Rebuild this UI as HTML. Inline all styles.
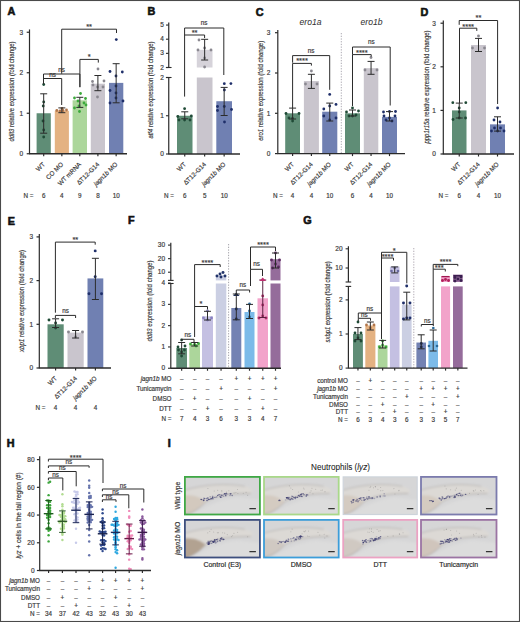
<!DOCTYPE html>
<html><head><meta charset="utf-8"><style>
html,body{margin:0;padding:0;background:#fff;}
svg{display:block;}
text{font-family:"Liberation Sans", sans-serif; stroke:#3a3a3a; stroke-width:0.18px;}
</style></head><body>
<svg width="520" height="622" viewBox="0 0 520 622">
<rect x="0" y="0" width="520" height="622" fill="#fff"/>
<text x="7.50" y="14.90" font-size="10.8" font-weight="bold" fill="#111" style="stroke:#111;stroke-width:0.6px">A</text>
<line x1="29.50" y1="29.45" x2="29.50" y2="153.75" stroke="#2b2b2b" stroke-width="1.2"/>
<line x1="26.70" y1="32.25" x2="29.50" y2="32.25" stroke="#2b2b2b" stroke-width="1.2"/>
<text x="23.20" y="34.55" font-size="6.5" text-anchor="end" font-weight="normal" font-style="normal" fill="#3a3a3a">3</text>
<line x1="26.70" y1="72.75" x2="29.50" y2="72.75" stroke="#2b2b2b" stroke-width="1.2"/>
<text x="23.20" y="75.05" font-size="6.5" text-anchor="end" font-weight="normal" font-style="normal" fill="#3a3a3a">2</text>
<line x1="26.70" y1="113.25" x2="29.50" y2="113.25" stroke="#2b2b2b" stroke-width="1.2"/>
<text x="23.20" y="115.55" font-size="6.5" text-anchor="end" font-weight="normal" font-style="normal" fill="#3a3a3a">1</text>
<line x1="26.70" y1="153.75" x2="29.50" y2="153.75" stroke="#2b2b2b" stroke-width="1.2"/>
<text x="23.20" y="156.05" font-size="6.5" text-anchor="end" font-weight="normal" font-style="normal" fill="#3a3a3a">0</text>
<text x="13.80" y="91.50" font-size="8.0" text-anchor="middle" fill="#3a3a3a" transform="rotate(-90 13.80 91.50)" textLength="100" lengthAdjust="spacingAndGlyphs"><tspan font-style="italic">ddit3</tspan> relative expression (fold change)</text>
<rect x="36.60" y="113.25" width="14.20" height="40.50" fill="#5f8d76"/>
<rect x="54.80" y="110.82" width="14.10" height="42.93" fill="#e4b282"/>
<rect x="72.60" y="100.29" width="14.40" height="53.46" fill="#acd69b"/>
<rect x="90.80" y="83.69" width="14.20" height="70.06" fill="#c9c5cd"/>
<rect x="109.00" y="82.88" width="14.30" height="70.88" fill="#7080b2"/>
<circle cx="43.70" cy="84.50" r="1.4029999999999998" fill="#1f4a36" fill-opacity="1"/>
<circle cx="43.70" cy="102.00" r="1.4029999999999998" fill="#1f4a36" fill-opacity="1"/>
<circle cx="43.20" cy="106.00" r="1.4029999999999998" fill="#1f4a36" fill-opacity="1"/>
<circle cx="43.00" cy="121.00" r="1.4029999999999998" fill="#1f4a36" fill-opacity="1"/>
<circle cx="43.70" cy="130.00" r="1.4029999999999998" fill="#1f4a36" fill-opacity="1"/>
<circle cx="43.70" cy="137.00" r="1.4029999999999998" fill="#1f4a36" fill-opacity="1"/>
<circle cx="56.80" cy="110.50" r="1.4029999999999998" fill="#b2764a" fill-opacity="1"/>
<circle cx="60.00" cy="111.00" r="1.4029999999999998" fill="#b2764a" fill-opacity="1"/>
<circle cx="63.00" cy="110.50" r="1.4029999999999998" fill="#b2764a" fill-opacity="1"/>
<circle cx="66.50" cy="110.00" r="1.4029999999999998" fill="#b2764a" fill-opacity="1"/>
<circle cx="62.00" cy="108.50" r="1.4029999999999998" fill="#b2764a" fill-opacity="1"/>
<circle cx="80.50" cy="93.50" r="1.4029999999999998" fill="#3caa3c" fill-opacity="1"/>
<circle cx="74.50" cy="98.00" r="1.4029999999999998" fill="#3caa3c" fill-opacity="1"/>
<circle cx="85.50" cy="98.50" r="1.4029999999999998" fill="#3caa3c" fill-opacity="1"/>
<circle cx="78.00" cy="101.00" r="1.4029999999999998" fill="#3caa3c" fill-opacity="1"/>
<circle cx="84.00" cy="103.00" r="1.4029999999999998" fill="#3caa3c" fill-opacity="1"/>
<circle cx="79.00" cy="106.00" r="1.4029999999999998" fill="#3caa3c" fill-opacity="1"/>
<circle cx="74.50" cy="108.00" r="1.4029999999999998" fill="#3caa3c" fill-opacity="1"/>
<circle cx="86.00" cy="105.00" r="1.4029999999999998" fill="#3caa3c" fill-opacity="1"/>
<circle cx="79.50" cy="111.50" r="1.4029999999999998" fill="#3caa3c" fill-opacity="1"/>
<circle cx="98.00" cy="69.00" r="1.4029999999999998" fill="#8a8890" fill-opacity="1"/>
<circle cx="92.50" cy="81.50" r="1.4029999999999998" fill="#8a8890" fill-opacity="1"/>
<circle cx="104.00" cy="81.00" r="1.4029999999999998" fill="#8a8890" fill-opacity="1"/>
<circle cx="97.50" cy="87.00" r="1.4029999999999998" fill="#8a8890" fill-opacity="1"/>
<circle cx="97.50" cy="97.00" r="1.4029999999999998" fill="#8a8890" fill-opacity="1"/>
<circle cx="93.00" cy="85.00" r="1.4029999999999998" fill="#8a8890" fill-opacity="1"/>
<circle cx="103.00" cy="87.00" r="1.4029999999999998" fill="#8a8890" fill-opacity="1"/>
<circle cx="116.30" cy="39.60" r="1.4029999999999998" fill="#1f2f6a" fill-opacity="1"/>
<circle cx="110.00" cy="71.50" r="1.4029999999999998" fill="#1f2f6a" fill-opacity="1"/>
<circle cx="122.30" cy="72.00" r="1.4029999999999998" fill="#1f2f6a" fill-opacity="1"/>
<circle cx="116.00" cy="76.00" r="1.4029999999999998" fill="#1f2f6a" fill-opacity="1"/>
<circle cx="116.00" cy="86.00" r="1.4029999999999998" fill="#1f2f6a" fill-opacity="1"/>
<circle cx="110.00" cy="90.50" r="1.4029999999999998" fill="#1f2f6a" fill-opacity="1"/>
<circle cx="116.00" cy="93.00" r="1.4029999999999998" fill="#1f2f6a" fill-opacity="1"/>
<circle cx="123.00" cy="101.00" r="1.4029999999999998" fill="#1f2f6a" fill-opacity="1"/>
<circle cx="110.00" cy="103.00" r="1.4029999999999998" fill="#1f2f6a" fill-opacity="1"/>
<circle cx="116.00" cy="98.00" r="1.4029999999999998" fill="#1f2f6a" fill-opacity="1"/>
<line x1="43.70" y1="93.80" x2="43.70" y2="133.20" stroke="#2b2b2b" stroke-width="1.0"/>
<line x1="40.20" y1="93.80" x2="47.20" y2="93.80" stroke="#2b2b2b" stroke-width="1.0"/>
<line x1="40.20" y1="133.20" x2="47.20" y2="133.20" stroke="#2b2b2b" stroke-width="1.0"/>
<line x1="61.85" y1="107.90" x2="61.85" y2="112.70" stroke="#2b2b2b" stroke-width="1.0"/>
<line x1="58.35" y1="107.90" x2="65.35" y2="107.90" stroke="#2b2b2b" stroke-width="1.0"/>
<line x1="58.35" y1="112.70" x2="65.35" y2="112.70" stroke="#2b2b2b" stroke-width="1.0"/>
<line x1="79.80" y1="97.30" x2="79.80" y2="107.40" stroke="#2b2b2b" stroke-width="1.0"/>
<line x1="76.30" y1="97.30" x2="83.30" y2="97.30" stroke="#2b2b2b" stroke-width="1.0"/>
<line x1="76.30" y1="107.40" x2="83.30" y2="107.40" stroke="#2b2b2b" stroke-width="1.0"/>
<line x1="97.90" y1="75.50" x2="97.90" y2="90.70" stroke="#2b2b2b" stroke-width="1.0"/>
<line x1="94.40" y1="75.50" x2="101.40" y2="75.50" stroke="#2b2b2b" stroke-width="1.0"/>
<line x1="94.40" y1="90.70" x2="101.40" y2="90.70" stroke="#2b2b2b" stroke-width="1.0"/>
<line x1="116.15" y1="63.70" x2="116.15" y2="102.80" stroke="#2b2b2b" stroke-width="1.0"/>
<line x1="112.65" y1="63.70" x2="119.65" y2="63.70" stroke="#2b2b2b" stroke-width="1.0"/>
<line x1="112.65" y1="102.80" x2="119.65" y2="102.80" stroke="#2b2b2b" stroke-width="1.0"/>
<line x1="29.00" y1="153.75" x2="127.00" y2="153.75" stroke="#2b2b2b" stroke-width="1.3"/>
<line x1="43.70" y1="153.75" x2="43.70" y2="156.25" stroke="#2b2b2b" stroke-width="1.1700000000000002"/>
<line x1="61.85" y1="153.75" x2="61.85" y2="156.25" stroke="#2b2b2b" stroke-width="1.1700000000000002"/>
<line x1="79.80" y1="153.75" x2="79.80" y2="156.25" stroke="#2b2b2b" stroke-width="1.1700000000000002"/>
<line x1="97.90" y1="153.75" x2="97.90" y2="156.25" stroke="#2b2b2b" stroke-width="1.1700000000000002"/>
<line x1="116.15" y1="153.75" x2="116.15" y2="156.25" stroke="#2b2b2b" stroke-width="1.1700000000000002"/>
<text x="45.50" y="164.80" font-size="6.3" text-anchor="end" fill="#3a3a3a" transform="rotate(-45 45.50 164.80)">WT</text>
<text x="63.65" y="164.80" font-size="6.3" text-anchor="end" fill="#3a3a3a" transform="rotate(-45 63.65 164.80)">CO MO</text>
<text x="81.60" y="164.80" font-size="6.3" text-anchor="end" fill="#3a3a3a" transform="rotate(-45 81.60 164.80)">WT mRNA</text>
<text x="99.70" y="164.80" font-size="6.3" text-anchor="end" fill="#3a3a3a" transform="rotate(-45 99.70 164.80)">ΔT12-G14</text>
<text x="117.95" y="164.80" font-size="6.3" text-anchor="end" fill="#3a3a3a" transform="rotate(-45 117.95 164.80)"><tspan font-style="italic">jagn1b</tspan> MO</text>
<text x="33.50" y="197.70" font-size="6.3" text-anchor="end" font-weight="normal" font-style="normal" fill="#3a3a3a">N =</text>
<text x="43.70" y="197.70" font-size="6.3" text-anchor="middle" font-weight="normal" font-style="normal" fill="#3a3a3a">6</text>
<text x="61.85" y="197.70" font-size="6.3" text-anchor="middle" font-weight="normal" font-style="normal" fill="#3a3a3a">4</text>
<text x="79.80" y="197.70" font-size="6.3" text-anchor="middle" font-weight="normal" font-style="normal" fill="#3a3a3a">9</text>
<text x="97.90" y="197.70" font-size="6.3" text-anchor="middle" font-weight="normal" font-style="normal" fill="#3a3a3a">8</text>
<text x="116.15" y="197.70" font-size="6.3" text-anchor="middle" font-weight="normal" font-style="normal" fill="#3a3a3a">10</text>
<polyline points="43.50,80.50 43.50,78.50 61.70,78.50 61.70,105.00" fill="none" stroke="#2b2b2b" stroke-width="1.0"/>
<text x="52.60" y="76.50" font-size="6.3" text-anchor="middle" font-weight="normal" font-style="normal" fill="#3a3a3a">ns</text>
<polyline points="43.50,84.00 43.50,74.00 79.90,74.00 79.90,87.30" fill="none" stroke="#2b2b2b" stroke-width="1.0"/>
<text x="61.70" y="71.50" font-size="6.3" text-anchor="middle" font-weight="normal" font-style="normal" fill="#3a3a3a">ns</text>
<polyline points="61.70,73.80 61.70,29.20 116.50,29.20 116.50,33.00" fill="none" stroke="#2b2b2b" stroke-width="1.0"/>
<text x="89.10" y="29.00" font-size="7.5" text-anchor="middle" font-weight="normal" font-style="normal" fill="#3a3a3a">**</text>
<polyline points="79.90,87.00 79.90,59.40 98.30,59.40 98.30,62.60" fill="none" stroke="#2b2b2b" stroke-width="1.0"/>
<text x="89.10" y="59.00" font-size="7.5" text-anchor="middle" font-weight="normal" font-style="normal" fill="#3a3a3a">*</text>
<text x="147.50" y="15.30" font-size="10.8" font-weight="bold" fill="#111" style="stroke:#111;stroke-width:0.6px">B</text>
<line x1="168.75" y1="22.55" x2="168.75" y2="67.50" stroke="#2b2b2b" stroke-width="1.2"/>
<line x1="168.75" y1="77.50" x2="168.75" y2="154.00" stroke="#2b2b2b" stroke-width="1.2"/>
<line x1="165.95" y1="25.05" x2="168.75" y2="25.05" stroke="#2b2b2b" stroke-width="1.1"/>
<text x="163.80" y="27.15" font-size="6.5" text-anchor="end" font-weight="normal" font-style="normal" fill="#3a3a3a">5</text>
<line x1="165.95" y1="39.20" x2="168.75" y2="39.20" stroke="#2b2b2b" stroke-width="1.1"/>
<text x="163.80" y="41.30" font-size="6.5" text-anchor="end" font-weight="normal" font-style="normal" fill="#3a3a3a">4</text>
<line x1="165.95" y1="53.35" x2="168.75" y2="53.35" stroke="#2b2b2b" stroke-width="1.1"/>
<text x="163.80" y="55.45" font-size="6.5" text-anchor="end" font-weight="normal" font-style="normal" fill="#3a3a3a">3</text>
<line x1="165.95" y1="67.50" x2="168.75" y2="67.50" stroke="#2b2b2b" stroke-width="1.1"/>
<text x="163.80" y="69.60" font-size="6.5" text-anchor="end" font-weight="normal" font-style="normal" fill="#3a3a3a">2</text>
<line x1="165.95" y1="67.50" x2="171.55" y2="67.50" stroke="#2b2b2b" stroke-width="1.1"/>
<line x1="165.95" y1="77.50" x2="171.55" y2="77.50" stroke="#2b2b2b" stroke-width="1.1"/>
<line x1="165.95" y1="77.50" x2="168.75" y2="77.50" stroke="#2b2b2b" stroke-width="1.1"/>
<text x="163.80" y="79.60" font-size="6.5" text-anchor="end" font-weight="normal" font-style="normal" fill="#3a3a3a">2</text>
<line x1="165.95" y1="115.75" x2="168.75" y2="115.75" stroke="#2b2b2b" stroke-width="1.1"/>
<text x="163.80" y="117.85" font-size="6.5" text-anchor="end" font-weight="normal" font-style="normal" fill="#3a3a3a">1</text>
<line x1="165.95" y1="154.00" x2="168.75" y2="154.00" stroke="#2b2b2b" stroke-width="1.1"/>
<text x="163.80" y="156.10" font-size="6.5" text-anchor="end" font-weight="normal" font-style="normal" fill="#3a3a3a">0</text>
<text x="153.20" y="90.10" font-size="8.0" text-anchor="middle" fill="#3a3a3a" transform="rotate(-90 153.20 90.10)" textLength="97" lengthAdjust="spacingAndGlyphs"><tspan font-style="italic">atf4</tspan> relative expression (fold change)</text>
<rect x="177.00" y="115.75" width="15.50" height="38.25" fill="#5f8d76"/>
<rect x="196.80" y="77.50" width="15.70" height="76.50" fill="#c9c5cd"/>
<rect x="196.80" y="49.81" width="15.70" height="17.69" fill="#d6d3da"/>
<rect x="216.30" y="101.22" width="15.70" height="52.78" fill="#7080b2"/>
<circle cx="184.60" cy="108.70" r="1.4029999999999998" fill="#1f4a36" fill-opacity="1"/>
<circle cx="177.80" cy="116.50" r="1.4029999999999998" fill="#1f4a36" fill-opacity="1"/>
<circle cx="191.30" cy="116.00" r="1.4029999999999998" fill="#1f4a36" fill-opacity="1"/>
<circle cx="179.00" cy="120.00" r="1.4029999999999998" fill="#1f4a36" fill-opacity="1"/>
<circle cx="190.00" cy="120.00" r="1.4029999999999998" fill="#1f4a36" fill-opacity="1"/>
<circle cx="184.60" cy="120.00" r="1.4029999999999998" fill="#1f4a36" fill-opacity="1"/>
<circle cx="199.00" cy="40.00" r="1.4029999999999998" fill="#8a8890" fill-opacity="1"/>
<circle cx="211.00" cy="50.00" r="1.4029999999999998" fill="#8a8890" fill-opacity="1"/>
<circle cx="198.00" cy="50.00" r="1.4029999999999998" fill="#8a8890" fill-opacity="1"/>
<circle cx="204.60" cy="48.00" r="1.4029999999999998" fill="#8a8890" fill-opacity="1"/>
<circle cx="204.60" cy="67.00" r="1.4029999999999998" fill="#8a8890" fill-opacity="1"/>
<circle cx="204.60" cy="58.00" r="1.4029999999999998" fill="#8a8890" fill-opacity="1"/>
<circle cx="224.30" cy="83.70" r="1.4029999999999998" fill="#1f2f6a" fill-opacity="1"/>
<circle cx="230.90" cy="83.60" r="1.4029999999999998" fill="#1f2f6a" fill-opacity="1"/>
<circle cx="224.40" cy="90.00" r="1.4029999999999998" fill="#1f2f6a" fill-opacity="1"/>
<circle cx="217.50" cy="106.50" r="1.4029999999999998" fill="#1f2f6a" fill-opacity="1"/>
<circle cx="224.30" cy="106.50" r="1.4029999999999998" fill="#1f2f6a" fill-opacity="1"/>
<circle cx="231.50" cy="109.50" r="1.4029999999999998" fill="#1f2f6a" fill-opacity="1"/>
<circle cx="217.50" cy="110.50" r="1.4029999999999998" fill="#1f2f6a" fill-opacity="1"/>
<circle cx="224.50" cy="122.00" r="1.4029999999999998" fill="#1f2f6a" fill-opacity="1"/>
<line x1="184.75" y1="111.80" x2="184.75" y2="118.80" stroke="#2b2b2b" stroke-width="1.0"/>
<line x1="181.25" y1="111.80" x2="188.25" y2="111.80" stroke="#2b2b2b" stroke-width="1.0"/>
<line x1="181.25" y1="118.80" x2="188.25" y2="118.80" stroke="#2b2b2b" stroke-width="1.0"/>
<line x1="204.65" y1="39.30" x2="204.65" y2="60.00" stroke="#2b2b2b" stroke-width="1.0"/>
<line x1="201.15" y1="39.30" x2="208.15" y2="39.30" stroke="#2b2b2b" stroke-width="1.0"/>
<line x1="201.15" y1="60.00" x2="208.15" y2="60.00" stroke="#2b2b2b" stroke-width="1.0"/>
<line x1="224.15" y1="87.40" x2="224.15" y2="115.50" stroke="#2b2b2b" stroke-width="1.0"/>
<line x1="220.65" y1="87.40" x2="227.65" y2="87.40" stroke="#2b2b2b" stroke-width="1.0"/>
<line x1="220.65" y1="115.50" x2="227.65" y2="115.50" stroke="#2b2b2b" stroke-width="1.0"/>
<line x1="168.25" y1="154.00" x2="240.00" y2="154.00" stroke="#2b2b2b" stroke-width="1.3"/>
<line x1="184.75" y1="154.00" x2="184.75" y2="156.50" stroke="#2b2b2b" stroke-width="1.1700000000000002"/>
<line x1="204.65" y1="154.00" x2="204.65" y2="156.50" stroke="#2b2b2b" stroke-width="1.1700000000000002"/>
<line x1="224.15" y1="154.00" x2="224.15" y2="156.50" stroke="#2b2b2b" stroke-width="1.1700000000000002"/>
<text x="186.55" y="164.80" font-size="6.3" text-anchor="end" fill="#3a3a3a" transform="rotate(-45 186.55 164.80)">WT</text>
<text x="206.45" y="164.80" font-size="6.3" text-anchor="end" fill="#3a3a3a" transform="rotate(-45 206.45 164.80)">ΔT12-G14</text>
<text x="225.95" y="164.80" font-size="6.3" text-anchor="end" fill="#3a3a3a" transform="rotate(-45 225.95 164.80)"><tspan font-style="italic">jagn1b</tspan> MO</text>
<text x="174.00" y="197.70" font-size="6.3" text-anchor="end" font-weight="normal" font-style="normal" fill="#3a3a3a">N =</text>
<text x="184.75" y="197.70" font-size="6.3" text-anchor="middle" font-weight="normal" font-style="normal" fill="#3a3a3a">6</text>
<text x="204.65" y="197.70" font-size="6.3" text-anchor="middle" font-weight="normal" font-style="normal" fill="#3a3a3a">5</text>
<text x="224.15" y="197.70" font-size="6.3" text-anchor="middle" font-weight="normal" font-style="normal" fill="#3a3a3a">10</text>
<polyline points="184.60,35.00 184.60,28.00 223.80,28.00 223.80,75.00" fill="none" stroke="#2b2b2b" stroke-width="1.0"/>
<text x="204.20" y="25.00" font-size="6.3" text-anchor="middle" font-weight="normal" font-style="normal" fill="#3a3a3a">ns</text>
<polyline points="184.60,96.60 184.60,35.00 204.60,35.00 204.60,38.00" fill="none" stroke="#2b2b2b" stroke-width="1.0"/>
<text x="194.60" y="34.50" font-size="7.5" text-anchor="middle" font-weight="normal" font-style="normal" fill="#3a3a3a">**</text>
<text x="255.80" y="15.50" font-size="10.8" font-weight="bold" fill="#111" style="stroke:#111;stroke-width:0.6px">C</text>
<line x1="277.80" y1="29.90" x2="277.80" y2="153.60" stroke="#2b2b2b" stroke-width="1.2"/>
<line x1="275.00" y1="32.70" x2="277.80" y2="32.70" stroke="#2b2b2b" stroke-width="1.2"/>
<text x="270.30" y="35.00" font-size="6.5" text-anchor="end" font-weight="normal" font-style="normal" fill="#3a3a3a">3</text>
<line x1="275.00" y1="73.00" x2="277.80" y2="73.00" stroke="#2b2b2b" stroke-width="1.2"/>
<text x="270.30" y="75.30" font-size="6.5" text-anchor="end" font-weight="normal" font-style="normal" fill="#3a3a3a">2</text>
<line x1="275.00" y1="113.30" x2="277.80" y2="113.30" stroke="#2b2b2b" stroke-width="1.2"/>
<text x="270.30" y="115.60" font-size="6.5" text-anchor="end" font-weight="normal" font-style="normal" fill="#3a3a3a">1</text>
<line x1="275.00" y1="153.60" x2="277.80" y2="153.60" stroke="#2b2b2b" stroke-width="1.2"/>
<text x="270.30" y="155.90" font-size="6.5" text-anchor="end" font-weight="normal" font-style="normal" fill="#3a3a3a">0</text>
<text x="263.00" y="90.80" font-size="8.0" text-anchor="middle" fill="#3a3a3a" transform="rotate(-90 263.00 90.80)" textLength="100" lengthAdjust="spacingAndGlyphs"><tspan font-style="italic">ero1</tspan> relative expression (fold change)</text>
<text x="310.6" y="25.3" font-size="8.6" text-anchor="middle" font-style="italic" fill="#333" style="stroke-width:0.05px">ero1a</text>
<text x="371.5" y="25.3" font-size="8.6" text-anchor="middle" font-style="italic" fill="#333" style="stroke-width:0.05px">ero1b</text>
<line x1="341.30" y1="33.00" x2="341.30" y2="153.00" stroke="#a4a0aa" stroke-width="0.9" stroke-dasharray="1.3,1.4"/>
<rect x="285.20" y="113.30" width="14.80" height="40.30" fill="#5f8d76"/>
<rect x="303.90" y="81.06" width="15.00" height="72.54" fill="#c9c5cd"/>
<rect x="322.20" y="111.69" width="15.10" height="41.91" fill="#7080b2"/>
<rect x="345.00" y="113.30" width="15.00" height="40.30" fill="#5f8d76"/>
<rect x="363.80" y="68.16" width="14.50" height="85.44" fill="#c9c5cd"/>
<rect x="382.00" y="116.93" width="15.00" height="36.67" fill="#7080b2"/>
<circle cx="286.00" cy="113.50" r="1.4029999999999998" fill="#1f4a36" fill-opacity="1"/>
<circle cx="299.00" cy="113.50" r="1.4029999999999998" fill="#1f4a36" fill-opacity="1"/>
<circle cx="292.50" cy="118.40" r="1.4029999999999998" fill="#1f4a36" fill-opacity="1"/>
<circle cx="292.60" cy="121.00" r="1.4029999999999998" fill="#1f4a36" fill-opacity="1"/>
<circle cx="289.00" cy="118.00" r="1.4029999999999998" fill="#1f4a36" fill-opacity="1"/>
<circle cx="311.40" cy="71.00" r="1.4029999999999998" fill="#8a8890" fill-opacity="1"/>
<circle cx="305.50" cy="84.00" r="1.4029999999999998" fill="#8a8890" fill-opacity="1"/>
<circle cx="317.00" cy="84.00" r="1.4029999999999998" fill="#8a8890" fill-opacity="1"/>
<circle cx="329.70" cy="94.40" r="1.4029999999999998" fill="#1f2f6a" fill-opacity="1"/>
<circle cx="323.80" cy="109.00" r="1.4029999999999998" fill="#1f2f6a" fill-opacity="1"/>
<circle cx="336.00" cy="104.40" r="1.4029999999999998" fill="#1f2f6a" fill-opacity="1"/>
<circle cx="329.70" cy="106.00" r="1.4029999999999998" fill="#1f2f6a" fill-opacity="1"/>
<circle cx="323.80" cy="116.00" r="1.4029999999999998" fill="#1f2f6a" fill-opacity="1"/>
<circle cx="336.00" cy="118.00" r="1.4029999999999998" fill="#1f2f6a" fill-opacity="1"/>
<circle cx="329.70" cy="120.00" r="1.4029999999999998" fill="#1f2f6a" fill-opacity="1"/>
<circle cx="352.50" cy="108.00" r="1.4029999999999998" fill="#1f4a36" fill-opacity="1"/>
<circle cx="346.50" cy="112.00" r="1.4029999999999998" fill="#1f4a36" fill-opacity="1"/>
<circle cx="358.50" cy="111.00" r="1.4029999999999998" fill="#1f4a36" fill-opacity="1"/>
<circle cx="352.50" cy="116.00" r="1.4029999999999998" fill="#1f4a36" fill-opacity="1"/>
<circle cx="349.00" cy="116.00" r="1.4029999999999998" fill="#1f4a36" fill-opacity="1"/>
<circle cx="356.00" cy="115.00" r="1.4029999999999998" fill="#1f4a36" fill-opacity="1"/>
<circle cx="371.00" cy="57.50" r="1.4029999999999998" fill="#8a8890" fill-opacity="1"/>
<circle cx="365.00" cy="70.00" r="1.4029999999999998" fill="#8a8890" fill-opacity="1"/>
<circle cx="377.00" cy="70.00" r="1.4029999999999998" fill="#8a8890" fill-opacity="1"/>
<circle cx="389.50" cy="111.50" r="1.4029999999999998" fill="#1f2f6a" fill-opacity="1"/>
<circle cx="383.50" cy="112.00" r="1.4029999999999998" fill="#1f2f6a" fill-opacity="1"/>
<circle cx="395.50" cy="111.50" r="1.4029999999999998" fill="#1f2f6a" fill-opacity="1"/>
<circle cx="386.00" cy="120.00" r="1.4029999999999998" fill="#1f2f6a" fill-opacity="1"/>
<circle cx="392.00" cy="121.00" r="1.4029999999999998" fill="#1f2f6a" fill-opacity="1"/>
<circle cx="389.50" cy="118.00" r="1.4029999999999998" fill="#1f2f6a" fill-opacity="1"/>
<circle cx="384.00" cy="116.00" r="1.4029999999999998" fill="#1f2f6a" fill-opacity="1"/>
<circle cx="395.00" cy="116.00" r="1.4029999999999998" fill="#1f2f6a" fill-opacity="1"/>
<line x1="292.60" y1="108.10" x2="292.60" y2="119.00" stroke="#2b2b2b" stroke-width="1.0"/>
<line x1="289.10" y1="108.10" x2="296.10" y2="108.10" stroke="#2b2b2b" stroke-width="1.0"/>
<line x1="289.10" y1="119.00" x2="296.10" y2="119.00" stroke="#2b2b2b" stroke-width="1.0"/>
<line x1="311.40" y1="74.30" x2="311.40" y2="88.40" stroke="#2b2b2b" stroke-width="1.0"/>
<line x1="307.90" y1="74.30" x2="314.90" y2="74.30" stroke="#2b2b2b" stroke-width="1.0"/>
<line x1="307.90" y1="88.40" x2="314.90" y2="88.40" stroke="#2b2b2b" stroke-width="1.0"/>
<line x1="329.75" y1="103.10" x2="329.75" y2="121.00" stroke="#2b2b2b" stroke-width="1.0"/>
<line x1="326.25" y1="103.10" x2="333.25" y2="103.10" stroke="#2b2b2b" stroke-width="1.0"/>
<line x1="326.25" y1="121.00" x2="333.25" y2="121.00" stroke="#2b2b2b" stroke-width="1.0"/>
<line x1="352.50" y1="110.00" x2="352.50" y2="116.00" stroke="#2b2b2b" stroke-width="1.0"/>
<line x1="349.00" y1="110.00" x2="356.00" y2="110.00" stroke="#2b2b2b" stroke-width="1.0"/>
<line x1="349.00" y1="116.00" x2="356.00" y2="116.00" stroke="#2b2b2b" stroke-width="1.0"/>
<line x1="371.05" y1="61.40" x2="371.05" y2="74.30" stroke="#2b2b2b" stroke-width="1.0"/>
<line x1="367.55" y1="61.40" x2="374.55" y2="61.40" stroke="#2b2b2b" stroke-width="1.0"/>
<line x1="367.55" y1="74.30" x2="374.55" y2="74.30" stroke="#2b2b2b" stroke-width="1.0"/>
<line x1="389.50" y1="111.60" x2="389.50" y2="121.00" stroke="#2b2b2b" stroke-width="1.0"/>
<line x1="386.00" y1="111.60" x2="393.00" y2="111.60" stroke="#2b2b2b" stroke-width="1.0"/>
<line x1="386.00" y1="121.00" x2="393.00" y2="121.00" stroke="#2b2b2b" stroke-width="1.0"/>
<line x1="277.30" y1="153.60" x2="405.00" y2="153.60" stroke="#2b2b2b" stroke-width="1.3"/>
<line x1="292.60" y1="153.60" x2="292.60" y2="156.10" stroke="#2b2b2b" stroke-width="1.1700000000000002"/>
<line x1="311.40" y1="153.60" x2="311.40" y2="156.10" stroke="#2b2b2b" stroke-width="1.1700000000000002"/>
<line x1="329.75" y1="153.60" x2="329.75" y2="156.10" stroke="#2b2b2b" stroke-width="1.1700000000000002"/>
<line x1="352.50" y1="153.60" x2="352.50" y2="156.10" stroke="#2b2b2b" stroke-width="1.1700000000000002"/>
<line x1="371.05" y1="153.60" x2="371.05" y2="156.10" stroke="#2b2b2b" stroke-width="1.1700000000000002"/>
<line x1="389.50" y1="153.60" x2="389.50" y2="156.10" stroke="#2b2b2b" stroke-width="1.1700000000000002"/>
<text x="294.40" y="164.80" font-size="6.3" text-anchor="end" fill="#3a3a3a" transform="rotate(-45 294.40 164.80)">WT</text>
<text x="313.20" y="164.80" font-size="6.3" text-anchor="end" fill="#3a3a3a" transform="rotate(-45 313.20 164.80)">ΔT12-G14</text>
<text x="331.55" y="164.80" font-size="6.3" text-anchor="end" fill="#3a3a3a" transform="rotate(-45 331.55 164.80)"><tspan font-style="italic">jagn1b</tspan> MO</text>
<text x="354.30" y="164.80" font-size="6.3" text-anchor="end" fill="#3a3a3a" transform="rotate(-45 354.30 164.80)">WT</text>
<text x="372.85" y="164.80" font-size="6.3" text-anchor="end" fill="#3a3a3a" transform="rotate(-45 372.85 164.80)">ΔT12-G14</text>
<text x="391.30" y="164.80" font-size="6.3" text-anchor="end" fill="#3a3a3a" transform="rotate(-45 391.30 164.80)"><tspan font-style="italic">jagn1b</tspan> MO</text>
<text x="283.00" y="197.70" font-size="6.3" text-anchor="end" font-weight="normal" font-style="normal" fill="#3a3a3a">N =</text>
<text x="292.60" y="197.70" font-size="6.3" text-anchor="middle" font-weight="normal" font-style="normal" fill="#3a3a3a">4</text>
<text x="311.40" y="197.70" font-size="6.3" text-anchor="middle" font-weight="normal" font-style="normal" fill="#3a3a3a">4</text>
<text x="329.75" y="197.70" font-size="6.3" text-anchor="middle" font-weight="normal" font-style="normal" fill="#3a3a3a">10</text>
<text x="352.50" y="197.70" font-size="6.3" text-anchor="middle" font-weight="normal" font-style="normal" fill="#3a3a3a">6</text>
<text x="371.05" y="197.70" font-size="6.3" text-anchor="middle" font-weight="normal" font-style="normal" fill="#3a3a3a">4</text>
<text x="389.50" y="197.70" font-size="6.3" text-anchor="middle" font-weight="normal" font-style="normal" fill="#3a3a3a">10</text>
<polyline points="292.60,62.70 292.60,55.60 329.70,55.60 329.70,89.80" fill="none" stroke="#2b2b2b" stroke-width="1.0"/>
<text x="311.15" y="52.50" font-size="6.3" text-anchor="middle" font-weight="normal" font-style="normal" fill="#3a3a3a">ns</text>
<polyline points="292.60,108.00 292.60,63.40 311.40,63.40 311.40,65.60" fill="none" stroke="#2b2b2b" stroke-width="1.0"/>
<text x="302.00" y="63.00" font-size="7.5" text-anchor="middle" font-weight="normal" font-style="normal" fill="#3a3a3a">****</text>
<polyline points="352.50,54.60 352.50,47.00 390.20,47.00 390.20,105.50" fill="none" stroke="#2b2b2b" stroke-width="1.0"/>
<text x="371.35" y="44.00" font-size="6.3" text-anchor="middle" font-weight="normal" font-style="normal" fill="#3a3a3a">ns</text>
<polyline points="352.50,106.00 352.50,54.60 371.20,54.60 371.20,56.50" fill="none" stroke="#2b2b2b" stroke-width="1.0"/>
<text x="361.85" y="54.50" font-size="7.5" text-anchor="middle" font-weight="normal" font-style="normal" fill="#3a3a3a">****</text>
<text x="420.50" y="15.80" font-size="10.8" font-weight="bold" fill="#111" style="stroke:#111;stroke-width:0.6px">D</text>
<line x1="443.30" y1="20.40" x2="443.30" y2="154.00" stroke="#2b2b2b" stroke-width="1.2"/>
<line x1="440.50" y1="23.20" x2="443.30" y2="23.20" stroke="#2b2b2b" stroke-width="1.2"/>
<text x="435.80" y="25.50" font-size="6.5" text-anchor="end" font-weight="normal" font-style="normal" fill="#3a3a3a">3</text>
<line x1="440.50" y1="66.80" x2="443.30" y2="66.80" stroke="#2b2b2b" stroke-width="1.2"/>
<text x="435.80" y="69.10" font-size="6.5" text-anchor="end" font-weight="normal" font-style="normal" fill="#3a3a3a">2</text>
<line x1="440.50" y1="110.40" x2="443.30" y2="110.40" stroke="#2b2b2b" stroke-width="1.2"/>
<text x="435.80" y="112.70" font-size="6.5" text-anchor="end" font-weight="normal" font-style="normal" fill="#3a3a3a">1</text>
<line x1="440.50" y1="154.00" x2="443.30" y2="154.00" stroke="#2b2b2b" stroke-width="1.2"/>
<text x="435.80" y="156.30" font-size="6.5" text-anchor="end" font-weight="normal" font-style="normal" fill="#3a3a3a">0</text>
<text x="429.20" y="87.00" font-size="8.0" text-anchor="middle" fill="#3a3a3a" transform="rotate(-90 429.20 87.00)" textLength="113" lengthAdjust="spacingAndGlyphs"><tspan font-style="italic">ppp1r15a</tspan> relative expression (fold change)</text>
<rect x="452.00" y="110.40" width="14.50" height="43.60" fill="#5f8d76"/>
<rect x="471.00" y="45.00" width="15.00" height="109.00" fill="#c9c5cd"/>
<rect x="490.00" y="124.35" width="15.00" height="29.65" fill="#7080b2"/>
<circle cx="452.80" cy="102.70" r="1.4029999999999998" fill="#1f4a36" fill-opacity="1"/>
<circle cx="465.80" cy="102.70" r="1.4029999999999998" fill="#1f4a36" fill-opacity="1"/>
<circle cx="459.20" cy="108.00" r="1.4029999999999998" fill="#1f4a36" fill-opacity="1"/>
<circle cx="459.20" cy="112.00" r="1.4029999999999998" fill="#1f4a36" fill-opacity="1"/>
<circle cx="453.00" cy="119.50" r="1.4029999999999998" fill="#1f4a36" fill-opacity="1"/>
<circle cx="465.50" cy="118.00" r="1.4029999999999998" fill="#1f4a36" fill-opacity="1"/>
<circle cx="459.20" cy="118.00" r="1.4029999999999998" fill="#1f4a36" fill-opacity="1"/>
<circle cx="478.50" cy="36.00" r="1.4029999999999998" fill="#8a8890" fill-opacity="1"/>
<circle cx="472.50" cy="48.00" r="1.4029999999999998" fill="#8a8890" fill-opacity="1"/>
<circle cx="484.50" cy="48.00" r="1.4029999999999998" fill="#8a8890" fill-opacity="1"/>
<circle cx="497.60" cy="108.00" r="1.4029999999999998" fill="#1f2f6a" fill-opacity="1"/>
<circle cx="494.00" cy="120.00" r="1.4029999999999998" fill="#1f2f6a" fill-opacity="1"/>
<circle cx="500.00" cy="122.00" r="1.4029999999999998" fill="#1f2f6a" fill-opacity="1"/>
<circle cx="491.50" cy="131.00" r="1.4029999999999998" fill="#1f2f6a" fill-opacity="1"/>
<circle cx="497.60" cy="131.00" r="1.4029999999999998" fill="#1f2f6a" fill-opacity="1"/>
<circle cx="504.00" cy="131.00" r="1.4029999999999998" fill="#1f2f6a" fill-opacity="1"/>
<circle cx="494.50" cy="128.00" r="1.4029999999999998" fill="#1f2f6a" fill-opacity="1"/>
<circle cx="500.50" cy="128.00" r="1.4029999999999998" fill="#1f2f6a" fill-opacity="1"/>
<line x1="459.25" y1="103.10" x2="459.25" y2="118.00" stroke="#2b2b2b" stroke-width="1.0"/>
<line x1="455.75" y1="103.10" x2="462.75" y2="103.10" stroke="#2b2b2b" stroke-width="1.0"/>
<line x1="455.75" y1="118.00" x2="462.75" y2="118.00" stroke="#2b2b2b" stroke-width="1.0"/>
<line x1="478.50" y1="38.40" x2="478.50" y2="51.50" stroke="#2b2b2b" stroke-width="1.0"/>
<line x1="475.00" y1="38.40" x2="482.00" y2="38.40" stroke="#2b2b2b" stroke-width="1.0"/>
<line x1="475.00" y1="51.50" x2="482.00" y2="51.50" stroke="#2b2b2b" stroke-width="1.0"/>
<line x1="497.50" y1="116.80" x2="497.50" y2="131.10" stroke="#2b2b2b" stroke-width="1.0"/>
<line x1="494.00" y1="116.80" x2="501.00" y2="116.80" stroke="#2b2b2b" stroke-width="1.0"/>
<line x1="494.00" y1="131.10" x2="501.00" y2="131.10" stroke="#2b2b2b" stroke-width="1.0"/>
<line x1="442.80" y1="154.00" x2="514.00" y2="154.00" stroke="#2b2b2b" stroke-width="1.3"/>
<line x1="459.25" y1="154.00" x2="459.25" y2="156.50" stroke="#2b2b2b" stroke-width="1.1700000000000002"/>
<line x1="478.50" y1="154.00" x2="478.50" y2="156.50" stroke="#2b2b2b" stroke-width="1.1700000000000002"/>
<line x1="497.50" y1="154.00" x2="497.50" y2="156.50" stroke="#2b2b2b" stroke-width="1.1700000000000002"/>
<text x="461.05" y="164.80" font-size="6.3" text-anchor="end" fill="#3a3a3a" transform="rotate(-45 461.05 164.80)">WT</text>
<text x="480.30" y="164.80" font-size="6.3" text-anchor="end" fill="#3a3a3a" transform="rotate(-45 480.30 164.80)">ΔT12-G14</text>
<text x="499.30" y="164.80" font-size="6.3" text-anchor="end" fill="#3a3a3a" transform="rotate(-45 499.30 164.80)"><tspan font-style="italic">jagn1b</tspan> MO</text>
<text x="448.50" y="197.70" font-size="6.3" text-anchor="end" font-weight="normal" font-style="normal" fill="#3a3a3a">N =</text>
<text x="459.25" y="197.70" font-size="6.3" text-anchor="middle" font-weight="normal" font-style="normal" fill="#3a3a3a">6</text>
<text x="478.50" y="197.70" font-size="6.3" text-anchor="middle" font-weight="normal" font-style="normal" fill="#3a3a3a">4</text>
<text x="497.50" y="197.70" font-size="6.3" text-anchor="middle" font-weight="normal" font-style="normal" fill="#3a3a3a">10</text>
<polyline points="459.20,24.80 459.20,20.50 497.60,20.50 497.60,104.00" fill="none" stroke="#2b2b2b" stroke-width="1.0"/>
<text x="478.40" y="20.00" font-size="7.5" text-anchor="middle" font-weight="normal" font-style="normal" fill="#3a3a3a">**</text>
<polyline points="459.50,103.10 459.50,28.20 476.80,28.20 476.80,30.90" fill="none" stroke="#2b2b2b" stroke-width="1.0"/>
<text x="468.15" y="28.80" font-size="7.5" text-anchor="middle" font-weight="normal" font-style="normal" fill="#3a3a3a">****</text>
<text x="7.70" y="224.60" font-size="10.8" font-weight="bold" fill="#111" style="stroke:#111;stroke-width:0.6px">E</text>
<line x1="39.30" y1="234.10" x2="39.30" y2="368.00" stroke="#2b2b2b" stroke-width="1.2"/>
<line x1="36.50" y1="236.90" x2="39.30" y2="236.90" stroke="#2b2b2b" stroke-width="1.2"/>
<text x="33.20" y="239.20" font-size="6.5" text-anchor="end" font-weight="normal" font-style="normal" fill="#3a3a3a">3</text>
<line x1="36.50" y1="280.60" x2="39.30" y2="280.60" stroke="#2b2b2b" stroke-width="1.2"/>
<text x="33.20" y="282.90" font-size="6.5" text-anchor="end" font-weight="normal" font-style="normal" fill="#3a3a3a">2</text>
<line x1="36.50" y1="324.30" x2="39.30" y2="324.30" stroke="#2b2b2b" stroke-width="1.2"/>
<text x="33.20" y="326.60" font-size="6.5" text-anchor="end" font-weight="normal" font-style="normal" fill="#3a3a3a">1</text>
<line x1="36.50" y1="368.00" x2="39.30" y2="368.00" stroke="#2b2b2b" stroke-width="1.2"/>
<text x="33.20" y="370.30" font-size="6.5" text-anchor="end" font-weight="normal" font-style="normal" fill="#3a3a3a">0</text>
<text x="23.90" y="300.90" font-size="8.0" text-anchor="middle" fill="#3a3a3a" transform="rotate(-90 23.90 300.90)" textLength="102" lengthAdjust="spacingAndGlyphs"><tspan font-style="italic">xbp1</tspan> relative expression (fold change)</text>
<rect x="47.50" y="324.30" width="16.20" height="43.70" fill="#5f8d76"/>
<rect x="67.50" y="332.60" width="16.20" height="35.40" fill="#c9c5cd"/>
<rect x="87.50" y="278.42" width="15.80" height="89.58" fill="#7080b2"/>
<circle cx="49.00" cy="320.00" r="1.464" fill="#1f4a36" fill-opacity="1"/>
<circle cx="62.50" cy="320.00" r="1.464" fill="#1f4a36" fill-opacity="1"/>
<circle cx="55.60" cy="328.00" r="1.464" fill="#1f4a36" fill-opacity="1"/>
<circle cx="55.60" cy="323.00" r="1.464" fill="#1f4a36" fill-opacity="1"/>
<circle cx="68.50" cy="332.00" r="1.464" fill="#8a8890" fill-opacity="1"/>
<circle cx="82.50" cy="332.00" r="1.464" fill="#8a8890" fill-opacity="1"/>
<circle cx="75.60" cy="337.00" r="1.464" fill="#8a8890" fill-opacity="1"/>
<circle cx="95.20" cy="250.90" r="1.464" fill="#1f2f6a" fill-opacity="1"/>
<circle cx="95.20" cy="276.70" r="1.464" fill="#1f2f6a" fill-opacity="1"/>
<circle cx="89.00" cy="293.70" r="1.464" fill="#1f2f6a" fill-opacity="1"/>
<circle cx="101.50" cy="293.70" r="1.464" fill="#1f2f6a" fill-opacity="1"/>
<line x1="55.60" y1="318.80" x2="55.60" y2="327.50" stroke="#2b2b2b" stroke-width="1.0"/>
<line x1="52.10" y1="318.80" x2="59.10" y2="318.80" stroke="#2b2b2b" stroke-width="1.0"/>
<line x1="52.10" y1="327.50" x2="59.10" y2="327.50" stroke="#2b2b2b" stroke-width="1.0"/>
<line x1="75.60" y1="330.50" x2="75.60" y2="338.00" stroke="#2b2b2b" stroke-width="1.0"/>
<line x1="72.10" y1="330.50" x2="79.10" y2="330.50" stroke="#2b2b2b" stroke-width="1.0"/>
<line x1="72.10" y1="338.00" x2="79.10" y2="338.00" stroke="#2b2b2b" stroke-width="1.0"/>
<line x1="95.40" y1="258.30" x2="95.40" y2="299.50" stroke="#2b2b2b" stroke-width="1.0"/>
<line x1="91.90" y1="258.30" x2="98.90" y2="258.30" stroke="#2b2b2b" stroke-width="1.0"/>
<line x1="91.90" y1="299.50" x2="98.90" y2="299.50" stroke="#2b2b2b" stroke-width="1.0"/>
<line x1="38.80" y1="368.00" x2="111.00" y2="368.00" stroke="#2b2b2b" stroke-width="1.3"/>
<line x1="55.60" y1="368.00" x2="55.60" y2="370.50" stroke="#2b2b2b" stroke-width="1.1700000000000002"/>
<line x1="75.60" y1="368.00" x2="75.60" y2="370.50" stroke="#2b2b2b" stroke-width="1.1700000000000002"/>
<line x1="95.40" y1="368.00" x2="95.40" y2="370.50" stroke="#2b2b2b" stroke-width="1.1700000000000002"/>
<text x="57.40" y="378.80" font-size="6.3" text-anchor="end" fill="#3a3a3a" transform="rotate(-45 57.40 378.80)">WT</text>
<text x="77.40" y="378.80" font-size="6.3" text-anchor="end" fill="#3a3a3a" transform="rotate(-45 77.40 378.80)">ΔT12-G14</text>
<text x="97.20" y="378.80" font-size="6.3" text-anchor="end" fill="#3a3a3a" transform="rotate(-45 97.20 378.80)"><tspan font-style="italic">jagn1b</tspan> MO</text>
<text x="45.50" y="410.20" font-size="6.3" text-anchor="end" font-weight="normal" font-style="normal" fill="#3a3a3a">N =</text>
<text x="55.60" y="410.20" font-size="6.3" text-anchor="middle" font-weight="normal" font-style="normal" fill="#3a3a3a">4</text>
<text x="75.60" y="410.20" font-size="6.3" text-anchor="middle" font-weight="normal" font-style="normal" fill="#3a3a3a">4</text>
<text x="95.40" y="410.20" font-size="6.3" text-anchor="middle" font-weight="normal" font-style="normal" fill="#3a3a3a">4</text>
<polyline points="55.40,312.70 55.40,242.10 95.20,242.10 95.20,244.70" fill="none" stroke="#2b2b2b" stroke-width="1.0"/>
<text x="75.30" y="241.50" font-size="7.5" text-anchor="middle" font-weight="normal" font-style="normal" fill="#3a3a3a">**</text>
<polyline points="55.40,318.00 55.40,315.40 75.60,315.40 75.60,318.00" fill="none" stroke="#2b2b2b" stroke-width="1.0"/>
<text x="65.50" y="313.30" font-size="6.3" text-anchor="middle" font-weight="normal" font-style="normal" fill="#3a3a3a">ns</text>
<text x="127.90" y="224.30" font-size="10.8" font-weight="bold" fill="#111" style="stroke:#111;stroke-width:0.6px">F</text>
<line x1="170.80" y1="242.80" x2="170.80" y2="280.40" stroke="#2b2b2b" stroke-width="1.2"/>
<line x1="170.80" y1="283.50" x2="170.80" y2="368.25" stroke="#2b2b2b" stroke-width="1.2"/>
<line x1="168.00" y1="245.10" x2="170.80" y2="245.10" stroke="#2b2b2b" stroke-width="1.1"/>
<text x="165.00" y="247.20" font-size="6.5" text-anchor="end" font-weight="normal" font-style="normal" fill="#3a3a3a">30</text>
<line x1="168.00" y1="258.65" x2="170.80" y2="258.65" stroke="#2b2b2b" stroke-width="1.1"/>
<text x="165.00" y="260.75" font-size="6.5" text-anchor="end" font-weight="normal" font-style="normal" fill="#3a3a3a">20</text>
<line x1="168.00" y1="272.20" x2="170.80" y2="272.20" stroke="#2b2b2b" stroke-width="1.1"/>
<text x="165.00" y="274.30" font-size="6.5" text-anchor="end" font-weight="normal" font-style="normal" fill="#3a3a3a">10</text>
<line x1="168.00" y1="280.40" x2="173.60" y2="280.40" stroke="#2b2b2b" stroke-width="1.1"/>
<line x1="168.00" y1="283.50" x2="173.60" y2="283.50" stroke="#2b2b2b" stroke-width="1.1"/>
<line x1="168.00" y1="283.05" x2="170.80" y2="283.05" stroke="#2b2b2b" stroke-width="1.1"/>
<text x="165.00" y="285.15" font-size="6.5" text-anchor="end" font-weight="normal" font-style="normal" fill="#3a3a3a">4</text>
<line x1="168.00" y1="304.35" x2="170.80" y2="304.35" stroke="#2b2b2b" stroke-width="1.1"/>
<text x="165.00" y="306.45" font-size="6.5" text-anchor="end" font-weight="normal" font-style="normal" fill="#3a3a3a">3</text>
<line x1="168.00" y1="325.65" x2="170.80" y2="325.65" stroke="#2b2b2b" stroke-width="1.1"/>
<text x="165.00" y="327.75" font-size="6.5" text-anchor="end" font-weight="normal" font-style="normal" fill="#3a3a3a">2</text>
<line x1="168.00" y1="346.95" x2="170.80" y2="346.95" stroke="#2b2b2b" stroke-width="1.1"/>
<text x="165.00" y="349.05" font-size="6.5" text-anchor="end" font-weight="normal" font-style="normal" fill="#3a3a3a">1</text>
<line x1="168.00" y1="368.25" x2="170.80" y2="368.25" stroke="#2b2b2b" stroke-width="1.1"/>
<text x="165.00" y="370.35" font-size="6.5" text-anchor="end" font-weight="normal" font-style="normal" fill="#3a3a3a">0</text>
<text x="152.20" y="301.00" font-size="8.0" text-anchor="middle" fill="#3a3a3a" transform="rotate(-90 152.20 301.00)" textLength="81" lengthAdjust="spacingAndGlyphs"><tspan font-style="italic">ddit3</tspan> expression (fold change)</text>
<line x1="228.60" y1="244.00" x2="228.60" y2="368.00" stroke="#9a98a0" stroke-width="0.9" stroke-dasharray="1.3,1.4"/>
<rect x="176.30" y="348.00" width="10.70" height="20.25" fill="#5f8d76"/>
<rect x="189.30" y="344.00" width="10.70" height="24.25" fill="#acd69b"/>
<rect x="202.00" y="316.30" width="11.00" height="51.95" fill="#c4c0e2"/>
<rect x="215.80" y="283.50" width="10.50" height="84.75" fill="#cbcfe3"/>
<rect x="231.30" y="308.00" width="10.00" height="60.25" fill="#7382b3"/>
<rect x="244.50" y="312.00" width="10.00" height="56.25" fill="#7cbbe9"/>
<rect x="257.50" y="298.30" width="10.50" height="69.95" fill="#f2a3ca"/>
<rect x="270.50" y="283.50" width="10.00" height="84.75" fill="#956c9b"/>
<rect x="215.80" y="275.40" width="10.50" height="5.00" fill="#cbcfe3"/>
<rect x="270.50" y="259.20" width="10.00" height="21.20" fill="#956c9b"/>
<circle cx="181.60" cy="340.00" r="1.4029999999999998" fill="#1f4a36" fill-opacity="1"/>
<circle cx="178.00" cy="347.00" r="1.4029999999999998" fill="#1f4a36" fill-opacity="1"/>
<circle cx="185.00" cy="346.00" r="1.4029999999999998" fill="#1f4a36" fill-opacity="1"/>
<circle cx="181.60" cy="352.00" r="1.4029999999999998" fill="#1f4a36" fill-opacity="1"/>
<circle cx="181.60" cy="356.00" r="1.4029999999999998" fill="#1f4a36" fill-opacity="1"/>
<circle cx="178.50" cy="350.00" r="1.4029999999999998" fill="#1f4a36" fill-opacity="1"/>
<circle cx="184.50" cy="350.00" r="1.4029999999999998" fill="#1f4a36" fill-opacity="1"/>
<circle cx="190.50" cy="344.00" r="1.4029999999999998" fill="#3caa3c" fill-opacity="1"/>
<circle cx="194.50" cy="344.50" r="1.4029999999999998" fill="#3caa3c" fill-opacity="1"/>
<circle cx="198.50" cy="343.50" r="1.4029999999999998" fill="#3caa3c" fill-opacity="1"/>
<circle cx="196.00" cy="346.00" r="1.4029999999999998" fill="#3caa3c" fill-opacity="1"/>
<circle cx="207.50" cy="311.00" r="1.4029999999999998" fill="#8880c0" fill-opacity="1"/>
<circle cx="203.50" cy="318.00" r="1.4029999999999998" fill="#8880c0" fill-opacity="1"/>
<circle cx="211.50" cy="318.00" r="1.4029999999999998" fill="#8880c0" fill-opacity="1"/>
<circle cx="207.50" cy="320.00" r="1.4029999999999998" fill="#8880c0" fill-opacity="1"/>
<circle cx="217.00" cy="276.00" r="1.464" fill="#22336a" fill-opacity="1"/>
<circle cx="220.00" cy="274.00" r="1.464" fill="#22336a" fill-opacity="1"/>
<circle cx="223.00" cy="272.50" r="1.464" fill="#22336a" fill-opacity="1"/>
<circle cx="225.00" cy="276.00" r="1.464" fill="#22336a" fill-opacity="1"/>
<circle cx="221.00" cy="277.00" r="1.464" fill="#22336a" fill-opacity="1"/>
<circle cx="236.30" cy="309.00" r="1.464" fill="#1f2f5a" fill-opacity="1"/>
<circle cx="236.30" cy="319.00" r="1.464" fill="#1f2f5a" fill-opacity="1"/>
<path d="M233,296 L236.3,292.5 L239.6,296 Z" fill="#1f2f5a"/>
<circle cx="249.50" cy="304.00" r="1.4029999999999998" fill="#2a6a9a" fill-opacity="1"/>
<circle cx="249.50" cy="311.00" r="1.4029999999999998" fill="#2a6a9a" fill-opacity="1"/>
<circle cx="249.50" cy="317.00" r="1.4029999999999998" fill="#2a6a9a" fill-opacity="1"/>
<circle cx="262.70" cy="296.00" r="1.464" fill="#b0306a" fill-opacity="1"/>
<circle cx="262.70" cy="305.00" r="1.464" fill="#b0306a" fill-opacity="1"/>
<circle cx="262.70" cy="316.00" r="1.464" fill="#b0306a" fill-opacity="1"/>
<circle cx="259.00" cy="318.00" r="1.464" fill="#b0306a" fill-opacity="1"/>
<circle cx="266.00" cy="318.00" r="1.464" fill="#b0306a" fill-opacity="1"/>
<circle cx="275.50" cy="253.00" r="1.4029999999999998" fill="#5a2a60" fill-opacity="1"/>
<circle cx="271.50" cy="260.00" r="1.4029999999999998" fill="#5a2a60" fill-opacity="1"/>
<circle cx="279.50" cy="260.00" r="1.4029999999999998" fill="#5a2a60" fill-opacity="1"/>
<circle cx="275.50" cy="264.00" r="1.4029999999999998" fill="#5a2a60" fill-opacity="1"/>
<circle cx="272.50" cy="268.00" r="1.4029999999999998" fill="#5a2a60" fill-opacity="1"/>
<circle cx="278.50" cy="267.00" r="1.4029999999999998" fill="#5a2a60" fill-opacity="1"/>
<line x1="181.65" y1="342.50" x2="181.65" y2="353.80" stroke="#2b2b2b" stroke-width="1.0"/>
<line x1="178.15" y1="342.50" x2="185.15" y2="342.50" stroke="#2b2b2b" stroke-width="1.0"/>
<line x1="178.15" y1="353.80" x2="185.15" y2="353.80" stroke="#2b2b2b" stroke-width="1.0"/>
<line x1="194.65" y1="342.50" x2="194.65" y2="346.00" stroke="#2b2b2b" stroke-width="1.0"/>
<line x1="191.15" y1="342.50" x2="198.15" y2="342.50" stroke="#2b2b2b" stroke-width="1.0"/>
<line x1="191.15" y1="346.00" x2="198.15" y2="346.00" stroke="#2b2b2b" stroke-width="1.0"/>
<line x1="207.50" y1="311.30" x2="207.50" y2="320.00" stroke="#2b2b2b" stroke-width="1.0"/>
<line x1="204.00" y1="311.30" x2="211.00" y2="311.30" stroke="#2b2b2b" stroke-width="1.0"/>
<line x1="204.00" y1="320.00" x2="211.00" y2="320.00" stroke="#2b2b2b" stroke-width="1.0"/>
<line x1="236.30" y1="294.00" x2="236.30" y2="319.80" stroke="#2b2b2b" stroke-width="1.0"/>
<line x1="232.80" y1="294.00" x2="239.80" y2="294.00" stroke="#2b2b2b" stroke-width="1.0"/>
<line x1="232.80" y1="319.80" x2="239.80" y2="319.80" stroke="#2b2b2b" stroke-width="1.0"/>
<line x1="249.50" y1="304.40" x2="249.50" y2="318.50" stroke="#2b2b2b" stroke-width="1.0"/>
<line x1="246.00" y1="304.40" x2="253.00" y2="304.40" stroke="#2b2b2b" stroke-width="1.0"/>
<line x1="246.00" y1="318.50" x2="253.00" y2="318.50" stroke="#2b2b2b" stroke-width="1.0"/>
<line x1="262.75" y1="280.00" x2="262.75" y2="317.50" stroke="#5a2040" stroke-width="1.0"/>
<line x1="259.25" y1="280.00" x2="266.25" y2="280.00" stroke="#5a2040" stroke-width="1.0"/>
<line x1="259.25" y1="317.50" x2="266.25" y2="317.50" stroke="#5a2040" stroke-width="1.0"/>
<path d="M259.5,281 L262.7,277.5 L266,281 Z" fill="#c03070"/>
<line x1="275.50" y1="253.00" x2="275.50" y2="268.00" stroke="#2b2b2b" stroke-width="1.0"/>
<line x1="272.00" y1="253.00" x2="279.00" y2="253.00" stroke="#2b2b2b" stroke-width="1.0"/>
<line x1="272.00" y1="268.00" x2="279.00" y2="268.00" stroke="#2b2b2b" stroke-width="1.0"/>
<line x1="170.30" y1="368.25" x2="281.00" y2="368.25" stroke="#2b2b2b" stroke-width="1.3"/>
<line x1="181.65" y1="368.25" x2="181.65" y2="370.75" stroke="#2b2b2b" stroke-width="1.1700000000000002"/>
<line x1="194.65" y1="368.25" x2="194.65" y2="370.75" stroke="#2b2b2b" stroke-width="1.1700000000000002"/>
<line x1="207.50" y1="368.25" x2="207.50" y2="370.75" stroke="#2b2b2b" stroke-width="1.1700000000000002"/>
<line x1="221.05" y1="368.25" x2="221.05" y2="370.75" stroke="#2b2b2b" stroke-width="1.1700000000000002"/>
<line x1="236.30" y1="368.25" x2="236.30" y2="370.75" stroke="#2b2b2b" stroke-width="1.1700000000000002"/>
<line x1="249.50" y1="368.25" x2="249.50" y2="370.75" stroke="#2b2b2b" stroke-width="1.1700000000000002"/>
<line x1="262.75" y1="368.25" x2="262.75" y2="370.75" stroke="#2b2b2b" stroke-width="1.1700000000000002"/>
<line x1="275.50" y1="368.25" x2="275.50" y2="370.75" stroke="#2b2b2b" stroke-width="1.1700000000000002"/>
<text x="171.50" y="380.50" font-size="6.3" text-anchor="end" font-weight="normal" font-style="normal" fill="#3a3a3a"><tspan font-style="italic">jagn1b</tspan> MO</text>
<text x="181.65" y="380.50" font-size="6.3" text-anchor="middle" font-weight="normal" font-style="normal" fill="#3a3a3a">–</text>
<text x="194.65" y="380.50" font-size="6.3" text-anchor="middle" font-weight="normal" font-style="normal" fill="#3a3a3a">–</text>
<text x="207.50" y="380.50" font-size="6.3" text-anchor="middle" font-weight="normal" font-style="normal" fill="#3a3a3a">–</text>
<text x="221.05" y="380.50" font-size="6.3" text-anchor="middle" font-weight="normal" font-style="normal" fill="#3a3a3a">–</text>
<text x="236.30" y="380.50" font-size="6.3" text-anchor="middle" font-weight="normal" font-style="normal" fill="#3a3a3a">+</text>
<text x="249.50" y="380.50" font-size="6.3" text-anchor="middle" font-weight="normal" font-style="normal" fill="#3a3a3a">+</text>
<text x="262.75" y="380.50" font-size="6.3" text-anchor="middle" font-weight="normal" font-style="normal" fill="#3a3a3a">+</text>
<text x="275.50" y="380.50" font-size="6.3" text-anchor="middle" font-weight="normal" font-style="normal" fill="#3a3a3a">+</text>
<text x="171.50" y="390.80" font-size="6.3" text-anchor="end" font-weight="normal" font-style="normal" fill="#3a3a3a">Tunicamycin</text>
<text x="181.65" y="390.80" font-size="6.3" text-anchor="middle" font-weight="normal" font-style="normal" fill="#3a3a3a">–</text>
<text x="194.65" y="390.80" font-size="6.3" text-anchor="middle" font-weight="normal" font-style="normal" fill="#3a3a3a">–</text>
<text x="207.50" y="390.80" font-size="6.3" text-anchor="middle" font-weight="normal" font-style="normal" fill="#3a3a3a">–</text>
<text x="221.05" y="390.80" font-size="6.3" text-anchor="middle" font-weight="normal" font-style="normal" fill="#3a3a3a">+</text>
<text x="236.30" y="390.80" font-size="6.3" text-anchor="middle" font-weight="normal" font-style="normal" fill="#3a3a3a">–</text>
<text x="249.50" y="390.80" font-size="6.3" text-anchor="middle" font-weight="normal" font-style="normal" fill="#3a3a3a">–</text>
<text x="262.75" y="390.80" font-size="6.3" text-anchor="middle" font-weight="normal" font-style="normal" fill="#3a3a3a">–</text>
<text x="275.50" y="390.80" font-size="6.3" text-anchor="middle" font-weight="normal" font-style="normal" fill="#3a3a3a">+</text>
<text x="171.50" y="400.80" font-size="6.3" text-anchor="end" font-weight="normal" font-style="normal" fill="#3a3a3a">DMSO</text>
<text x="181.65" y="400.80" font-size="6.3" text-anchor="middle" font-weight="normal" font-style="normal" fill="#3a3a3a">–</text>
<text x="194.65" y="400.80" font-size="6.3" text-anchor="middle" font-weight="normal" font-style="normal" fill="#3a3a3a">+</text>
<text x="207.50" y="400.80" font-size="6.3" text-anchor="middle" font-weight="normal" font-style="normal" fill="#3a3a3a">–</text>
<text x="221.05" y="400.80" font-size="6.3" text-anchor="middle" font-weight="normal" font-style="normal" fill="#3a3a3a">–</text>
<text x="236.30" y="400.80" font-size="6.3" text-anchor="middle" font-weight="normal" font-style="normal" fill="#3a3a3a">–</text>
<text x="249.50" y="400.80" font-size="6.3" text-anchor="middle" font-weight="normal" font-style="normal" fill="#3a3a3a">+</text>
<text x="262.75" y="400.80" font-size="6.3" text-anchor="middle" font-weight="normal" font-style="normal" fill="#3a3a3a">–</text>
<text x="275.50" y="400.80" font-size="6.3" text-anchor="middle" font-weight="normal" font-style="normal" fill="#3a3a3a">–</text>
<text x="171.50" y="410.70" font-size="6.3" text-anchor="end" font-weight="normal" font-style="normal" fill="#3a3a3a">DTT</text>
<text x="181.65" y="410.70" font-size="6.3" text-anchor="middle" font-weight="normal" font-style="normal" fill="#3a3a3a">–</text>
<text x="194.65" y="410.70" font-size="6.3" text-anchor="middle" font-weight="normal" font-style="normal" fill="#3a3a3a">–</text>
<text x="207.50" y="410.70" font-size="6.3" text-anchor="middle" font-weight="normal" font-style="normal" fill="#3a3a3a">+</text>
<text x="221.05" y="410.70" font-size="6.3" text-anchor="middle" font-weight="normal" font-style="normal" fill="#3a3a3a">–</text>
<text x="236.30" y="410.70" font-size="6.3" text-anchor="middle" font-weight="normal" font-style="normal" fill="#3a3a3a">–</text>
<text x="249.50" y="410.70" font-size="6.3" text-anchor="middle" font-weight="normal" font-style="normal" fill="#3a3a3a">–</text>
<text x="262.75" y="410.70" font-size="6.3" text-anchor="middle" font-weight="normal" font-style="normal" fill="#3a3a3a">+</text>
<text x="275.50" y="410.70" font-size="6.3" text-anchor="middle" font-weight="normal" font-style="normal" fill="#3a3a3a">–</text>
<text x="171.50" y="421.00" font-size="6.3" text-anchor="end" font-weight="normal" font-style="normal" fill="#3a3a3a">N =</text>
<text x="181.65" y="421.00" font-size="6.3" text-anchor="middle" font-weight="normal" font-style="normal" fill="#3a3a3a">7</text>
<text x="194.65" y="421.00" font-size="6.3" text-anchor="middle" font-weight="normal" font-style="normal" fill="#3a3a3a">4</text>
<text x="207.50" y="421.00" font-size="6.3" text-anchor="middle" font-weight="normal" font-style="normal" fill="#3a3a3a">3</text>
<text x="221.05" y="421.00" font-size="6.3" text-anchor="middle" font-weight="normal" font-style="normal" fill="#3a3a3a">6</text>
<text x="236.30" y="421.00" font-size="6.3" text-anchor="middle" font-weight="normal" font-style="normal" fill="#3a3a3a">3</text>
<text x="249.50" y="421.00" font-size="6.3" text-anchor="middle" font-weight="normal" font-style="normal" fill="#3a3a3a">3</text>
<text x="262.75" y="421.00" font-size="6.3" text-anchor="middle" font-weight="normal" font-style="normal" fill="#3a3a3a">4</text>
<text x="275.50" y="421.00" font-size="6.3" text-anchor="middle" font-weight="normal" font-style="normal" fill="#3a3a3a">7</text>
<polyline points="181.60,341.00 181.60,339.30 194.00,339.30 194.00,342.00" fill="none" stroke="#2b2b2b" stroke-width="1.0"/>
<text x="187.80" y="336.50" font-size="6.3" text-anchor="middle" font-weight="normal" font-style="normal" fill="#3a3a3a">ns</text>
<polyline points="194.60,337.00 194.60,306.50 207.50,306.50 207.50,309.50" fill="none" stroke="#2b2b2b" stroke-width="1.0"/>
<text x="201.05" y="306.00" font-size="7.5" text-anchor="middle" font-weight="normal" font-style="normal" fill="#3a3a3a">*</text>
<polyline points="194.60,306.80 194.60,264.60 220.20,264.60 220.20,267.00" fill="none" stroke="#2b2b2b" stroke-width="1.0"/>
<text x="207.40" y="264.50" font-size="7.5" text-anchor="middle" font-weight="normal" font-style="normal" fill="#3a3a3a">****</text>
<polyline points="236.30,294.00 236.30,290.00 249.60,290.00 249.60,292.50" fill="none" stroke="#2b2b2b" stroke-width="1.0"/>
<text x="242.95" y="286.80" font-size="6.3" text-anchor="middle" font-weight="normal" font-style="normal" fill="#3a3a3a">ns</text>
<polyline points="250.50,286.00 250.50,269.30 262.50,269.30 262.50,276.00" fill="none" stroke="#2b2b2b" stroke-width="1.0"/>
<text x="256.50" y="266.00" font-size="6.3" text-anchor="middle" font-weight="normal" font-style="normal" fill="#3a3a3a">ns</text>
<polyline points="250.50,269.50 250.50,247.00 275.50,247.00 275.50,251.00" fill="none" stroke="#2b2b2b" stroke-width="1.0"/>
<text x="263.00" y="246.80" font-size="7.5" text-anchor="middle" font-weight="normal" font-style="normal" fill="#3a3a3a">****</text>
<text x="303.20" y="224.10" font-size="10.8" font-weight="bold" fill="#111" style="stroke:#111;stroke-width:0.6px">G</text>
<line x1="348.40" y1="246.30" x2="348.40" y2="282.00" stroke="#2b2b2b" stroke-width="1.2"/>
<line x1="348.40" y1="286.40" x2="348.40" y2="368.10" stroke="#2b2b2b" stroke-width="1.2"/>
<line x1="345.60" y1="248.80" x2="348.40" y2="248.80" stroke="#2b2b2b" stroke-width="1.1"/>
<text x="342.50" y="250.90" font-size="6.5" text-anchor="end" font-weight="normal" font-style="normal" fill="#3a3a3a">20</text>
<line x1="345.60" y1="268.00" x2="348.40" y2="268.00" stroke="#2b2b2b" stroke-width="1.1"/>
<text x="342.50" y="270.10" font-size="6.5" text-anchor="end" font-weight="normal" font-style="normal" fill="#3a3a3a">10</text>
<line x1="345.60" y1="282.00" x2="351.20" y2="282.00" stroke="#2b2b2b" stroke-width="1.1"/>
<line x1="345.60" y1="286.40" x2="351.20" y2="286.40" stroke="#2b2b2b" stroke-width="1.1"/>
<line x1="345.60" y1="299.90" x2="348.40" y2="299.90" stroke="#2b2b2b" stroke-width="1.1"/>
<text x="342.50" y="302.00" font-size="6.5" text-anchor="end" font-weight="normal" font-style="normal" fill="#3a3a3a">2</text>
<line x1="345.60" y1="334.00" x2="348.40" y2="334.00" stroke="#2b2b2b" stroke-width="1.1"/>
<text x="342.50" y="336.10" font-size="6.5" text-anchor="end" font-weight="normal" font-style="normal" fill="#3a3a3a">1</text>
<line x1="345.60" y1="368.10" x2="348.40" y2="368.10" stroke="#2b2b2b" stroke-width="1.1"/>
<text x="342.50" y="370.20" font-size="6.5" text-anchor="end" font-weight="normal" font-style="normal" fill="#3a3a3a">0</text>
<text x="330.20" y="301.90" font-size="8.0" text-anchor="middle" fill="#3a3a3a" transform="rotate(-90 330.20 301.90)" textLength="81" lengthAdjust="spacingAndGlyphs"><tspan font-style="italic">sxbp1</tspan> expression (fold change)</text>
<line x1="413.80" y1="248.00" x2="413.80" y2="368.00" stroke="#a8a0aa" stroke-width="0.9" stroke-dasharray="1.3,1.4"/>
<rect x="353.00" y="334.00" width="9.90" height="34.10" fill="#5f8d76"/>
<rect x="365.30" y="325.48" width="10.10" height="42.62" fill="#e4b282"/>
<rect x="377.80" y="345.25" width="9.70" height="22.85" fill="#acd69b"/>
<rect x="389.90" y="286.40" width="9.60" height="81.70" fill="#c4c0e2"/>
<rect x="401.90" y="304.67" width="9.70" height="63.43" fill="#cbcfe3"/>
<rect x="416.40" y="342.53" width="9.60" height="25.57" fill="#7382b3"/>
<rect x="428.40" y="340.82" width="9.60" height="27.28" fill="#7cbbe9"/>
<rect x="441.00" y="286.40" width="9.10" height="81.70" fill="#f2a3ca"/>
<rect x="453.00" y="286.40" width="9.70" height="81.70" fill="#956c9b"/>
<rect x="389.90" y="266.60" width="9.60" height="15.40" fill="#c4c0e2"/>
<rect x="441.00" y="276.30" width="9.10" height="5.70" fill="#f2a3ca"/>
<rect x="453.00" y="274.60" width="9.70" height="7.40" fill="#956c9b"/>
<circle cx="358.00" cy="322.00" r="1.4029999999999998" fill="#1f4a36" fill-opacity="1"/>
<circle cx="355.00" cy="333.00" r="1.4029999999999998" fill="#1f4a36" fill-opacity="1"/>
<circle cx="361.00" cy="333.00" r="1.4029999999999998" fill="#1f4a36" fill-opacity="1"/>
<circle cx="358.00" cy="338.00" r="1.4029999999999998" fill="#1f4a36" fill-opacity="1"/>
<circle cx="355.00" cy="341.00" r="1.4029999999999998" fill="#1f4a36" fill-opacity="1"/>
<circle cx="361.00" cy="341.00" r="1.4029999999999998" fill="#1f4a36" fill-opacity="1"/>
<circle cx="366.50" cy="325.00" r="1.4029999999999998" fill="#b2764a" fill-opacity="1"/>
<circle cx="374.00" cy="325.00" r="1.4029999999999998" fill="#b2764a" fill-opacity="1"/>
<circle cx="370.30" cy="328.00" r="1.4029999999999998" fill="#b2764a" fill-opacity="1"/>
<circle cx="382.60" cy="341.00" r="1.4029999999999998" fill="#3caa3c" fill-opacity="1"/>
<circle cx="379.50" cy="347.00" r="1.4029999999999998" fill="#3caa3c" fill-opacity="1"/>
<circle cx="386.00" cy="347.00" r="1.4029999999999998" fill="#3caa3c" fill-opacity="1"/>
<circle cx="382.60" cy="345.00" r="1.4029999999999998" fill="#3caa3c" fill-opacity="1"/>
<circle cx="394.70" cy="268.00" r="1.342" fill="#6a6aa0" fill-opacity="1"/>
<circle cx="391.50" cy="271.00" r="1.342" fill="#6a6aa0" fill-opacity="1"/>
<circle cx="398.00" cy="271.00" r="1.342" fill="#6a6aa0" fill-opacity="1"/>
<circle cx="406.70" cy="286.00" r="1.464" fill="#1f2f6a" fill-opacity="1"/>
<circle cx="403.50" cy="303.00" r="1.464" fill="#1f2f6a" fill-opacity="1"/>
<circle cx="410.00" cy="303.00" r="1.464" fill="#1f2f6a" fill-opacity="1"/>
<circle cx="406.70" cy="318.00" r="1.464" fill="#1f2f6a" fill-opacity="1"/>
<circle cx="403.50" cy="319.00" r="1.464" fill="#1f2f6a" fill-opacity="1"/>
<circle cx="410.00" cy="318.00" r="1.464" fill="#1f2f6a" fill-opacity="1"/>
<circle cx="421.30" cy="343.50" r="1.4029999999999998" fill="#1f2f5a" fill-opacity="1"/>
<circle cx="421.30" cy="347.00" r="1.4029999999999998" fill="#1f2f5a" fill-opacity="1"/>
<circle cx="433.30" cy="328.00" r="1.342" fill="#2a6a9a" fill-opacity="1"/>
<circle cx="429.00" cy="346.00" r="1.342" fill="#2a6a9a" fill-opacity="1"/>
<circle cx="437.00" cy="346.00" r="1.342" fill="#2a6a9a" fill-opacity="1"/>
<line x1="441.50" y1="276.60" x2="449.60" y2="276.60" stroke="#a01850" stroke-width="1.3"/>
<circle cx="442.50" cy="280.50" r="1.464" fill="#b0205a" fill-opacity="1"/>
<circle cx="448.50" cy="280.50" r="1.464" fill="#b0205a" fill-opacity="1"/>
<circle cx="445.50" cy="279.50" r="1.464" fill="#b0205a" fill-opacity="1"/>
<line x1="453.50" y1="275.80" x2="462.20" y2="275.80" stroke="#2a1040" stroke-width="1.3"/>
<circle cx="455.00" cy="277.50" r="1.464" fill="#3a2050" fill-opacity="1"/>
<circle cx="461.00" cy="277.00" r="1.464" fill="#3a2050" fill-opacity="1"/>
<circle cx="457.90" cy="279.00" r="1.464" fill="#3a2050" fill-opacity="1"/>
<circle cx="455.00" cy="281.00" r="1.464" fill="#3a2050" fill-opacity="1"/>
<circle cx="461.00" cy="280.50" r="1.464" fill="#3a2050" fill-opacity="1"/>
<line x1="357.95" y1="327.60" x2="357.95" y2="339.60" stroke="#2b2b2b" stroke-width="1.0"/>
<line x1="354.45" y1="327.60" x2="361.45" y2="327.60" stroke="#2b2b2b" stroke-width="1.0"/>
<line x1="354.45" y1="339.60" x2="361.45" y2="339.60" stroke="#2b2b2b" stroke-width="1.0"/>
<line x1="370.35" y1="322.00" x2="370.35" y2="330.00" stroke="#2b2b2b" stroke-width="1.0"/>
<line x1="366.85" y1="322.00" x2="373.85" y2="322.00" stroke="#2b2b2b" stroke-width="1.0"/>
<line x1="366.85" y1="330.00" x2="373.85" y2="330.00" stroke="#2b2b2b" stroke-width="1.0"/>
<line x1="382.65" y1="340.40" x2="382.65" y2="348.00" stroke="#2b2b2b" stroke-width="1.0"/>
<line x1="379.15" y1="340.40" x2="386.15" y2="340.40" stroke="#2b2b2b" stroke-width="1.0"/>
<line x1="379.15" y1="348.00" x2="386.15" y2="348.00" stroke="#2b2b2b" stroke-width="1.0"/>
<line x1="394.70" y1="266.90" x2="394.70" y2="272.90" stroke="#2b2b2b" stroke-width="1.0"/>
<line x1="391.20" y1="266.90" x2="398.20" y2="266.90" stroke="#2b2b2b" stroke-width="1.0"/>
<line x1="391.20" y1="272.90" x2="398.20" y2="272.90" stroke="#2b2b2b" stroke-width="1.0"/>
<line x1="406.75" y1="292.20" x2="406.75" y2="319.90" stroke="#2b2b2b" stroke-width="1.0"/>
<line x1="403.25" y1="292.20" x2="410.25" y2="292.20" stroke="#2b2b2b" stroke-width="1.0"/>
<line x1="403.25" y1="319.90" x2="410.25" y2="319.90" stroke="#2b2b2b" stroke-width="1.0"/>
<line x1="421.20" y1="334.80" x2="421.20" y2="348.80" stroke="#2b2b2b" stroke-width="1.0"/>
<line x1="417.70" y1="334.80" x2="424.70" y2="334.80" stroke="#2b2b2b" stroke-width="1.0"/>
<line x1="417.70" y1="348.80" x2="424.70" y2="348.80" stroke="#2b2b2b" stroke-width="1.0"/>
<line x1="433.20" y1="330.00" x2="433.20" y2="351.00" stroke="#2b2b2b" stroke-width="1.0"/>
<line x1="429.70" y1="330.00" x2="436.70" y2="330.00" stroke="#2b2b2b" stroke-width="1.0"/>
<line x1="429.70" y1="351.00" x2="436.70" y2="351.00" stroke="#2b2b2b" stroke-width="1.0"/>
<line x1="347.90" y1="368.10" x2="467.50" y2="368.10" stroke="#2b2b2b" stroke-width="1.3"/>
<line x1="357.95" y1="368.10" x2="357.95" y2="370.60" stroke="#2b2b2b" stroke-width="1.1700000000000002"/>
<line x1="370.35" y1="368.10" x2="370.35" y2="370.60" stroke="#2b2b2b" stroke-width="1.1700000000000002"/>
<line x1="382.65" y1="368.10" x2="382.65" y2="370.60" stroke="#2b2b2b" stroke-width="1.1700000000000002"/>
<line x1="394.70" y1="368.10" x2="394.70" y2="370.60" stroke="#2b2b2b" stroke-width="1.1700000000000002"/>
<line x1="406.75" y1="368.10" x2="406.75" y2="370.60" stroke="#2b2b2b" stroke-width="1.1700000000000002"/>
<line x1="421.20" y1="368.10" x2="421.20" y2="370.60" stroke="#2b2b2b" stroke-width="1.1700000000000002"/>
<line x1="433.20" y1="368.10" x2="433.20" y2="370.60" stroke="#2b2b2b" stroke-width="1.1700000000000002"/>
<line x1="445.55" y1="368.10" x2="445.55" y2="370.60" stroke="#2b2b2b" stroke-width="1.1700000000000002"/>
<line x1="457.85" y1="368.10" x2="457.85" y2="370.60" stroke="#2b2b2b" stroke-width="1.1700000000000002"/>
<text x="348.00" y="383.10" font-size="6.3" text-anchor="end" font-weight="normal" font-style="normal" fill="#3a3a3a">control MO</text>
<text x="357.95" y="383.10" font-size="6.3" text-anchor="middle" font-weight="normal" font-style="normal" fill="#3a3a3a">–</text>
<text x="370.35" y="383.10" font-size="6.3" text-anchor="middle" font-weight="normal" font-style="normal" fill="#3a3a3a">+</text>
<text x="382.65" y="383.10" font-size="6.3" text-anchor="middle" font-weight="normal" font-style="normal" fill="#3a3a3a">–</text>
<text x="394.70" y="383.10" font-size="6.3" text-anchor="middle" font-weight="normal" font-style="normal" fill="#3a3a3a">–</text>
<text x="406.75" y="383.10" font-size="6.3" text-anchor="middle" font-weight="normal" font-style="normal" fill="#3a3a3a">–</text>
<text x="421.20" y="383.10" font-size="6.3" text-anchor="middle" font-weight="normal" font-style="normal" fill="#3a3a3a">–</text>
<text x="433.20" y="383.10" font-size="6.3" text-anchor="middle" font-weight="normal" font-style="normal" fill="#3a3a3a">–</text>
<text x="445.55" y="383.10" font-size="6.3" text-anchor="middle" font-weight="normal" font-style="normal" fill="#3a3a3a">–</text>
<text x="457.85" y="383.10" font-size="6.3" text-anchor="middle" font-weight="normal" font-style="normal" fill="#3a3a3a">–</text>
<text x="348.00" y="390.90" font-size="6.3" text-anchor="end" font-weight="normal" font-style="normal" fill="#3a3a3a"><tspan font-style="italic">jagn1b</tspan> MO</text>
<text x="357.95" y="390.90" font-size="6.3" text-anchor="middle" font-weight="normal" font-style="normal" fill="#3a3a3a">–</text>
<text x="370.35" y="390.90" font-size="6.3" text-anchor="middle" font-weight="normal" font-style="normal" fill="#3a3a3a">–</text>
<text x="382.65" y="390.90" font-size="6.3" text-anchor="middle" font-weight="normal" font-style="normal" fill="#3a3a3a">–</text>
<text x="394.70" y="390.90" font-size="6.3" text-anchor="middle" font-weight="normal" font-style="normal" fill="#3a3a3a">–</text>
<text x="406.75" y="390.90" font-size="6.3" text-anchor="middle" font-weight="normal" font-style="normal" fill="#3a3a3a">–</text>
<text x="421.20" y="390.90" font-size="6.3" text-anchor="middle" font-weight="normal" font-style="normal" fill="#3a3a3a">+</text>
<text x="433.20" y="390.90" font-size="6.3" text-anchor="middle" font-weight="normal" font-style="normal" fill="#3a3a3a">+</text>
<text x="445.55" y="390.90" font-size="6.3" text-anchor="middle" font-weight="normal" font-style="normal" fill="#3a3a3a">+</text>
<text x="457.85" y="390.90" font-size="6.3" text-anchor="middle" font-weight="normal" font-style="normal" fill="#3a3a3a">+</text>
<text x="348.00" y="398.70" font-size="6.3" text-anchor="end" font-weight="normal" font-style="normal" fill="#3a3a3a">Tunicamycin</text>
<text x="357.95" y="398.70" font-size="6.3" text-anchor="middle" font-weight="normal" font-style="normal" fill="#3a3a3a">–</text>
<text x="370.35" y="398.70" font-size="6.3" text-anchor="middle" font-weight="normal" font-style="normal" fill="#3a3a3a">–</text>
<text x="382.65" y="398.70" font-size="6.3" text-anchor="middle" font-weight="normal" font-style="normal" fill="#3a3a3a">–</text>
<text x="394.70" y="398.70" font-size="6.3" text-anchor="middle" font-weight="normal" font-style="normal" fill="#3a3a3a">–</text>
<text x="406.75" y="398.70" font-size="6.3" text-anchor="middle" font-weight="normal" font-style="normal" fill="#3a3a3a">+</text>
<text x="421.20" y="398.70" font-size="6.3" text-anchor="middle" font-weight="normal" font-style="normal" fill="#3a3a3a">–</text>
<text x="433.20" y="398.70" font-size="6.3" text-anchor="middle" font-weight="normal" font-style="normal" fill="#3a3a3a">–</text>
<text x="445.55" y="398.70" font-size="6.3" text-anchor="middle" font-weight="normal" font-style="normal" fill="#3a3a3a">–</text>
<text x="457.85" y="398.70" font-size="6.3" text-anchor="middle" font-weight="normal" font-style="normal" fill="#3a3a3a">+</text>
<text x="348.00" y="406.50" font-size="6.3" text-anchor="end" font-weight="normal" font-style="normal" fill="#3a3a3a">DMSO</text>
<text x="357.95" y="406.50" font-size="6.3" text-anchor="middle" font-weight="normal" font-style="normal" fill="#3a3a3a">–</text>
<text x="370.35" y="406.50" font-size="6.3" text-anchor="middle" font-weight="normal" font-style="normal" fill="#3a3a3a">–</text>
<text x="382.65" y="406.50" font-size="6.3" text-anchor="middle" font-weight="normal" font-style="normal" fill="#3a3a3a">+</text>
<text x="394.70" y="406.50" font-size="6.3" text-anchor="middle" font-weight="normal" font-style="normal" fill="#3a3a3a">–</text>
<text x="406.75" y="406.50" font-size="6.3" text-anchor="middle" font-weight="normal" font-style="normal" fill="#3a3a3a">–</text>
<text x="421.20" y="406.50" font-size="6.3" text-anchor="middle" font-weight="normal" font-style="normal" fill="#3a3a3a">–</text>
<text x="433.20" y="406.50" font-size="6.3" text-anchor="middle" font-weight="normal" font-style="normal" fill="#3a3a3a">+</text>
<text x="445.55" y="406.50" font-size="6.3" text-anchor="middle" font-weight="normal" font-style="normal" fill="#3a3a3a">–</text>
<text x="457.85" y="406.50" font-size="6.3" text-anchor="middle" font-weight="normal" font-style="normal" fill="#3a3a3a">–</text>
<text x="348.00" y="414.40" font-size="6.3" text-anchor="end" font-weight="normal" font-style="normal" fill="#3a3a3a">DTT</text>
<text x="357.95" y="414.40" font-size="6.3" text-anchor="middle" font-weight="normal" font-style="normal" fill="#3a3a3a">–</text>
<text x="370.35" y="414.40" font-size="6.3" text-anchor="middle" font-weight="normal" font-style="normal" fill="#3a3a3a">–</text>
<text x="382.65" y="414.40" font-size="6.3" text-anchor="middle" font-weight="normal" font-style="normal" fill="#3a3a3a">–</text>
<text x="394.70" y="414.40" font-size="6.3" text-anchor="middle" font-weight="normal" font-style="normal" fill="#3a3a3a">+</text>
<text x="406.75" y="414.40" font-size="6.3" text-anchor="middle" font-weight="normal" font-style="normal" fill="#3a3a3a">–</text>
<text x="421.20" y="414.40" font-size="6.3" text-anchor="middle" font-weight="normal" font-style="normal" fill="#3a3a3a">–</text>
<text x="433.20" y="414.40" font-size="6.3" text-anchor="middle" font-weight="normal" font-style="normal" fill="#3a3a3a">–</text>
<text x="445.55" y="414.40" font-size="6.3" text-anchor="middle" font-weight="normal" font-style="normal" fill="#3a3a3a">+</text>
<text x="457.85" y="414.40" font-size="6.3" text-anchor="middle" font-weight="normal" font-style="normal" fill="#3a3a3a">–</text>
<text x="348.00" y="422.40" font-size="6.3" text-anchor="end" font-weight="normal" font-style="normal" fill="#3a3a3a">N =</text>
<text x="357.95" y="422.40" font-size="6.3" text-anchor="middle" font-weight="normal" font-style="normal" fill="#3a3a3a">6</text>
<text x="370.35" y="422.40" font-size="6.3" text-anchor="middle" font-weight="normal" font-style="normal" fill="#3a3a3a">3</text>
<text x="382.65" y="422.40" font-size="6.3" text-anchor="middle" font-weight="normal" font-style="normal" fill="#3a3a3a">4</text>
<text x="394.70" y="422.40" font-size="6.3" text-anchor="middle" font-weight="normal" font-style="normal" fill="#3a3a3a">3</text>
<text x="406.75" y="422.40" font-size="6.3" text-anchor="middle" font-weight="normal" font-style="normal" fill="#3a3a3a">6</text>
<text x="421.20" y="422.40" font-size="6.3" text-anchor="middle" font-weight="normal" font-style="normal" fill="#3a3a3a">3</text>
<text x="433.20" y="422.40" font-size="6.3" text-anchor="middle" font-weight="normal" font-style="normal" fill="#3a3a3a">3</text>
<text x="445.55" y="422.40" font-size="6.3" text-anchor="middle" font-weight="normal" font-style="normal" fill="#3a3a3a">5</text>
<text x="457.85" y="422.40" font-size="6.3" text-anchor="middle" font-weight="normal" font-style="normal" fill="#3a3a3a">7</text>
<polyline points="358.30,321.00 358.30,318.30 370.50,318.30 370.50,320.70" fill="none" stroke="#2b2b2b" stroke-width="1.0"/>
<text x="364.40" y="317.30" font-size="6.3" text-anchor="middle" font-weight="normal" font-style="normal" fill="#3a3a3a">ns</text>
<polyline points="358.30,318.30 358.30,313.00 381.50,313.00 381.50,339.00" fill="none" stroke="#2b2b2b" stroke-width="1.0"/>
<text x="369.90" y="311.20" font-size="6.3" text-anchor="middle" font-weight="normal" font-style="normal" fill="#3a3a3a">ns</text>
<polyline points="381.50,339.00 381.50,258.00 393.50,258.00 393.50,260.50" fill="none" stroke="#2b2b2b" stroke-width="1.0"/>
<text x="387.50" y="258.50" font-size="7.5" text-anchor="middle" font-weight="normal" font-style="normal" fill="#3a3a3a">****</text>
<polyline points="381.50,258.00 381.50,252.30 406.80,252.30 406.80,283.30" fill="none" stroke="#2b2b2b" stroke-width="1.0"/>
<text x="394.15" y="252.50" font-size="7.5" text-anchor="middle" font-weight="normal" font-style="normal" fill="#3a3a3a">*</text>
<polyline points="421.30,326.50 421.30,324.50 433.30,324.50 433.30,326.00" fill="none" stroke="#2b2b2b" stroke-width="1.0"/>
<text x="427.30" y="323.00" font-size="6.3" text-anchor="middle" font-weight="normal" font-style="normal" fill="#3a3a3a">ns</text>
<polyline points="433.20,325.00 433.20,269.20 445.30,269.20 445.30,271.50" fill="none" stroke="#2b2b2b" stroke-width="1.0"/>
<text x="439.25" y="269.50" font-size="7.5" text-anchor="middle" font-weight="normal" font-style="normal" fill="#3a3a3a">***</text>
<polyline points="433.20,269.20 433.20,264.40 457.80,264.40 457.80,266.20" fill="none" stroke="#2b2b2b" stroke-width="1.0"/>
<text x="445.50" y="264.00" font-size="7.5" text-anchor="middle" font-weight="normal" font-style="normal" fill="#3a3a3a">****</text>
<text x="6.70" y="447.00" font-size="10.8" font-weight="bold" fill="#111" style="stroke:#111;stroke-width:0.6px">H</text>
<line x1="39.70" y1="456.32" x2="39.70" y2="570.50" stroke="#2b2b2b" stroke-width="1.2"/>
<line x1="36.90" y1="459.62" x2="39.70" y2="459.62" stroke="#2b2b2b" stroke-width="1.2"/>
<text x="34.60" y="461.92" font-size="6.5" text-anchor="end" font-weight="normal" font-style="normal" fill="#3a3a3a">80</text>
<line x1="36.90" y1="487.34" x2="39.70" y2="487.34" stroke="#2b2b2b" stroke-width="1.2"/>
<text x="34.60" y="489.64" font-size="6.5" text-anchor="end" font-weight="normal" font-style="normal" fill="#3a3a3a">60</text>
<line x1="36.90" y1="515.06" x2="39.70" y2="515.06" stroke="#2b2b2b" stroke-width="1.2"/>
<text x="34.60" y="517.36" font-size="6.5" text-anchor="end" font-weight="normal" font-style="normal" fill="#3a3a3a">40</text>
<line x1="36.90" y1="542.78" x2="39.70" y2="542.78" stroke="#2b2b2b" stroke-width="1.2"/>
<text x="34.60" y="545.08" font-size="6.5" text-anchor="end" font-weight="normal" font-style="normal" fill="#3a3a3a">20</text>
<line x1="36.90" y1="570.50" x2="39.70" y2="570.50" stroke="#2b2b2b" stroke-width="1.2"/>
<text x="34.60" y="572.80" font-size="6.5" text-anchor="end" font-weight="normal" font-style="normal" fill="#3a3a3a">0</text>
<text x="21.2" y="515.4" font-size="7.4" text-anchor="middle" fill="#3a3a3a" transform="rotate(-90 21.2 515.4)" textLength="86" lengthAdjust="spacingAndGlyphs"><tspan font-style="italic">lyz</tspan> + cells in the tail region (#)</text>
<circle cx="48.60" cy="514.42" r="1.22" fill="#3da63d" fill-opacity="1"/>
<circle cx="50.10" cy="514.47" r="1.22" fill="#3da63d" fill-opacity="1"/>
<circle cx="48.60" cy="512.52" r="1.22" fill="#3da63d" fill-opacity="1"/>
<circle cx="47.10" cy="514.90" r="1.22" fill="#3da63d" fill-opacity="1"/>
<circle cx="50.10" cy="511.92" r="1.22" fill="#3da63d" fill-opacity="1"/>
<circle cx="48.60" cy="515.74" r="1.22" fill="#3da63d" fill-opacity="1"/>
<circle cx="48.60" cy="511.14" r="1.22" fill="#3da63d" fill-opacity="1"/>
<circle cx="50.10" cy="510.38" r="1.22" fill="#3da63d" fill-opacity="1"/>
<circle cx="50.10" cy="516.99" r="1.22" fill="#3da63d" fill-opacity="1"/>
<circle cx="48.60" cy="517.16" r="1.22" fill="#3da63d" fill-opacity="1"/>
<circle cx="47.10" cy="517.84" r="1.22" fill="#3da63d" fill-opacity="1"/>
<circle cx="48.60" cy="509.11" r="1.22" fill="#3da63d" fill-opacity="1"/>
<circle cx="50.10" cy="507.95" r="1.22" fill="#3da63d" fill-opacity="1"/>
<circle cx="47.10" cy="507.90" r="1.22" fill="#3da63d" fill-opacity="1"/>
<circle cx="48.60" cy="519.87" r="1.22" fill="#3da63d" fill-opacity="1"/>
<circle cx="48.60" cy="505.31" r="1.22" fill="#3da63d" fill-opacity="1"/>
<circle cx="50.10" cy="505.20" r="1.22" fill="#3da63d" fill-opacity="1"/>
<circle cx="47.10" cy="505.15" r="1.22" fill="#3da63d" fill-opacity="1"/>
<circle cx="48.60" cy="523.15" r="1.22" fill="#3da63d" fill-opacity="1"/>
<circle cx="48.60" cy="501.81" r="1.22" fill="#3da63d" fill-opacity="1"/>
<circle cx="50.10" cy="501.66" r="1.22" fill="#3da63d" fill-opacity="1"/>
<circle cx="48.60" cy="500.43" r="1.22" fill="#3da63d" fill-opacity="1"/>
<circle cx="47.10" cy="500.41" r="1.22" fill="#3da63d" fill-opacity="1"/>
<circle cx="48.60" cy="527.42" r="1.22" fill="#3da63d" fill-opacity="1"/>
<circle cx="50.10" cy="528.36" r="1.22" fill="#3da63d" fill-opacity="1"/>
<circle cx="47.10" cy="528.46" r="1.22" fill="#3da63d" fill-opacity="1"/>
<circle cx="48.60" cy="529.29" r="1.22" fill="#3da63d" fill-opacity="1"/>
<circle cx="50.10" cy="529.72" r="1.22" fill="#3da63d" fill-opacity="1"/>
<circle cx="48.60" cy="530.82" r="1.22" fill="#3da63d" fill-opacity="1"/>
<circle cx="48.60" cy="495.15" r="1.22" fill="#3da63d" fill-opacity="1"/>
<circle cx="48.60" cy="535.29" r="1.22" fill="#3da63d" fill-opacity="1"/>
<circle cx="48.60" cy="541.39" r="1.22" fill="#3da63d" fill-opacity="1"/>
<circle cx="48.60" cy="482.63" r="1.22" fill="#3da63d" fill-opacity="1"/>
<circle cx="50.10" cy="481.80" r="1.22" fill="#3da63d" fill-opacity="1"/>
<line x1="43.80" y1="513.67" x2="53.40" y2="513.67" stroke="#1f5a1f" stroke-width="1.4"/>
<line x1="48.60" y1="500.51" x2="48.60" y2="528.92" stroke="#1f5a1f" stroke-width="1.0"/>
<line x1="45.30" y1="500.51" x2="51.90" y2="500.51" stroke="#1f5a1f" stroke-width="1.0"/>
<line x1="45.30" y1="528.92" x2="51.90" y2="528.92" stroke="#1f5a1f" stroke-width="1.0"/>
<circle cx="62.40" cy="521.28" r="1.22" fill="#b2dc92" fill-opacity="1"/>
<circle cx="63.90" cy="521.28" r="1.22" fill="#b2dc92" fill-opacity="1"/>
<circle cx="60.90" cy="521.74" r="1.22" fill="#b2dc92" fill-opacity="1"/>
<circle cx="65.30" cy="522.14" r="1.22" fill="#b2dc92" fill-opacity="1"/>
<circle cx="60.90" cy="520.35" r="1.22" fill="#b2dc92" fill-opacity="1"/>
<circle cx="59.50" cy="522.43" r="1.22" fill="#b2dc92" fill-opacity="1"/>
<circle cx="62.40" cy="520.01" r="1.22" fill="#b2dc92" fill-opacity="1"/>
<circle cx="63.90" cy="519.39" r="1.22" fill="#b2dc92" fill-opacity="1"/>
<circle cx="65.30" cy="519.34" r="1.22" fill="#b2dc92" fill-opacity="1"/>
<circle cx="62.40" cy="518.71" r="1.22" fill="#b2dc92" fill-opacity="1"/>
<circle cx="62.40" cy="523.93" r="1.22" fill="#b2dc92" fill-opacity="1"/>
<circle cx="63.90" cy="517.92" r="1.22" fill="#b2dc92" fill-opacity="1"/>
<circle cx="63.90" cy="524.74" r="1.22" fill="#b2dc92" fill-opacity="1"/>
<circle cx="62.40" cy="517.02" r="1.22" fill="#b2dc92" fill-opacity="1"/>
<circle cx="62.40" cy="525.91" r="1.22" fill="#b2dc92" fill-opacity="1"/>
<circle cx="60.90" cy="516.66" r="1.22" fill="#b2dc92" fill-opacity="1"/>
<circle cx="63.90" cy="516.23" r="1.22" fill="#b2dc92" fill-opacity="1"/>
<circle cx="65.30" cy="516.15" r="1.22" fill="#b2dc92" fill-opacity="1"/>
<circle cx="63.90" cy="526.79" r="1.22" fill="#b2dc92" fill-opacity="1"/>
<circle cx="62.40" cy="515.60" r="1.22" fill="#b2dc92" fill-opacity="1"/>
<circle cx="60.90" cy="515.25" r="1.22" fill="#b2dc92" fill-opacity="1"/>
<circle cx="59.50" cy="515.03" r="1.22" fill="#b2dc92" fill-opacity="1"/>
<circle cx="62.40" cy="514.29" r="1.22" fill="#b2dc92" fill-opacity="1"/>
<circle cx="62.40" cy="528.41" r="1.22" fill="#b2dc92" fill-opacity="1"/>
<circle cx="63.90" cy="528.42" r="1.22" fill="#b2dc92" fill-opacity="1"/>
<circle cx="60.90" cy="528.71" r="1.22" fill="#b2dc92" fill-opacity="1"/>
<circle cx="63.90" cy="513.61" r="1.22" fill="#b2dc92" fill-opacity="1"/>
<circle cx="62.40" cy="512.60" r="1.22" fill="#b2dc92" fill-opacity="1"/>
<circle cx="63.90" cy="512.18" r="1.22" fill="#b2dc92" fill-opacity="1"/>
<circle cx="62.40" cy="530.48" r="1.22" fill="#b2dc92" fill-opacity="1"/>
<circle cx="62.40" cy="509.76" r="1.22" fill="#b2dc92" fill-opacity="1"/>
<circle cx="62.40" cy="533.38" r="1.22" fill="#b2dc92" fill-opacity="1"/>
<circle cx="62.40" cy="534.75" r="1.22" fill="#b2dc92" fill-opacity="1"/>
<circle cx="62.40" cy="506.31" r="1.22" fill="#b2dc92" fill-opacity="1"/>
<circle cx="62.40" cy="504.21" r="1.22" fill="#b2dc92" fill-opacity="1"/>
<circle cx="62.40" cy="540.01" r="1.22" fill="#b2dc92" fill-opacity="1"/>
<circle cx="62.40" cy="494.27" r="1.22" fill="#b2dc92" fill-opacity="1"/>
<line x1="57.60" y1="521.30" x2="67.20" y2="521.30" stroke="#2f5a2a" stroke-width="1.4"/>
<line x1="62.40" y1="510.90" x2="62.40" y2="532.38" stroke="#2f5a2a" stroke-width="1.0"/>
<line x1="59.10" y1="510.90" x2="65.70" y2="510.90" stroke="#2f5a2a" stroke-width="1.0"/>
<line x1="59.10" y1="532.38" x2="65.70" y2="532.38" stroke="#2f5a2a" stroke-width="1.0"/>
<circle cx="76.00" cy="509.60" r="1.22" fill="#c8cbea" fill-opacity="1"/>
<circle cx="76.00" cy="511.36" r="1.22" fill="#c8cbea" fill-opacity="1"/>
<circle cx="77.50" cy="508.90" r="1.22" fill="#c8cbea" fill-opacity="1"/>
<circle cx="74.50" cy="508.38" r="1.22" fill="#c8cbea" fill-opacity="1"/>
<circle cx="78.90" cy="508.33" r="1.22" fill="#c8cbea" fill-opacity="1"/>
<circle cx="76.00" cy="508.32" r="1.22" fill="#c8cbea" fill-opacity="1"/>
<circle cx="73.10" cy="507.77" r="1.22" fill="#c8cbea" fill-opacity="1"/>
<circle cx="80.00" cy="507.69" r="1.22" fill="#c8cbea" fill-opacity="1"/>
<circle cx="76.00" cy="513.22" r="1.22" fill="#c8cbea" fill-opacity="1"/>
<circle cx="77.50" cy="513.59" r="1.22" fill="#c8cbea" fill-opacity="1"/>
<circle cx="76.00" cy="506.35" r="1.22" fill="#c8cbea" fill-opacity="1"/>
<circle cx="74.50" cy="514.30" r="1.22" fill="#c8cbea" fill-opacity="1"/>
<circle cx="76.00" cy="504.77" r="1.22" fill="#c8cbea" fill-opacity="1"/>
<circle cx="77.50" cy="504.12" r="1.22" fill="#c8cbea" fill-opacity="1"/>
<circle cx="76.00" cy="516.38" r="1.22" fill="#c8cbea" fill-opacity="1"/>
<circle cx="77.50" cy="517.36" r="1.22" fill="#c8cbea" fill-opacity="1"/>
<circle cx="76.00" cy="503.01" r="1.22" fill="#c8cbea" fill-opacity="1"/>
<circle cx="74.50" cy="502.90" r="1.22" fill="#c8cbea" fill-opacity="1"/>
<circle cx="77.50" cy="502.45" r="1.22" fill="#c8cbea" fill-opacity="1"/>
<circle cx="76.00" cy="518.05" r="1.22" fill="#c8cbea" fill-opacity="1"/>
<circle cx="78.90" cy="502.26" r="1.22" fill="#c8cbea" fill-opacity="1"/>
<circle cx="73.10" cy="502.20" r="1.22" fill="#c8cbea" fill-opacity="1"/>
<circle cx="72.00" cy="502.04" r="1.22" fill="#c8cbea" fill-opacity="1"/>
<circle cx="76.00" cy="501.20" r="1.22" fill="#c8cbea" fill-opacity="1"/>
<circle cx="76.00" cy="519.32" r="1.22" fill="#c8cbea" fill-opacity="1"/>
<circle cx="77.50" cy="519.55" r="1.22" fill="#c8cbea" fill-opacity="1"/>
<circle cx="77.50" cy="500.20" r="1.22" fill="#c8cbea" fill-opacity="1"/>
<circle cx="74.50" cy="500.14" r="1.22" fill="#c8cbea" fill-opacity="1"/>
<circle cx="74.50" cy="520.56" r="1.22" fill="#c8cbea" fill-opacity="1"/>
<circle cx="76.00" cy="520.67" r="1.22" fill="#c8cbea" fill-opacity="1"/>
<circle cx="76.00" cy="499.35" r="1.22" fill="#c8cbea" fill-opacity="1"/>
<circle cx="77.50" cy="498.74" r="1.22" fill="#c8cbea" fill-opacity="1"/>
<circle cx="74.50" cy="498.71" r="1.22" fill="#c8cbea" fill-opacity="1"/>
<circle cx="77.50" cy="521.92" r="1.22" fill="#c8cbea" fill-opacity="1"/>
<circle cx="76.00" cy="496.24" r="1.22" fill="#c8cbea" fill-opacity="1"/>
<circle cx="76.00" cy="494.63" r="1.22" fill="#c8cbea" fill-opacity="1"/>
<circle cx="77.50" cy="494.25" r="1.22" fill="#c8cbea" fill-opacity="1"/>
<circle cx="76.00" cy="491.93" r="1.22" fill="#c8cbea" fill-opacity="1"/>
<circle cx="77.50" cy="491.90" r="1.22" fill="#c8cbea" fill-opacity="1"/>
<circle cx="76.00" cy="528.67" r="1.22" fill="#c8cbea" fill-opacity="1"/>
<circle cx="74.50" cy="491.50" r="1.22" fill="#c8cbea" fill-opacity="1"/>
<circle cx="76.00" cy="542.78" r="1.22" fill="#c8cbea" fill-opacity="1"/>
<line x1="71.20" y1="510.21" x2="80.80" y2="510.21" stroke="#1f2a5a" stroke-width="1.4"/>
<line x1="76.00" y1="498.43" x2="76.00" y2="522.68" stroke="#1f2a5a" stroke-width="1.0"/>
<line x1="72.70" y1="498.43" x2="79.30" y2="498.43" stroke="#1f2a5a" stroke-width="1.0"/>
<line x1="72.70" y1="522.68" x2="79.30" y2="522.68" stroke="#1f2a5a" stroke-width="1.0"/>
<circle cx="89.20" cy="514.34" r="1.22" fill="#6674ac" fill-opacity="1"/>
<circle cx="90.70" cy="515.31" r="1.22" fill="#6674ac" fill-opacity="1"/>
<circle cx="90.70" cy="513.42" r="1.22" fill="#6674ac" fill-opacity="1"/>
<circle cx="89.20" cy="513.06" r="1.22" fill="#6674ac" fill-opacity="1"/>
<circle cx="87.70" cy="513.01" r="1.22" fill="#6674ac" fill-opacity="1"/>
<circle cx="89.20" cy="516.18" r="1.22" fill="#6674ac" fill-opacity="1"/>
<circle cx="87.70" cy="516.42" r="1.22" fill="#6674ac" fill-opacity="1"/>
<circle cx="90.70" cy="511.82" r="1.22" fill="#6674ac" fill-opacity="1"/>
<circle cx="90.70" cy="517.04" r="1.22" fill="#6674ac" fill-opacity="1"/>
<circle cx="89.20" cy="510.90" r="1.22" fill="#6674ac" fill-opacity="1"/>
<circle cx="89.20" cy="518.19" r="1.22" fill="#6674ac" fill-opacity="1"/>
<circle cx="87.70" cy="518.22" r="1.22" fill="#6674ac" fill-opacity="1"/>
<circle cx="90.70" cy="519.10" r="1.22" fill="#6674ac" fill-opacity="1"/>
<circle cx="89.20" cy="509.44" r="1.22" fill="#6674ac" fill-opacity="1"/>
<circle cx="89.20" cy="519.82" r="1.22" fill="#6674ac" fill-opacity="1"/>
<circle cx="87.70" cy="519.85" r="1.22" fill="#6674ac" fill-opacity="1"/>
<circle cx="92.10" cy="519.86" r="1.22" fill="#6674ac" fill-opacity="1"/>
<circle cx="90.70" cy="520.50" r="1.22" fill="#6674ac" fill-opacity="1"/>
<circle cx="89.20" cy="507.63" r="1.22" fill="#6674ac" fill-opacity="1"/>
<circle cx="89.20" cy="521.38" r="1.22" fill="#6674ac" fill-opacity="1"/>
<circle cx="90.70" cy="507.28" r="1.22" fill="#6674ac" fill-opacity="1"/>
<circle cx="87.70" cy="506.91" r="1.22" fill="#6674ac" fill-opacity="1"/>
<circle cx="92.10" cy="506.86" r="1.22" fill="#6674ac" fill-opacity="1"/>
<circle cx="90.70" cy="522.24" r="1.22" fill="#6674ac" fill-opacity="1"/>
<circle cx="87.70" cy="522.56" r="1.22" fill="#6674ac" fill-opacity="1"/>
<circle cx="89.20" cy="506.09" r="1.22" fill="#6674ac" fill-opacity="1"/>
<circle cx="90.70" cy="505.32" r="1.22" fill="#6674ac" fill-opacity="1"/>
<circle cx="87.70" cy="505.10" r="1.22" fill="#6674ac" fill-opacity="1"/>
<circle cx="89.20" cy="504.51" r="1.22" fill="#6674ac" fill-opacity="1"/>
<circle cx="89.20" cy="524.91" r="1.22" fill="#6674ac" fill-opacity="1"/>
<circle cx="89.20" cy="502.83" r="1.22" fill="#6674ac" fill-opacity="1"/>
<circle cx="89.20" cy="530.03" r="1.22" fill="#6674ac" fill-opacity="1"/>
<circle cx="89.20" cy="498.01" r="1.22" fill="#6674ac" fill-opacity="1"/>
<circle cx="90.70" cy="497.69" r="1.22" fill="#6674ac" fill-opacity="1"/>
<circle cx="89.20" cy="496.48" r="1.22" fill="#6674ac" fill-opacity="1"/>
<circle cx="90.70" cy="495.94" r="1.22" fill="#6674ac" fill-opacity="1"/>
<circle cx="89.20" cy="535.29" r="1.22" fill="#6674ac" fill-opacity="1"/>
<circle cx="89.20" cy="492.99" r="1.22" fill="#6674ac" fill-opacity="1"/>
<circle cx="89.20" cy="487.81" r="1.22" fill="#6674ac" fill-opacity="1"/>
<circle cx="89.20" cy="541.59" r="1.22" fill="#6674ac" fill-opacity="1"/>
<circle cx="89.20" cy="485.78" r="1.22" fill="#6674ac" fill-opacity="1"/>
<circle cx="89.20" cy="480.41" r="1.22" fill="#6674ac" fill-opacity="1"/>
<circle cx="89.20" cy="555.25" r="1.22" fill="#6674ac" fill-opacity="1"/>
<line x1="84.40" y1="514.37" x2="94.00" y2="514.37" stroke="#1a2250" stroke-width="1.4"/>
<line x1="89.20" y1="501.89" x2="89.20" y2="528.92" stroke="#1a2250" stroke-width="1.0"/>
<line x1="85.90" y1="501.89" x2="92.50" y2="501.89" stroke="#1a2250" stroke-width="1.0"/>
<line x1="85.90" y1="528.92" x2="92.50" y2="528.92" stroke="#1a2250" stroke-width="1.0"/>
<circle cx="102.60" cy="534.96" r="1.22" fill="#2f4a8e" fill-opacity="1"/>
<circle cx="102.60" cy="532.17" r="1.22" fill="#2f4a8e" fill-opacity="1"/>
<circle cx="104.10" cy="535.42" r="1.22" fill="#2f4a8e" fill-opacity="1"/>
<circle cx="104.10" cy="532.07" r="1.22" fill="#2f4a8e" fill-opacity="1"/>
<circle cx="101.10" cy="531.99" r="1.22" fill="#2f4a8e" fill-opacity="1"/>
<circle cx="105.50" cy="531.83" r="1.22" fill="#2f4a8e" fill-opacity="1"/>
<circle cx="99.70" cy="531.45" r="1.22" fill="#2f4a8e" fill-opacity="1"/>
<circle cx="102.60" cy="528.38" r="1.22" fill="#2f4a8e" fill-opacity="1"/>
<circle cx="104.10" cy="528.15" r="1.22" fill="#2f4a8e" fill-opacity="1"/>
<circle cx="102.60" cy="540.18" r="1.22" fill="#2f4a8e" fill-opacity="1"/>
<circle cx="104.10" cy="540.31" r="1.22" fill="#2f4a8e" fill-opacity="1"/>
<circle cx="101.10" cy="540.31" r="1.22" fill="#2f4a8e" fill-opacity="1"/>
<circle cx="105.50" cy="541.10" r="1.22" fill="#2f4a8e" fill-opacity="1"/>
<circle cx="102.60" cy="525.73" r="1.22" fill="#2f4a8e" fill-opacity="1"/>
<circle cx="104.10" cy="525.48" r="1.22" fill="#2f4a8e" fill-opacity="1"/>
<circle cx="102.60" cy="542.33" r="1.22" fill="#2f4a8e" fill-opacity="1"/>
<circle cx="104.10" cy="543.07" r="1.22" fill="#2f4a8e" fill-opacity="1"/>
<circle cx="102.60" cy="523.23" r="1.22" fill="#2f4a8e" fill-opacity="1"/>
<circle cx="102.60" cy="544.90" r="1.22" fill="#2f4a8e" fill-opacity="1"/>
<circle cx="104.10" cy="544.98" r="1.22" fill="#2f4a8e" fill-opacity="1"/>
<circle cx="104.10" cy="522.28" r="1.22" fill="#2f4a8e" fill-opacity="1"/>
<circle cx="101.10" cy="545.42" r="1.22" fill="#2f4a8e" fill-opacity="1"/>
<circle cx="101.10" cy="521.98" r="1.22" fill="#2f4a8e" fill-opacity="1"/>
<circle cx="102.60" cy="520.49" r="1.22" fill="#2f4a8e" fill-opacity="1"/>
<circle cx="102.60" cy="548.23" r="1.22" fill="#2f4a8e" fill-opacity="1"/>
<circle cx="104.10" cy="548.42" r="1.22" fill="#2f4a8e" fill-opacity="1"/>
<circle cx="101.10" cy="548.93" r="1.22" fill="#2f4a8e" fill-opacity="1"/>
<circle cx="105.50" cy="548.94" r="1.22" fill="#2f4a8e" fill-opacity="1"/>
<circle cx="102.60" cy="518.28" r="1.22" fill="#2f4a8e" fill-opacity="1"/>
<circle cx="102.60" cy="551.10" r="1.22" fill="#2f4a8e" fill-opacity="1"/>
<circle cx="102.60" cy="513.21" r="1.22" fill="#2f4a8e" fill-opacity="1"/>
<circle cx="102.60" cy="509.52" r="1.22" fill="#2f4a8e" fill-opacity="1"/>
<line x1="97.80" y1="533.77" x2="107.40" y2="533.77" stroke="#141e48" stroke-width="1.4"/>
<line x1="102.60" y1="521.99" x2="102.60" y2="544.17" stroke="#141e48" stroke-width="1.0"/>
<line x1="99.30" y1="521.99" x2="105.90" y2="521.99" stroke="#141e48" stroke-width="1.0"/>
<line x1="99.30" y1="544.17" x2="105.90" y2="544.17" stroke="#141e48" stroke-width="1.0"/>
<circle cx="115.60" cy="532.44" r="1.22" fill="#2fa8e0" fill-opacity="1"/>
<circle cx="117.10" cy="533.25" r="1.22" fill="#2fa8e0" fill-opacity="1"/>
<circle cx="117.10" cy="531.52" r="1.22" fill="#2fa8e0" fill-opacity="1"/>
<circle cx="114.10" cy="533.62" r="1.22" fill="#2fa8e0" fill-opacity="1"/>
<circle cx="115.60" cy="533.74" r="1.22" fill="#2fa8e0" fill-opacity="1"/>
<circle cx="115.60" cy="530.88" r="1.22" fill="#2fa8e0" fill-opacity="1"/>
<circle cx="114.10" cy="530.59" r="1.22" fill="#2fa8e0" fill-opacity="1"/>
<circle cx="117.10" cy="529.86" r="1.22" fill="#2fa8e0" fill-opacity="1"/>
<circle cx="115.60" cy="529.00" r="1.22" fill="#2fa8e0" fill-opacity="1"/>
<circle cx="115.60" cy="536.13" r="1.22" fill="#2fa8e0" fill-opacity="1"/>
<circle cx="117.10" cy="536.74" r="1.22" fill="#2fa8e0" fill-opacity="1"/>
<circle cx="114.10" cy="537.14" r="1.22" fill="#2fa8e0" fill-opacity="1"/>
<circle cx="115.60" cy="526.55" r="1.22" fill="#2fa8e0" fill-opacity="1"/>
<circle cx="115.60" cy="539.13" r="1.22" fill="#2fa8e0" fill-opacity="1"/>
<circle cx="117.10" cy="539.28" r="1.22" fill="#2fa8e0" fill-opacity="1"/>
<circle cx="117.10" cy="525.48" r="1.22" fill="#2fa8e0" fill-opacity="1"/>
<circle cx="114.10" cy="525.41" r="1.22" fill="#2fa8e0" fill-opacity="1"/>
<circle cx="114.10" cy="539.58" r="1.22" fill="#2fa8e0" fill-opacity="1"/>
<circle cx="115.60" cy="525.18" r="1.22" fill="#2fa8e0" fill-opacity="1"/>
<circle cx="118.50" cy="524.85" r="1.22" fill="#2fa8e0" fill-opacity="1"/>
<circle cx="118.50" cy="539.96" r="1.22" fill="#2fa8e0" fill-opacity="1"/>
<circle cx="112.70" cy="524.74" r="1.22" fill="#2fa8e0" fill-opacity="1"/>
<circle cx="111.60" cy="524.69" r="1.22" fill="#2fa8e0" fill-opacity="1"/>
<circle cx="115.60" cy="540.60" r="1.22" fill="#2fa8e0" fill-opacity="1"/>
<circle cx="117.10" cy="524.00" r="1.22" fill="#2fa8e0" fill-opacity="1"/>
<circle cx="115.60" cy="523.53" r="1.22" fill="#2fa8e0" fill-opacity="1"/>
<circle cx="115.60" cy="542.22" r="1.22" fill="#2fa8e0" fill-opacity="1"/>
<circle cx="117.10" cy="522.30" r="1.22" fill="#2fa8e0" fill-opacity="1"/>
<circle cx="115.60" cy="543.52" r="1.22" fill="#2fa8e0" fill-opacity="1"/>
<circle cx="115.60" cy="520.18" r="1.22" fill="#2fa8e0" fill-opacity="1"/>
<circle cx="117.10" cy="519.26" r="1.22" fill="#2fa8e0" fill-opacity="1"/>
<circle cx="115.60" cy="545.53" r="1.22" fill="#2fa8e0" fill-opacity="1"/>
<circle cx="114.10" cy="519.04" r="1.22" fill="#2fa8e0" fill-opacity="1"/>
<circle cx="115.60" cy="518.08" r="1.22" fill="#2fa8e0" fill-opacity="1"/>
<circle cx="117.10" cy="517.96" r="1.22" fill="#2fa8e0" fill-opacity="1"/>
<circle cx="115.60" cy="547.23" r="1.22" fill="#2fa8e0" fill-opacity="1"/>
<circle cx="115.60" cy="549.33" r="1.22" fill="#2fa8e0" fill-opacity="1"/>
<circle cx="117.10" cy="550.18" r="1.22" fill="#2fa8e0" fill-opacity="1"/>
<circle cx="115.60" cy="552.11" r="1.22" fill="#2fa8e0" fill-opacity="1"/>
<circle cx="115.60" cy="511.79" r="1.22" fill="#2fa8e0" fill-opacity="1"/>
<circle cx="117.10" cy="553.22" r="1.22" fill="#2fa8e0" fill-opacity="1"/>
<circle cx="115.60" cy="506.74" r="1.22" fill="#2fa8e0" fill-opacity="1"/>
<circle cx="115.60" cy="567.73" r="1.22" fill="#2fa8e0" fill-opacity="1"/>
<line x1="110.80" y1="532.38" x2="120.40" y2="532.38" stroke="#1a2a5a" stroke-width="1.4"/>
<line x1="115.60" y1="521.30" x2="115.60" y2="544.86" stroke="#1a2a5a" stroke-width="1.0"/>
<line x1="112.30" y1="521.30" x2="118.90" y2="521.30" stroke="#1a2a5a" stroke-width="1.0"/>
<line x1="112.30" y1="544.86" x2="118.90" y2="544.86" stroke="#1a2a5a" stroke-width="1.0"/>
<circle cx="129.20" cy="537.83" r="1.22" fill="#f08cba" fill-opacity="1"/>
<circle cx="130.70" cy="537.80" r="1.22" fill="#f08cba" fill-opacity="1"/>
<circle cx="129.20" cy="539.91" r="1.22" fill="#f08cba" fill-opacity="1"/>
<circle cx="127.70" cy="537.17" r="1.22" fill="#f08cba" fill-opacity="1"/>
<circle cx="130.70" cy="540.19" r="1.22" fill="#f08cba" fill-opacity="1"/>
<circle cx="129.20" cy="536.05" r="1.22" fill="#f08cba" fill-opacity="1"/>
<circle cx="129.20" cy="541.26" r="1.22" fill="#f08cba" fill-opacity="1"/>
<circle cx="127.70" cy="541.34" r="1.22" fill="#f08cba" fill-opacity="1"/>
<circle cx="130.70" cy="535.76" r="1.22" fill="#f08cba" fill-opacity="1"/>
<circle cx="127.70" cy="535.69" r="1.22" fill="#f08cba" fill-opacity="1"/>
<circle cx="132.10" cy="535.52" r="1.22" fill="#f08cba" fill-opacity="1"/>
<circle cx="129.20" cy="542.85" r="1.22" fill="#f08cba" fill-opacity="1"/>
<circle cx="129.20" cy="531.83" r="1.22" fill="#f08cba" fill-opacity="1"/>
<circle cx="129.20" cy="546.10" r="1.22" fill="#f08cba" fill-opacity="1"/>
<circle cx="130.70" cy="531.02" r="1.22" fill="#f08cba" fill-opacity="1"/>
<circle cx="130.70" cy="546.75" r="1.22" fill="#f08cba" fill-opacity="1"/>
<circle cx="129.20" cy="548.29" r="1.22" fill="#f08cba" fill-opacity="1"/>
<circle cx="130.70" cy="548.30" r="1.22" fill="#f08cba" fill-opacity="1"/>
<circle cx="127.70" cy="549.02" r="1.22" fill="#f08cba" fill-opacity="1"/>
<circle cx="132.10" cy="549.12" r="1.22" fill="#f08cba" fill-opacity="1"/>
<circle cx="129.20" cy="525.86" r="1.22" fill="#f08cba" fill-opacity="1"/>
<circle cx="130.70" cy="525.81" r="1.22" fill="#f08cba" fill-opacity="1"/>
<circle cx="127.70" cy="524.81" r="1.22" fill="#f08cba" fill-opacity="1"/>
<circle cx="129.20" cy="554.54" r="1.22" fill="#f08cba" fill-opacity="1"/>
<circle cx="129.20" cy="517.72" r="1.22" fill="#f08cba" fill-opacity="1"/>
<circle cx="129.20" cy="559.64" r="1.22" fill="#f08cba" fill-opacity="1"/>
<circle cx="129.20" cy="516.43" r="1.22" fill="#f08cba" fill-opacity="1"/>
<circle cx="129.20" cy="510.90" r="1.22" fill="#f08cba" fill-opacity="1"/>
<circle cx="129.20" cy="568.71" r="1.22" fill="#f08cba" fill-opacity="1"/>
<circle cx="130.70" cy="569.11" r="1.22" fill="#f08cba" fill-opacity="1"/>
<line x1="124.40" y1="538.62" x2="134.00" y2="538.62" stroke="#6a1a48" stroke-width="1.4"/>
<line x1="129.20" y1="524.07" x2="129.20" y2="553.87" stroke="#6a1a48" stroke-width="1.0"/>
<line x1="125.90" y1="524.07" x2="132.50" y2="524.07" stroke="#6a1a48" stroke-width="1.0"/>
<line x1="125.90" y1="553.87" x2="132.50" y2="553.87" stroke="#6a1a48" stroke-width="1.0"/>
<circle cx="142.40" cy="531.55" r="1.22" fill="#8a5a9c" fill-opacity="1"/>
<circle cx="143.90" cy="531.32" r="1.22" fill="#8a5a9c" fill-opacity="1"/>
<circle cx="142.40" cy="533.79" r="1.22" fill="#8a5a9c" fill-opacity="1"/>
<circle cx="143.90" cy="533.91" r="1.22" fill="#8a5a9c" fill-opacity="1"/>
<circle cx="142.40" cy="530.25" r="1.22" fill="#8a5a9c" fill-opacity="1"/>
<circle cx="140.90" cy="534.97" r="1.22" fill="#8a5a9c" fill-opacity="1"/>
<circle cx="143.90" cy="529.77" r="1.22" fill="#8a5a9c" fill-opacity="1"/>
<circle cx="142.40" cy="535.29" r="1.22" fill="#8a5a9c" fill-opacity="1"/>
<circle cx="142.40" cy="528.53" r="1.22" fill="#8a5a9c" fill-opacity="1"/>
<circle cx="140.90" cy="528.51" r="1.22" fill="#8a5a9c" fill-opacity="1"/>
<circle cx="142.40" cy="536.56" r="1.22" fill="#8a5a9c" fill-opacity="1"/>
<circle cx="143.90" cy="536.67" r="1.22" fill="#8a5a9c" fill-opacity="1"/>
<circle cx="140.90" cy="536.68" r="1.22" fill="#8a5a9c" fill-opacity="1"/>
<circle cx="142.40" cy="539.04" r="1.22" fill="#8a5a9c" fill-opacity="1"/>
<circle cx="143.90" cy="539.06" r="1.22" fill="#8a5a9c" fill-opacity="1"/>
<circle cx="140.90" cy="539.14" r="1.22" fill="#8a5a9c" fill-opacity="1"/>
<circle cx="145.30" cy="539.42" r="1.22" fill="#8a5a9c" fill-opacity="1"/>
<circle cx="139.50" cy="539.55" r="1.22" fill="#8a5a9c" fill-opacity="1"/>
<circle cx="142.40" cy="540.54" r="1.22" fill="#8a5a9c" fill-opacity="1"/>
<circle cx="142.40" cy="524.18" r="1.22" fill="#8a5a9c" fill-opacity="1"/>
<circle cx="143.90" cy="540.98" r="1.22" fill="#8a5a9c" fill-opacity="1"/>
<circle cx="143.90" cy="523.66" r="1.22" fill="#8a5a9c" fill-opacity="1"/>
<circle cx="142.40" cy="522.69" r="1.22" fill="#8a5a9c" fill-opacity="1"/>
<circle cx="140.90" cy="522.50" r="1.22" fill="#8a5a9c" fill-opacity="1"/>
<circle cx="145.30" cy="522.45" r="1.22" fill="#8a5a9c" fill-opacity="1"/>
<circle cx="142.40" cy="542.49" r="1.22" fill="#8a5a9c" fill-opacity="1"/>
<circle cx="143.90" cy="543.27" r="1.22" fill="#8a5a9c" fill-opacity="1"/>
<circle cx="142.40" cy="520.96" r="1.22" fill="#8a5a9c" fill-opacity="1"/>
<circle cx="142.40" cy="543.97" r="1.22" fill="#8a5a9c" fill-opacity="1"/>
<circle cx="143.90" cy="520.41" r="1.22" fill="#8a5a9c" fill-opacity="1"/>
<circle cx="140.90" cy="544.45" r="1.22" fill="#8a5a9c" fill-opacity="1"/>
<circle cx="140.90" cy="520.09" r="1.22" fill="#8a5a9c" fill-opacity="1"/>
<circle cx="143.90" cy="544.88" r="1.22" fill="#8a5a9c" fill-opacity="1"/>
<circle cx="142.40" cy="545.76" r="1.22" fill="#8a5a9c" fill-opacity="1"/>
<circle cx="143.90" cy="546.16" r="1.22" fill="#8a5a9c" fill-opacity="1"/>
<circle cx="142.40" cy="518.26" r="1.22" fill="#8a5a9c" fill-opacity="1"/>
<circle cx="142.40" cy="547.53" r="1.22" fill="#8a5a9c" fill-opacity="1"/>
<circle cx="142.40" cy="516.48" r="1.22" fill="#8a5a9c" fill-opacity="1"/>
<circle cx="142.40" cy="549.24" r="1.22" fill="#8a5a9c" fill-opacity="1"/>
<circle cx="143.90" cy="549.35" r="1.22" fill="#8a5a9c" fill-opacity="1"/>
<circle cx="142.40" cy="509.52" r="1.22" fill="#8a5a9c" fill-opacity="1"/>
<circle cx="142.40" cy="558.10" r="1.22" fill="#8a5a9c" fill-opacity="1"/>
<circle cx="142.40" cy="559.41" r="1.22" fill="#8a5a9c" fill-opacity="1"/>
<line x1="137.60" y1="532.38" x2="147.20" y2="532.38" stroke="#3a1a4a" stroke-width="1.4"/>
<line x1="142.40" y1="520.60" x2="142.40" y2="546.25" stroke="#3a1a4a" stroke-width="1.0"/>
<line x1="139.10" y1="520.60" x2="145.70" y2="520.60" stroke="#3a1a4a" stroke-width="1.0"/>
<line x1="139.10" y1="546.25" x2="145.70" y2="546.25" stroke="#3a1a4a" stroke-width="1.0"/>
<line x1="39.20" y1="570.50" x2="151.00" y2="570.50" stroke="#2b2b2b" stroke-width="1.3"/>
<line x1="48.60" y1="570.50" x2="48.60" y2="573.00" stroke="#2b2b2b" stroke-width="1.1700000000000002"/>
<line x1="62.40" y1="570.50" x2="62.40" y2="573.00" stroke="#2b2b2b" stroke-width="1.1700000000000002"/>
<line x1="76.00" y1="570.50" x2="76.00" y2="573.00" stroke="#2b2b2b" stroke-width="1.1700000000000002"/>
<line x1="89.20" y1="570.50" x2="89.20" y2="573.00" stroke="#2b2b2b" stroke-width="1.1700000000000002"/>
<line x1="102.60" y1="570.50" x2="102.60" y2="573.00" stroke="#2b2b2b" stroke-width="1.1700000000000002"/>
<line x1="115.60" y1="570.50" x2="115.60" y2="573.00" stroke="#2b2b2b" stroke-width="1.1700000000000002"/>
<line x1="129.20" y1="570.50" x2="129.20" y2="573.00" stroke="#2b2b2b" stroke-width="1.1700000000000002"/>
<line x1="142.40" y1="570.50" x2="142.40" y2="573.00" stroke="#2b2b2b" stroke-width="1.1700000000000002"/>
<polyline points="48.40,461.50 48.40,459.20 103.00,459.20 103.00,483.00" fill="none" stroke="#2b2b2b" stroke-width="1.0"/>
<text x="75.70" y="459.80" font-size="7.5" text-anchor="middle" font-weight="normal" font-style="normal" fill="#3a3a3a">****</text>
<polyline points="48.40,468.00 48.40,465.90 89.10,465.90 89.10,467.80" fill="none" stroke="#2b2b2b" stroke-width="1.0"/>
<text x="68.75" y="464.00" font-size="6.3" text-anchor="middle" font-weight="normal" font-style="normal" fill="#3a3a3a">ns</text>
<polyline points="48.40,473.60 48.40,471.50 76.20,471.50 76.20,486.30" fill="none" stroke="#2b2b2b" stroke-width="1.0"/>
<text x="62.30" y="470.30" font-size="6.3" text-anchor="middle" font-weight="normal" font-style="normal" fill="#3a3a3a">ns</text>
<polyline points="48.40,480.30 48.40,478.00 62.80,478.00 62.80,490.40" fill="none" stroke="#2b2b2b" stroke-width="1.0"/>
<text x="55.60" y="476.80" font-size="6.3" text-anchor="middle" font-weight="normal" font-style="normal" fill="#3a3a3a">ns</text>
<polyline points="102.40,491.20 102.40,489.00 143.80,489.00 143.80,502.50" fill="none" stroke="#2b2b2b" stroke-width="1.0"/>
<text x="123.10" y="488.20" font-size="6.3" text-anchor="middle" font-weight="normal" font-style="normal" fill="#3a3a3a">ns</text>
<polyline points="102.40,497.00 102.40,494.80 128.80,494.80 128.80,508.30" fill="none" stroke="#2b2b2b" stroke-width="1.0"/>
<text x="115.60" y="493.50" font-size="6.3" text-anchor="middle" font-weight="normal" font-style="normal" fill="#3a3a3a">ns</text>
<polyline points="102.40,502.00 102.40,499.80 116.00,499.80 116.00,501.90" fill="none" stroke="#2b2b2b" stroke-width="1.0"/>
<text x="109.20" y="498.80" font-size="6.3" text-anchor="middle" font-weight="normal" font-style="normal" fill="#3a3a3a">ns</text>
<text x="40.00" y="583.20" font-size="6.3" text-anchor="end" font-weight="normal" font-style="normal" fill="#3a3a3a"><tspan font-style="italic">jagn1b</tspan> MO</text>
<text x="48.60" y="583.20" font-size="6.3" text-anchor="middle" font-weight="normal" font-style="normal" fill="#3a3a3a">–</text>
<text x="62.40" y="583.20" font-size="6.3" text-anchor="middle" font-weight="normal" font-style="normal" fill="#3a3a3a">–</text>
<text x="76.00" y="583.20" font-size="6.3" text-anchor="middle" font-weight="normal" font-style="normal" fill="#3a3a3a">–</text>
<text x="89.20" y="583.20" font-size="6.3" text-anchor="middle" font-weight="normal" font-style="normal" fill="#3a3a3a">–</text>
<text x="102.60" y="583.20" font-size="6.3" text-anchor="middle" font-weight="normal" font-style="normal" fill="#3a3a3a">+</text>
<text x="115.60" y="583.20" font-size="6.3" text-anchor="middle" font-weight="normal" font-style="normal" fill="#3a3a3a">+</text>
<text x="129.20" y="583.20" font-size="6.3" text-anchor="middle" font-weight="normal" font-style="normal" fill="#3a3a3a">+</text>
<text x="142.40" y="583.20" font-size="6.3" text-anchor="middle" font-weight="normal" font-style="normal" fill="#3a3a3a">+</text>
<text x="40.00" y="591.30" font-size="6.3" text-anchor="end" font-weight="normal" font-style="normal" fill="#3a3a3a">Tunicamycin</text>
<text x="48.60" y="591.30" font-size="6.3" text-anchor="middle" font-weight="normal" font-style="normal" fill="#3a3a3a">–</text>
<text x="62.40" y="591.30" font-size="6.3" text-anchor="middle" font-weight="normal" font-style="normal" fill="#3a3a3a">–</text>
<text x="76.00" y="591.30" font-size="6.3" text-anchor="middle" font-weight="normal" font-style="normal" fill="#3a3a3a">–</text>
<text x="89.20" y="591.30" font-size="6.3" text-anchor="middle" font-weight="normal" font-style="normal" fill="#3a3a3a">+</text>
<text x="102.60" y="591.30" font-size="6.3" text-anchor="middle" font-weight="normal" font-style="normal" fill="#3a3a3a">–</text>
<text x="115.60" y="591.30" font-size="6.3" text-anchor="middle" font-weight="normal" font-style="normal" fill="#3a3a3a">–</text>
<text x="129.20" y="591.30" font-size="6.3" text-anchor="middle" font-weight="normal" font-style="normal" fill="#3a3a3a">–</text>
<text x="142.40" y="591.30" font-size="6.3" text-anchor="middle" font-weight="normal" font-style="normal" fill="#3a3a3a">+</text>
<text x="40.00" y="599.50" font-size="6.3" text-anchor="end" font-weight="normal" font-style="normal" fill="#3a3a3a">DMSO</text>
<text x="48.60" y="599.50" font-size="6.3" text-anchor="middle" font-weight="normal" font-style="normal" fill="#3a3a3a">–</text>
<text x="62.40" y="599.50" font-size="6.3" text-anchor="middle" font-weight="normal" font-style="normal" fill="#3a3a3a">+</text>
<text x="76.00" y="599.50" font-size="6.3" text-anchor="middle" font-weight="normal" font-style="normal" fill="#3a3a3a">–</text>
<text x="89.20" y="599.50" font-size="6.3" text-anchor="middle" font-weight="normal" font-style="normal" fill="#3a3a3a">–</text>
<text x="102.60" y="599.50" font-size="6.3" text-anchor="middle" font-weight="normal" font-style="normal" fill="#3a3a3a">–</text>
<text x="115.60" y="599.50" font-size="6.3" text-anchor="middle" font-weight="normal" font-style="normal" fill="#3a3a3a">+</text>
<text x="129.20" y="599.50" font-size="6.3" text-anchor="middle" font-weight="normal" font-style="normal" fill="#3a3a3a">–</text>
<text x="142.40" y="599.50" font-size="6.3" text-anchor="middle" font-weight="normal" font-style="normal" fill="#3a3a3a">–</text>
<text x="40.00" y="607.60" font-size="6.3" text-anchor="end" font-weight="normal" font-style="normal" fill="#3a3a3a">DTT</text>
<text x="48.60" y="607.60" font-size="6.3" text-anchor="middle" font-weight="normal" font-style="normal" fill="#3a3a3a">–</text>
<text x="62.40" y="607.60" font-size="6.3" text-anchor="middle" font-weight="normal" font-style="normal" fill="#3a3a3a">–</text>
<text x="76.00" y="607.60" font-size="6.3" text-anchor="middle" font-weight="normal" font-style="normal" fill="#3a3a3a">+</text>
<text x="89.20" y="607.60" font-size="6.3" text-anchor="middle" font-weight="normal" font-style="normal" fill="#3a3a3a">–</text>
<text x="102.60" y="607.60" font-size="6.3" text-anchor="middle" font-weight="normal" font-style="normal" fill="#3a3a3a">–</text>
<text x="115.60" y="607.60" font-size="6.3" text-anchor="middle" font-weight="normal" font-style="normal" fill="#3a3a3a">–</text>
<text x="129.20" y="607.60" font-size="6.3" text-anchor="middle" font-weight="normal" font-style="normal" fill="#3a3a3a">+</text>
<text x="142.40" y="607.60" font-size="6.3" text-anchor="middle" font-weight="normal" font-style="normal" fill="#3a3a3a">–</text>
<text x="40.00" y="616.00" font-size="6.3" text-anchor="end" font-weight="normal" font-style="normal" fill="#3a3a3a">N =</text>
<text x="48.60" y="616.00" font-size="6.3" text-anchor="middle" font-weight="normal" font-style="normal" fill="#3a3a3a">34</text>
<text x="62.40" y="616.00" font-size="6.3" text-anchor="middle" font-weight="normal" font-style="normal" fill="#3a3a3a">37</text>
<text x="76.00" y="616.00" font-size="6.3" text-anchor="middle" font-weight="normal" font-style="normal" fill="#3a3a3a">42</text>
<text x="89.20" y="616.00" font-size="6.3" text-anchor="middle" font-weight="normal" font-style="normal" fill="#3a3a3a">43</text>
<text x="102.60" y="616.00" font-size="6.3" text-anchor="middle" font-weight="normal" font-style="normal" fill="#3a3a3a">32</text>
<text x="115.60" y="616.00" font-size="6.3" text-anchor="middle" font-weight="normal" font-style="normal" fill="#3a3a3a">43</text>
<text x="129.20" y="616.00" font-size="6.3" text-anchor="middle" font-weight="normal" font-style="normal" fill="#3a3a3a">30</text>
<text x="142.40" y="616.00" font-size="6.3" text-anchor="middle" font-weight="normal" font-style="normal" fill="#3a3a3a">43</text>
<defs><filter id="fblur" x="-10%" y="-10%" width="120%" height="120%"><feGaussianBlur stdDeviation="0.9"/></filter></defs>
<text x="167.70" y="447.30" font-size="10.8" font-weight="bold" fill="#111" style="stroke:#111;stroke-width:0.6px">I</text>
<text x="340.5" y="470.3" font-size="9.2" text-anchor="middle" fill="#222" textLength="59" lengthAdjust="spacingAndGlyphs" style="stroke-width:0.08px">Neutrophils (<tspan font-style="italic">lyz</tspan>)</text>
<clipPath id="cl184476"><rect x="184.9" y="476.9" width="74.99999999999997" height="37.60000000000002"/></clipPath>
<g clip-path="url(#cl184476)">
<rect x="184.90" y="476.90" width="75.00" height="37.60" fill="#d6d6d7"/>
<g filter="url(#fblur)">
<path d="M 184.90,516.38 C 199.90,512.62 211.15,500.21 237.40,497.58 L 263.65,500.21 263.65,516.38 Z" fill="#dcdcdc"/>
<path d="M 183.40,490.44 C 203.65,484.42 226.15,482.92 244.90,486.30 C 252.40,488.18 254.65,491.19 250.90,493.44 C 229.90,493.44 214.90,495.70 205.90,501.72 C 199.90,506.98 193.90,512.62 183.40,515.25 Z" fill="#dcd9d5"/>
<path d="M 183.40,495.70 C 192.40,494.20 201.40,497.58 205.15,501.72 C 199.90,506.98 193.90,512.62 183.40,515.25 Z" fill="#cfc2b4" fill-opacity="0.7"/>
<path d="M 184.90,514.50 C 193.90,512.62 199.90,507.73 205.90,501.72 C 214.90,495.70 229.90,493.44 250.90,493.44" fill="none" stroke="#80766e" stroke-width="0.7" stroke-opacity="0.6"/>
<path d="M 183.40,490.44 C 203.65,484.42 226.15,482.92 244.90,486.30" fill="none" stroke="#8a8480" stroke-width="0.7" stroke-opacity="0.55"/>
</g>
<ellipse cx="220.63" cy="497.23" rx="0.85" ry="0.7" fill="#34346a" fill-opacity="0.77"/>
<ellipse cx="224.55" cy="493.89" rx="0.85" ry="0.7" fill="#34346a" fill-opacity="0.51"/>
<ellipse cx="230.04" cy="495.54" rx="0.85" ry="0.7" fill="#34346a" fill-opacity="0.31"/>
<ellipse cx="214.90" cy="497.36" rx="0.85" ry="0.7" fill="#34346a" fill-opacity="0.57"/>
<ellipse cx="201.16" cy="499.38" rx="0.85" ry="0.7" fill="#34346a" fill-opacity="0.75"/>
<ellipse cx="223.61" cy="496.32" rx="0.85" ry="0.7" fill="#34346a" fill-opacity="0.33"/>
<ellipse cx="219.08" cy="494.58" rx="0.85" ry="0.7" fill="#34346a" fill-opacity="0.73"/>
<ellipse cx="207.04" cy="500.51" rx="0.85" ry="0.7" fill="#34346a" fill-opacity="0.73"/>
<ellipse cx="211.12" cy="498.50" rx="0.85" ry="0.7" fill="#34346a" fill-opacity="0.62"/>
<ellipse cx="208.54" cy="499.55" rx="0.85" ry="0.7" fill="#34346a" fill-opacity="0.78"/>
<ellipse cx="227.76" cy="494.03" rx="0.85" ry="0.7" fill="#34346a" fill-opacity="0.34"/>
<ellipse cx="204.79" cy="498.61" rx="0.85" ry="0.7" fill="#34346a" fill-opacity="0.58"/>
<ellipse cx="201.90" cy="499.64" rx="0.85" ry="0.7" fill="#34346a" fill-opacity="0.42"/>
<ellipse cx="225.91" cy="494.36" rx="0.85" ry="0.7" fill="#34346a" fill-opacity="0.51"/>
<ellipse cx="221.54" cy="497.32" rx="0.85" ry="0.7" fill="#34346a" fill-opacity="0.26"/>
<ellipse cx="224.67" cy="493.79" rx="0.85" ry="0.7" fill="#34346a" fill-opacity="0.68"/>
<ellipse cx="212.56" cy="496.21" rx="0.85" ry="0.7" fill="#34346a" fill-opacity="0.28"/>
<ellipse cx="207.85" cy="498.03" rx="0.85" ry="0.7" fill="#34346a" fill-opacity="0.67"/>
<ellipse cx="230.28" cy="493.74" rx="0.85" ry="0.7" fill="#34346a" fill-opacity="0.45"/>
<ellipse cx="217.76" cy="495.53" rx="0.85" ry="0.7" fill="#34346a" fill-opacity="0.66"/>
<ellipse cx="226.13" cy="493.55" rx="0.85" ry="0.7" fill="#34346a" fill-opacity="0.77"/>
<ellipse cx="203.78" cy="500.00" rx="0.85" ry="0.7" fill="#34346a" fill-opacity="0.75"/>
<ellipse cx="212.55" cy="498.19" rx="0.85" ry="0.7" fill="#34346a" fill-opacity="0.42"/>
<ellipse cx="210.18" cy="496.76" rx="0.85" ry="0.7" fill="#34346a" fill-opacity="0.33"/>
<ellipse cx="223.19" cy="494.66" rx="0.85" ry="0.7" fill="#34346a" fill-opacity="0.28"/>
<ellipse cx="231.08" cy="493.59" rx="0.85" ry="0.7" fill="#34346a" fill-opacity="0.38"/>
<ellipse cx="219.95" cy="496.27" rx="0.85" ry="0.7" fill="#34346a" fill-opacity="0.48"/>
<ellipse cx="204.01" cy="498.27" rx="0.85" ry="0.7" fill="#34346a" fill-opacity="0.52"/>
<ellipse cx="225.72" cy="495.64" rx="0.85" ry="0.7" fill="#34346a" fill-opacity="0.77"/>
<ellipse cx="220.96" cy="494.85" rx="0.85" ry="0.7" fill="#34346a" fill-opacity="0.49"/>
<ellipse cx="206.65" cy="498.56" rx="0.85" ry="0.7" fill="#34346a" fill-opacity="0.50"/>
<ellipse cx="232.17" cy="495.44" rx="0.85" ry="0.7" fill="#34346a" fill-opacity="0.50"/>
<ellipse cx="216.56" cy="497.02" rx="0.85" ry="0.7" fill="#34346a" fill-opacity="0.41"/>
<ellipse cx="212.72" cy="497.21" rx="0.85" ry="0.7" fill="#34346a" fill-opacity="0.79"/>
<ellipse cx="230.48" cy="494.07" rx="0.85" ry="0.7" fill="#34346a" fill-opacity="0.44"/>
<ellipse cx="203.56" cy="500.60" rx="0.85" ry="0.7" fill="#34346a" fill-opacity="0.73"/>
<ellipse cx="212.88" cy="498.83" rx="0.85" ry="0.7" fill="#34346a" fill-opacity="0.63"/>
<ellipse cx="221.90" cy="495.51" rx="0.85" ry="0.7" fill="#34346a" fill-opacity="0.64"/>
<ellipse cx="209.79" cy="499.33" rx="0.85" ry="0.7" fill="#34346a" fill-opacity="0.63"/>
<ellipse cx="211.22" cy="498.84" rx="0.85" ry="0.7" fill="#34346a" fill-opacity="0.57"/>
<circle cx="207.88" cy="488.51" r="0.55" fill="#666" fill-opacity="0.3"/>
<circle cx="217.74" cy="490.34" r="0.55" fill="#666" fill-opacity="0.3"/>
<circle cx="226.50" cy="492.17" r="0.55" fill="#666" fill-opacity="0.3"/>
<circle cx="234.11" cy="492.89" r="0.55" fill="#666" fill-opacity="0.3"/>
<circle cx="221.75" cy="490.62" r="0.55" fill="#666" fill-opacity="0.3"/>
<circle cx="237.84" cy="493.48" r="0.55" fill="#666" fill-opacity="0.3"/>
<circle cx="221.84" cy="491.82" r="0.55" fill="#666" fill-opacity="0.3"/>
<circle cx="243.28" cy="493.24" r="0.55" fill="#666" fill-opacity="0.3"/>
<circle cx="247.67" cy="495.33" r="0.55" fill="#666" fill-opacity="0.3"/>
<circle cx="228.77" cy="490.69" r="0.55" fill="#666" fill-opacity="0.3"/>
<circle cx="214.25" cy="490.95" r="0.55" fill="#666" fill-opacity="0.3"/>
<circle cx="246.07" cy="492.27" r="0.55" fill="#666" fill-opacity="0.3"/>
<circle cx="235.92" cy="492.62" r="0.55" fill="#666" fill-opacity="0.3"/>
<circle cx="237.53" cy="489.50" r="0.55" fill="#666" fill-opacity="0.3"/>
<line x1="249.40" y1="508.67" x2="255.90" y2="508.67" stroke="#333" stroke-width="1.3"/>
</g>
<rect x="184.90" y="476.90" width="75.00" height="37.60" fill="none" stroke="#3fa845" stroke-width="1.8"/>
<clipPath id="cl264476"><rect x="264.0" y="476.9" width="74.69999999999999" height="37.60000000000002"/></clipPath>
<g clip-path="url(#cl264476)">
<rect x="264.00" y="476.90" width="74.70" height="37.60" fill="#d6d6d7"/>
<g filter="url(#fblur)">
<path d="M 264.00,516.38 C 278.94,512.62 290.14,500.21 316.29,497.58 L 342.44,500.21 342.44,516.38 Z" fill="#dcdcdc"/>
<path d="M 262.51,490.44 C 282.68,484.42 305.08,482.92 323.76,486.30 C 331.23,488.18 333.47,491.19 329.74,493.44 C 308.82,493.44 293.88,495.70 284.92,501.72 C 278.94,506.98 272.96,512.62 262.51,515.25 Z" fill="#dcd9d5"/>
<path d="M 262.51,495.70 C 271.47,494.20 280.43,497.58 284.17,501.72 C 278.94,506.98 272.96,512.62 262.51,515.25 Z" fill="#cfc2b4" fill-opacity="0.6"/>
<path d="M 264.00,514.50 C 272.96,512.62 278.94,507.73 284.92,501.72 C 293.88,495.70 308.82,493.44 329.74,493.44" fill="none" stroke="#80766e" stroke-width="0.7" stroke-opacity="0.6"/>
<path d="M 262.51,490.44 C 282.68,484.42 305.08,482.92 323.76,486.30" fill="none" stroke="#8a8480" stroke-width="0.7" stroke-opacity="0.55"/>
</g>
<ellipse cx="301.27" cy="496.24" rx="0.85" ry="0.7" fill="#34346a" fill-opacity="0.48"/>
<ellipse cx="297.26" cy="497.21" rx="0.85" ry="0.7" fill="#34346a" fill-opacity="0.65"/>
<ellipse cx="278.96" cy="500.58" rx="0.85" ry="0.7" fill="#34346a" fill-opacity="0.61"/>
<ellipse cx="285.57" cy="499.92" rx="0.85" ry="0.7" fill="#34346a" fill-opacity="0.27"/>
<ellipse cx="291.71" cy="496.26" rx="0.85" ry="0.7" fill="#34346a" fill-opacity="0.32"/>
<ellipse cx="287.23" cy="497.78" rx="0.85" ry="0.7" fill="#34346a" fill-opacity="0.27"/>
<ellipse cx="291.88" cy="498.19" rx="0.85" ry="0.7" fill="#34346a" fill-opacity="0.57"/>
<ellipse cx="286.60" cy="497.66" rx="0.85" ry="0.7" fill="#34346a" fill-opacity="0.47"/>
<ellipse cx="286.64" cy="497.78" rx="0.85" ry="0.7" fill="#34346a" fill-opacity="0.71"/>
<ellipse cx="288.51" cy="498.82" rx="0.85" ry="0.7" fill="#34346a" fill-opacity="0.30"/>
<ellipse cx="294.06" cy="497.55" rx="0.85" ry="0.7" fill="#34346a" fill-opacity="0.78"/>
<ellipse cx="301.99" cy="496.48" rx="0.85" ry="0.7" fill="#34346a" fill-opacity="0.60"/>
<ellipse cx="288.62" cy="498.79" rx="0.85" ry="0.7" fill="#34346a" fill-opacity="0.56"/>
<ellipse cx="307.16" cy="494.85" rx="0.85" ry="0.7" fill="#34346a" fill-opacity="0.44"/>
<ellipse cx="303.18" cy="493.59" rx="0.85" ry="0.7" fill="#34346a" fill-opacity="0.56"/>
<ellipse cx="295.60" cy="497.24" rx="0.85" ry="0.7" fill="#34346a" fill-opacity="0.74"/>
<ellipse cx="289.46" cy="497.49" rx="0.85" ry="0.7" fill="#34346a" fill-opacity="0.41"/>
<ellipse cx="306.27" cy="495.94" rx="0.85" ry="0.7" fill="#34346a" fill-opacity="0.75"/>
<ellipse cx="295.31" cy="498.56" rx="0.85" ry="0.7" fill="#34346a" fill-opacity="0.52"/>
<ellipse cx="290.33" cy="499.79" rx="0.85" ry="0.7" fill="#34346a" fill-opacity="0.52"/>
<ellipse cx="287.02" cy="497.75" rx="0.85" ry="0.7" fill="#34346a" fill-opacity="0.59"/>
<ellipse cx="291.06" cy="498.92" rx="0.85" ry="0.7" fill="#34346a" fill-opacity="0.70"/>
<ellipse cx="279.39" cy="500.11" rx="0.85" ry="0.7" fill="#34346a" fill-opacity="0.76"/>
<ellipse cx="300.57" cy="494.89" rx="0.85" ry="0.7" fill="#34346a" fill-opacity="0.34"/>
<ellipse cx="306.55" cy="494.64" rx="0.85" ry="0.7" fill="#34346a" fill-opacity="0.51"/>
<ellipse cx="297.48" cy="497.42" rx="0.85" ry="0.7" fill="#34346a" fill-opacity="0.31"/>
<ellipse cx="300.08" cy="495.93" rx="0.85" ry="0.7" fill="#34346a" fill-opacity="0.43"/>
<ellipse cx="287.43" cy="498.83" rx="0.85" ry="0.7" fill="#34346a" fill-opacity="0.45"/>
<ellipse cx="300.29" cy="494.35" rx="0.85" ry="0.7" fill="#34346a" fill-opacity="0.39"/>
<ellipse cx="292.81" cy="499.19" rx="0.85" ry="0.7" fill="#34346a" fill-opacity="0.55"/>
<ellipse cx="279.98" cy="500.62" rx="0.85" ry="0.7" fill="#34346a" fill-opacity="0.57"/>
<ellipse cx="299.34" cy="496.11" rx="0.85" ry="0.7" fill="#34346a" fill-opacity="0.75"/>
<ellipse cx="289.64" cy="499.55" rx="0.85" ry="0.7" fill="#34346a" fill-opacity="0.36"/>
<ellipse cx="288.09" cy="497.49" rx="0.85" ry="0.7" fill="#34346a" fill-opacity="0.71"/>
<ellipse cx="298.51" cy="495.54" rx="0.85" ry="0.7" fill="#34346a" fill-opacity="0.68"/>
<ellipse cx="303.99" cy="494.73" rx="0.85" ry="0.7" fill="#34346a" fill-opacity="0.55"/>
<ellipse cx="292.69" cy="496.42" rx="0.85" ry="0.7" fill="#34346a" fill-opacity="0.57"/>
<ellipse cx="301.02" cy="494.56" rx="0.85" ry="0.7" fill="#34346a" fill-opacity="0.70"/>
<ellipse cx="301.78" cy="494.00" rx="0.85" ry="0.7" fill="#34346a" fill-opacity="0.65"/>
<ellipse cx="307.84" cy="495.02" rx="0.85" ry="0.7" fill="#34346a" fill-opacity="0.28"/>
<circle cx="321.01" cy="490.29" r="0.55" fill="#666" fill-opacity="0.3"/>
<circle cx="312.94" cy="493.81" r="0.55" fill="#666" fill-opacity="0.3"/>
<circle cx="315.68" cy="489.20" r="0.55" fill="#666" fill-opacity="0.3"/>
<circle cx="298.43" cy="492.01" r="0.55" fill="#666" fill-opacity="0.3"/>
<circle cx="292.56" cy="489.52" r="0.55" fill="#666" fill-opacity="0.3"/>
<circle cx="303.42" cy="488.01" r="0.55" fill="#666" fill-opacity="0.3"/>
<circle cx="311.98" cy="488.24" r="0.55" fill="#666" fill-opacity="0.3"/>
<circle cx="290.86" cy="487.94" r="0.55" fill="#666" fill-opacity="0.3"/>
<circle cx="289.37" cy="485.84" r="0.55" fill="#666" fill-opacity="0.3"/>
<circle cx="310.04" cy="492.23" r="0.55" fill="#666" fill-opacity="0.3"/>
<circle cx="322.50" cy="489.94" r="0.55" fill="#666" fill-opacity="0.3"/>
<circle cx="304.15" cy="489.01" r="0.55" fill="#666" fill-opacity="0.3"/>
<circle cx="311.07" cy="490.83" r="0.55" fill="#666" fill-opacity="0.3"/>
<circle cx="324.97" cy="491.66" r="0.55" fill="#666" fill-opacity="0.3"/>
<line x1="328.24" y1="508.67" x2="334.74" y2="508.67" stroke="#333" stroke-width="1.3"/>
</g>
<rect x="264.00" y="476.90" width="74.70" height="37.60" fill="none" stroke="#a9d88a" stroke-width="1.8"/>
<clipPath id="cl343476"><rect x="343.2" y="476.9" width="74.0" height="37.60000000000002"/></clipPath>
<g clip-path="url(#cl343476)">
<rect x="343.20" y="476.90" width="74.00" height="37.60" fill="#d6d6d7"/>
<g filter="url(#fblur)">
<path d="M 343.20,516.38 C 358.00,512.62 369.10,500.21 395.00,497.58 L 420.90,500.21 420.90,516.38 Z" fill="#dcdcdc"/>
<path d="M 341.72,490.44 C 361.70,484.42 383.90,482.92 402.40,486.30 C 409.80,488.18 412.02,491.19 408.32,493.44 C 387.60,493.44 372.80,495.70 363.92,501.72 C 358.00,506.98 352.08,512.62 341.72,515.25 Z" fill="#dcd9d5"/>
<path d="M 341.72,495.70 C 350.60,494.20 359.48,497.58 363.18,501.72 C 358.00,506.98 352.08,512.62 341.72,515.25 Z" fill="#cfc2b4" fill-opacity="0.6"/>
<path d="M 343.20,514.50 C 352.08,512.62 358.00,507.73 363.92,501.72 C 372.80,495.70 387.60,493.44 408.32,493.44" fill="none" stroke="#80766e" stroke-width="0.7" stroke-opacity="0.6"/>
<path d="M 341.72,490.44 C 361.70,484.42 383.90,482.92 402.40,486.30" fill="none" stroke="#8a8480" stroke-width="0.7" stroke-opacity="0.55"/>
</g>
<ellipse cx="353.10" cy="500.12" rx="0.85" ry="0.7" fill="#34346a" fill-opacity="0.60"/>
<ellipse cx="370.23" cy="498.10" rx="0.85" ry="0.7" fill="#34346a" fill-opacity="0.59"/>
<ellipse cx="360.45" cy="498.90" rx="0.85" ry="0.7" fill="#34346a" fill-opacity="0.66"/>
<ellipse cx="368.92" cy="496.93" rx="0.85" ry="0.7" fill="#34346a" fill-opacity="0.45"/>
<ellipse cx="377.15" cy="496.90" rx="0.85" ry="0.7" fill="#34346a" fill-opacity="0.61"/>
<ellipse cx="354.13" cy="499.69" rx="0.85" ry="0.7" fill="#34346a" fill-opacity="0.32"/>
<ellipse cx="372.00" cy="498.52" rx="0.85" ry="0.7" fill="#34346a" fill-opacity="0.51"/>
<ellipse cx="363.22" cy="497.69" rx="0.85" ry="0.7" fill="#34346a" fill-opacity="0.65"/>
<ellipse cx="351.81" cy="502.84" rx="0.85" ry="0.7" fill="#34346a" fill-opacity="0.62"/>
<ellipse cx="358.00" cy="501.64" rx="0.85" ry="0.7" fill="#34346a" fill-opacity="0.62"/>
<ellipse cx="380.16" cy="495.97" rx="0.85" ry="0.7" fill="#34346a" fill-opacity="0.44"/>
<ellipse cx="358.93" cy="500.33" rx="0.85" ry="0.7" fill="#34346a" fill-opacity="0.44"/>
<ellipse cx="364.07" cy="499.94" rx="0.85" ry="0.7" fill="#34346a" fill-opacity="0.61"/>
<ellipse cx="380.22" cy="496.86" rx="0.85" ry="0.7" fill="#34346a" fill-opacity="0.53"/>
<ellipse cx="372.69" cy="498.07" rx="0.85" ry="0.7" fill="#34346a" fill-opacity="0.47"/>
<ellipse cx="353.15" cy="499.98" rx="0.85" ry="0.7" fill="#34346a" fill-opacity="0.27"/>
<ellipse cx="383.46" cy="495.91" rx="0.85" ry="0.7" fill="#34346a" fill-opacity="0.25"/>
<ellipse cx="368.86" cy="498.58" rx="0.85" ry="0.7" fill="#34346a" fill-opacity="0.49"/>
<ellipse cx="366.94" cy="497.05" rx="0.85" ry="0.7" fill="#34346a" fill-opacity="0.34"/>
<ellipse cx="364.21" cy="500.19" rx="0.85" ry="0.7" fill="#34346a" fill-opacity="0.33"/>
<ellipse cx="359.51" cy="498.66" rx="0.85" ry="0.7" fill="#34346a" fill-opacity="0.41"/>
<ellipse cx="359.26" cy="498.36" rx="0.85" ry="0.7" fill="#34346a" fill-opacity="0.76"/>
<ellipse cx="365.22" cy="499.58" rx="0.85" ry="0.7" fill="#34346a" fill-opacity="0.62"/>
<ellipse cx="369.04" cy="496.88" rx="0.85" ry="0.7" fill="#34346a" fill-opacity="0.62"/>
<ellipse cx="361.76" cy="500.30" rx="0.85" ry="0.7" fill="#34346a" fill-opacity="0.34"/>
<ellipse cx="356.98" cy="499.29" rx="0.85" ry="0.7" fill="#34346a" fill-opacity="0.29"/>
<ellipse cx="366.49" cy="498.24" rx="0.85" ry="0.7" fill="#34346a" fill-opacity="0.42"/>
<ellipse cx="367.44" cy="498.98" rx="0.85" ry="0.7" fill="#34346a" fill-opacity="0.64"/>
<ellipse cx="356.07" cy="501.07" rx="0.85" ry="0.7" fill="#34346a" fill-opacity="0.77"/>
<ellipse cx="374.34" cy="498.47" rx="0.85" ry="0.7" fill="#34346a" fill-opacity="0.25"/>
<ellipse cx="353.47" cy="500.95" rx="0.85" ry="0.7" fill="#34346a" fill-opacity="0.27"/>
<ellipse cx="371.98" cy="497.66" rx="0.85" ry="0.7" fill="#34346a" fill-opacity="0.44"/>
<ellipse cx="353.12" cy="502.36" rx="0.85" ry="0.7" fill="#34346a" fill-opacity="0.52"/>
<ellipse cx="384.23" cy="493.81" rx="0.85" ry="0.7" fill="#34346a" fill-opacity="0.28"/>
<ellipse cx="364.32" cy="497.90" rx="0.85" ry="0.7" fill="#34346a" fill-opacity="0.47"/>
<ellipse cx="360.92" cy="497.85" rx="0.85" ry="0.7" fill="#34346a" fill-opacity="0.78"/>
<ellipse cx="357.26" cy="500.04" rx="0.85" ry="0.7" fill="#34346a" fill-opacity="0.54"/>
<ellipse cx="353.31" cy="499.76" rx="0.85" ry="0.7" fill="#34346a" fill-opacity="0.55"/>
<ellipse cx="384.91" cy="496.00" rx="0.85" ry="0.7" fill="#34346a" fill-opacity="0.37"/>
<ellipse cx="351.33" cy="501.54" rx="0.85" ry="0.7" fill="#34346a" fill-opacity="0.56"/>
<circle cx="380.73" cy="490.63" r="0.55" fill="#666" fill-opacity="0.3"/>
<circle cx="394.93" cy="493.94" r="0.55" fill="#666" fill-opacity="0.3"/>
<circle cx="377.92" cy="489.26" r="0.55" fill="#666" fill-opacity="0.3"/>
<circle cx="399.04" cy="490.25" r="0.55" fill="#666" fill-opacity="0.3"/>
<circle cx="370.11" cy="487.57" r="0.55" fill="#666" fill-opacity="0.3"/>
<circle cx="368.97" cy="490.21" r="0.55" fill="#666" fill-opacity="0.3"/>
<circle cx="398.75" cy="490.75" r="0.55" fill="#666" fill-opacity="0.3"/>
<circle cx="370.68" cy="486.25" r="0.55" fill="#666" fill-opacity="0.3"/>
<circle cx="375.37" cy="486.78" r="0.55" fill="#666" fill-opacity="0.3"/>
<circle cx="382.85" cy="490.58" r="0.55" fill="#666" fill-opacity="0.3"/>
<circle cx="375.39" cy="486.65" r="0.55" fill="#666" fill-opacity="0.3"/>
<circle cx="393.91" cy="488.62" r="0.55" fill="#666" fill-opacity="0.3"/>
<circle cx="373.53" cy="487.79" r="0.55" fill="#666" fill-opacity="0.3"/>
<circle cx="380.61" cy="487.45" r="0.55" fill="#666" fill-opacity="0.3"/>
<line x1="406.84" y1="508.67" x2="413.34" y2="508.67" stroke="#333" stroke-width="1.3"/>
</g>
<rect x="343.20" y="476.90" width="74.00" height="37.60" fill="none" stroke="#cdd3da" stroke-width="1.2"/>
<clipPath id="cl421476"><rect x="421.0" y="476.9" width="75.5" height="37.60000000000002"/></clipPath>
<g clip-path="url(#cl421476)">
<rect x="421.00" y="476.90" width="75.50" height="37.60" fill="#d6d6d7"/>
<g filter="url(#fblur)">
<path d="M 421.00,516.38 C 436.10,512.62 447.43,500.21 473.85,497.58 L 500.27,500.21 500.27,516.38 Z" fill="#dcdcdc"/>
<path d="M 419.49,490.44 C 439.88,484.42 462.52,482.92 481.40,486.30 C 488.95,488.18 491.22,491.19 487.44,493.44 C 466.30,493.44 451.20,495.70 442.14,501.72 C 436.10,506.98 430.06,512.62 419.49,515.25 Z" fill="#dcd9d5"/>
<path d="M 419.49,495.70 C 428.55,494.20 437.61,497.58 441.38,501.72 C 436.10,506.98 430.06,512.62 419.49,515.25 Z" fill="#cfc2b4" fill-opacity="0.6"/>
<path d="M 421.00,514.50 C 430.06,512.62 436.10,507.73 442.14,501.72 C 451.20,495.70 466.30,493.44 487.44,493.44" fill="none" stroke="#80766e" stroke-width="0.7" stroke-opacity="0.6"/>
<path d="M 419.49,490.44 C 439.88,484.42 462.52,482.92 481.40,486.30" fill="none" stroke="#8a8480" stroke-width="0.7" stroke-opacity="0.55"/>
</g>
<ellipse cx="444.01" cy="498.66" rx="0.85" ry="0.7" fill="#34346a" fill-opacity="0.56"/>
<ellipse cx="462.73" cy="495.10" rx="0.85" ry="0.7" fill="#34346a" fill-opacity="0.57"/>
<ellipse cx="445.96" cy="498.16" rx="0.85" ry="0.7" fill="#34346a" fill-opacity="0.78"/>
<ellipse cx="456.49" cy="494.70" rx="0.85" ry="0.7" fill="#34346a" fill-opacity="0.70"/>
<ellipse cx="442.15" cy="496.62" rx="0.85" ry="0.7" fill="#34346a" fill-opacity="0.34"/>
<ellipse cx="438.86" cy="498.26" rx="0.85" ry="0.7" fill="#34346a" fill-opacity="0.28"/>
<ellipse cx="457.51" cy="493.62" rx="0.85" ry="0.7" fill="#34346a" fill-opacity="0.28"/>
<ellipse cx="433.14" cy="501.20" rx="0.85" ry="0.7" fill="#34346a" fill-opacity="0.77"/>
<ellipse cx="451.04" cy="496.12" rx="0.85" ry="0.7" fill="#34346a" fill-opacity="0.45"/>
<ellipse cx="439.92" cy="498.77" rx="0.85" ry="0.7" fill="#34346a" fill-opacity="0.70"/>
<ellipse cx="455.07" cy="495.60" rx="0.85" ry="0.7" fill="#34346a" fill-opacity="0.34"/>
<ellipse cx="455.21" cy="497.11" rx="0.85" ry="0.7" fill="#34346a" fill-opacity="0.69"/>
<ellipse cx="432.60" cy="501.48" rx="0.85" ry="0.7" fill="#34346a" fill-opacity="0.50"/>
<ellipse cx="444.81" cy="498.60" rx="0.85" ry="0.7" fill="#34346a" fill-opacity="0.76"/>
<ellipse cx="449.72" cy="497.28" rx="0.85" ry="0.7" fill="#34346a" fill-opacity="0.31"/>
<ellipse cx="459.11" cy="493.33" rx="0.85" ry="0.7" fill="#34346a" fill-opacity="0.79"/>
<ellipse cx="429.97" cy="500.66" rx="0.85" ry="0.7" fill="#34346a" fill-opacity="0.73"/>
<ellipse cx="442.73" cy="497.26" rx="0.85" ry="0.7" fill="#34346a" fill-opacity="0.36"/>
<ellipse cx="449.46" cy="497.58" rx="0.85" ry="0.7" fill="#34346a" fill-opacity="0.38"/>
<ellipse cx="441.26" cy="499.95" rx="0.85" ry="0.7" fill="#34346a" fill-opacity="0.71"/>
<ellipse cx="460.90" cy="494.24" rx="0.85" ry="0.7" fill="#34346a" fill-opacity="0.33"/>
<ellipse cx="459.92" cy="493.15" rx="0.85" ry="0.7" fill="#34346a" fill-opacity="0.34"/>
<ellipse cx="432.77" cy="501.58" rx="0.85" ry="0.7" fill="#34346a" fill-opacity="0.36"/>
<ellipse cx="458.24" cy="495.59" rx="0.85" ry="0.7" fill="#34346a" fill-opacity="0.72"/>
<ellipse cx="452.75" cy="495.86" rx="0.85" ry="0.7" fill="#34346a" fill-opacity="0.26"/>
<ellipse cx="448.06" cy="496.05" rx="0.85" ry="0.7" fill="#34346a" fill-opacity="0.46"/>
<ellipse cx="439.45" cy="497.94" rx="0.85" ry="0.7" fill="#34346a" fill-opacity="0.46"/>
<ellipse cx="446.98" cy="497.04" rx="0.85" ry="0.7" fill="#34346a" fill-opacity="0.79"/>
<ellipse cx="460.30" cy="495.48" rx="0.85" ry="0.7" fill="#34346a" fill-opacity="0.62"/>
<ellipse cx="449.49" cy="496.46" rx="0.85" ry="0.7" fill="#34346a" fill-opacity="0.58"/>
<ellipse cx="454.25" cy="495.12" rx="0.85" ry="0.7" fill="#34346a" fill-opacity="0.29"/>
<ellipse cx="431.52" cy="500.58" rx="0.85" ry="0.7" fill="#34346a" fill-opacity="0.67"/>
<ellipse cx="455.08" cy="497.04" rx="0.85" ry="0.7" fill="#34346a" fill-opacity="0.40"/>
<ellipse cx="454.61" cy="496.44" rx="0.85" ry="0.7" fill="#34346a" fill-opacity="0.62"/>
<ellipse cx="465.57" cy="494.40" rx="0.85" ry="0.7" fill="#34346a" fill-opacity="0.71"/>
<ellipse cx="456.68" cy="494.42" rx="0.85" ry="0.7" fill="#34346a" fill-opacity="0.53"/>
<ellipse cx="461.79" cy="495.83" rx="0.85" ry="0.7" fill="#34346a" fill-opacity="0.55"/>
<ellipse cx="442.28" cy="497.63" rx="0.85" ry="0.7" fill="#34346a" fill-opacity="0.35"/>
<ellipse cx="454.11" cy="497.44" rx="0.85" ry="0.7" fill="#34346a" fill-opacity="0.59"/>
<ellipse cx="442.26" cy="498.70" rx="0.85" ry="0.7" fill="#34346a" fill-opacity="0.55"/>
<circle cx="473.35" cy="490.65" r="0.55" fill="#666" fill-opacity="0.3"/>
<circle cx="480.47" cy="490.45" r="0.55" fill="#666" fill-opacity="0.3"/>
<circle cx="456.34" cy="488.16" r="0.55" fill="#666" fill-opacity="0.3"/>
<circle cx="469.49" cy="493.38" r="0.55" fill="#666" fill-opacity="0.3"/>
<circle cx="450.60" cy="489.73" r="0.55" fill="#666" fill-opacity="0.3"/>
<circle cx="475.48" cy="489.98" r="0.55" fill="#666" fill-opacity="0.3"/>
<circle cx="446.25" cy="488.86" r="0.55" fill="#666" fill-opacity="0.3"/>
<circle cx="478.13" cy="494.20" r="0.55" fill="#666" fill-opacity="0.3"/>
<circle cx="473.88" cy="490.96" r="0.55" fill="#666" fill-opacity="0.3"/>
<circle cx="461.31" cy="490.27" r="0.55" fill="#666" fill-opacity="0.3"/>
<circle cx="481.22" cy="491.07" r="0.55" fill="#666" fill-opacity="0.3"/>
<circle cx="455.31" cy="490.08" r="0.55" fill="#666" fill-opacity="0.3"/>
<circle cx="483.79" cy="490.66" r="0.55" fill="#666" fill-opacity="0.3"/>
<circle cx="444.92" cy="486.00" r="0.55" fill="#666" fill-opacity="0.3"/>
<line x1="485.93" y1="508.67" x2="492.43" y2="508.67" stroke="#333" stroke-width="1.3"/>
</g>
<rect x="421.00" y="476.90" width="75.50" height="37.60" fill="none" stroke="#7b7bad" stroke-width="1.8"/>
<clipPath id="cl184519"><rect x="184.9" y="519.9" width="74.99999999999997" height="37.60000000000002"/></clipPath>
<g clip-path="url(#cl184519)">
<rect x="184.90" y="519.90" width="75.00" height="37.60" fill="#d6d6d7"/>
<g filter="url(#fblur)">
<path d="M 184.90,559.38 C 199.90,555.62 211.15,543.21 237.40,540.58 L 263.65,543.21 263.65,559.38 Z" fill="#dcdcdc"/>
<path d="M 183.40,533.44 C 203.65,527.42 226.15,525.92 244.90,529.30 C 252.40,531.18 254.65,534.19 250.90,536.44 C 229.90,536.44 214.90,538.70 205.90,544.72 C 199.90,549.98 193.90,555.62 183.40,558.25 Z" fill="#dcd9d5"/>
<path d="M 183.40,538.70 C 192.40,537.20 201.40,540.58 205.15,544.72 C 199.90,549.98 193.90,555.62 183.40,558.25 Z" fill="#a08a74" fill-opacity="0.7"/>
<path d="M 184.90,557.50 C 193.90,555.62 199.90,550.73 205.90,544.72 C 214.90,538.70 229.90,536.44 250.90,536.44" fill="none" stroke="#80766e" stroke-width="0.7" stroke-opacity="0.6"/>
<path d="M 183.40,533.44 C 203.65,527.42 226.15,525.92 244.90,529.30" fill="none" stroke="#8a8480" stroke-width="0.7" stroke-opacity="0.55"/>
</g>
<ellipse cx="216.92" cy="539.60" rx="0.85" ry="0.7" fill="#34346a" fill-opacity="0.35"/>
<ellipse cx="217.54" cy="541.17" rx="0.85" ry="0.7" fill="#34346a" fill-opacity="0.65"/>
<ellipse cx="208.38" cy="544.07" rx="0.85" ry="0.7" fill="#34346a" fill-opacity="0.78"/>
<ellipse cx="213.44" cy="542.27" rx="0.85" ry="0.7" fill="#34346a" fill-opacity="0.76"/>
<ellipse cx="211.62" cy="543.33" rx="0.85" ry="0.7" fill="#34346a" fill-opacity="0.51"/>
<ellipse cx="208.37" cy="541.60" rx="0.85" ry="0.7" fill="#34346a" fill-opacity="0.30"/>
<ellipse cx="210.17" cy="541.19" rx="0.85" ry="0.7" fill="#34346a" fill-opacity="0.67"/>
<ellipse cx="220.26" cy="540.92" rx="0.85" ry="0.7" fill="#34346a" fill-opacity="0.64"/>
<ellipse cx="223.68" cy="539.47" rx="0.85" ry="0.7" fill="#34346a" fill-opacity="0.78"/>
<ellipse cx="208.21" cy="541.27" rx="0.85" ry="0.7" fill="#34346a" fill-opacity="0.36"/>
<ellipse cx="213.49" cy="542.13" rx="0.85" ry="0.7" fill="#34346a" fill-opacity="0.66"/>
<ellipse cx="208.56" cy="542.98" rx="0.85" ry="0.7" fill="#34346a" fill-opacity="0.46"/>
<ellipse cx="209.56" cy="542.26" rx="0.85" ry="0.7" fill="#34346a" fill-opacity="0.63"/>
<ellipse cx="216.62" cy="542.48" rx="0.85" ry="0.7" fill="#34346a" fill-opacity="0.29"/>
<ellipse cx="220.43" cy="539.09" rx="0.85" ry="0.7" fill="#34346a" fill-opacity="0.31"/>
<ellipse cx="214.98" cy="541.85" rx="0.85" ry="0.7" fill="#34346a" fill-opacity="0.76"/>
<ellipse cx="213.23" cy="541.48" rx="0.85" ry="0.7" fill="#34346a" fill-opacity="0.63"/>
<ellipse cx="220.59" cy="538.96" rx="0.85" ry="0.7" fill="#34346a" fill-opacity="0.44"/>
<ellipse cx="221.44" cy="537.86" rx="0.85" ry="0.7" fill="#34346a" fill-opacity="0.48"/>
<ellipse cx="211.70" cy="540.70" rx="0.85" ry="0.7" fill="#34346a" fill-opacity="0.40"/>
<ellipse cx="208.93" cy="544.42" rx="0.85" ry="0.7" fill="#34346a" fill-opacity="0.55"/>
<ellipse cx="214.75" cy="540.09" rx="0.85" ry="0.7" fill="#34346a" fill-opacity="0.45"/>
<ellipse cx="219.66" cy="540.45" rx="0.85" ry="0.7" fill="#34346a" fill-opacity="0.45"/>
<ellipse cx="207.11" cy="543.00" rx="0.85" ry="0.7" fill="#34346a" fill-opacity="0.46"/>
<ellipse cx="214.92" cy="539.93" rx="0.85" ry="0.7" fill="#34346a" fill-opacity="0.79"/>
<ellipse cx="214.64" cy="539.81" rx="0.85" ry="0.7" fill="#34346a" fill-opacity="0.40"/>
<ellipse cx="223.57" cy="538.93" rx="0.85" ry="0.7" fill="#34346a" fill-opacity="0.28"/>
<ellipse cx="214.51" cy="541.22" rx="0.85" ry="0.7" fill="#34346a" fill-opacity="0.58"/>
<ellipse cx="222.62" cy="539.60" rx="0.85" ry="0.7" fill="#34346a" fill-opacity="0.27"/>
<ellipse cx="208.40" cy="542.81" rx="0.85" ry="0.7" fill="#34346a" fill-opacity="0.73"/>
<ellipse cx="221.96" cy="539.08" rx="0.85" ry="0.7" fill="#34346a" fill-opacity="0.80"/>
<ellipse cx="220.76" cy="538.61" rx="0.85" ry="0.7" fill="#34346a" fill-opacity="0.68"/>
<ellipse cx="215.43" cy="542.98" rx="0.85" ry="0.7" fill="#34346a" fill-opacity="0.37"/>
<ellipse cx="213.84" cy="541.21" rx="0.85" ry="0.7" fill="#34346a" fill-opacity="0.41"/>
<ellipse cx="217.55" cy="539.09" rx="0.85" ry="0.7" fill="#34346a" fill-opacity="0.50"/>
<ellipse cx="208.35" cy="544.22" rx="0.85" ry="0.7" fill="#34346a" fill-opacity="0.74"/>
<ellipse cx="209.56" cy="543.44" rx="0.85" ry="0.7" fill="#34346a" fill-opacity="0.78"/>
<ellipse cx="216.46" cy="539.62" rx="0.85" ry="0.7" fill="#34346a" fill-opacity="0.76"/>
<ellipse cx="221.81" cy="537.92" rx="0.85" ry="0.7" fill="#34346a" fill-opacity="0.49"/>
<ellipse cx="212.37" cy="541.58" rx="0.85" ry="0.7" fill="#34346a" fill-opacity="0.68"/>
<circle cx="213.67" cy="531.98" r="0.55" fill="#666" fill-opacity="0.3"/>
<circle cx="247.62" cy="536.79" r="0.55" fill="#666" fill-opacity="0.3"/>
<circle cx="211.12" cy="529.25" r="0.55" fill="#666" fill-opacity="0.3"/>
<circle cx="233.94" cy="533.33" r="0.55" fill="#666" fill-opacity="0.3"/>
<circle cx="222.61" cy="532.71" r="0.55" fill="#666" fill-opacity="0.3"/>
<circle cx="231.40" cy="536.61" r="0.55" fill="#666" fill-opacity="0.3"/>
<circle cx="217.34" cy="532.68" r="0.55" fill="#666" fill-opacity="0.3"/>
<circle cx="218.25" cy="532.64" r="0.55" fill="#666" fill-opacity="0.3"/>
<circle cx="237.57" cy="532.28" r="0.55" fill="#666" fill-opacity="0.3"/>
<circle cx="227.25" cy="534.59" r="0.55" fill="#666" fill-opacity="0.3"/>
<circle cx="207.74" cy="532.85" r="0.55" fill="#666" fill-opacity="0.3"/>
<circle cx="224.68" cy="533.09" r="0.55" fill="#666" fill-opacity="0.3"/>
<circle cx="232.58" cy="535.70" r="0.55" fill="#666" fill-opacity="0.3"/>
<circle cx="209.71" cy="531.44" r="0.55" fill="#666" fill-opacity="0.3"/>
<line x1="249.40" y1="551.67" x2="255.90" y2="551.67" stroke="#333" stroke-width="1.3"/>
</g>
<rect x="184.90" y="519.90" width="75.00" height="37.60" fill="none" stroke="#3d4f7e" stroke-width="1.8"/>
<clipPath id="cl264519"><rect x="264.0" y="519.9" width="74.69999999999999" height="37.60000000000002"/></clipPath>
<g clip-path="url(#cl264519)">
<rect x="264.00" y="519.90" width="74.70" height="37.60" fill="#d6d6d7"/>
<g filter="url(#fblur)">
<path d="M 264.00,559.38 C 278.94,555.62 290.14,543.21 316.29,540.58 L 342.44,543.21 342.44,559.38 Z" fill="#dcdcdc"/>
<path d="M 262.51,533.44 C 282.68,527.42 305.08,525.92 323.76,529.30 C 331.23,531.18 333.47,534.19 329.74,536.44 C 308.82,536.44 293.88,538.70 284.92,544.72 C 278.94,549.98 272.96,555.62 262.51,558.25 Z" fill="#dcd9d5"/>
<path d="M 262.51,538.70 C 271.47,537.20 280.43,540.58 284.17,544.72 C 278.94,549.98 272.96,555.62 262.51,558.25 Z" fill="#c8beb6" fill-opacity="0.6"/>
<path d="M 264.00,557.50 C 272.96,555.62 278.94,550.73 284.92,544.72 C 293.88,538.70 308.82,536.44 329.74,536.44" fill="none" stroke="#80766e" stroke-width="0.7" stroke-opacity="0.6"/>
<path d="M 262.51,533.44 C 282.68,527.42 305.08,525.92 323.76,529.30" fill="none" stroke="#8a8480" stroke-width="0.7" stroke-opacity="0.55"/>
</g>
<ellipse cx="279.60" cy="541.74" rx="0.85" ry="0.7" fill="#34346a" fill-opacity="0.26"/>
<ellipse cx="285.95" cy="541.42" rx="0.85" ry="0.7" fill="#34346a" fill-opacity="0.76"/>
<ellipse cx="287.86" cy="541.23" rx="0.85" ry="0.7" fill="#34346a" fill-opacity="0.77"/>
<ellipse cx="302.73" cy="536.79" rx="0.85" ry="0.7" fill="#34346a" fill-opacity="0.34"/>
<ellipse cx="300.27" cy="537.38" rx="0.85" ry="0.7" fill="#34346a" fill-opacity="0.65"/>
<ellipse cx="291.33" cy="541.11" rx="0.85" ry="0.7" fill="#34346a" fill-opacity="0.41"/>
<ellipse cx="292.87" cy="538.33" rx="0.85" ry="0.7" fill="#34346a" fill-opacity="0.44"/>
<ellipse cx="290.90" cy="538.87" rx="0.85" ry="0.7" fill="#34346a" fill-opacity="0.50"/>
<ellipse cx="279.45" cy="541.61" rx="0.85" ry="0.7" fill="#34346a" fill-opacity="0.33"/>
<ellipse cx="301.54" cy="536.61" rx="0.85" ry="0.7" fill="#34346a" fill-opacity="0.68"/>
<ellipse cx="296.12" cy="539.67" rx="0.85" ry="0.7" fill="#34346a" fill-opacity="0.59"/>
<ellipse cx="288.52" cy="539.55" rx="0.85" ry="0.7" fill="#34346a" fill-opacity="0.39"/>
<ellipse cx="299.75" cy="539.19" rx="0.85" ry="0.7" fill="#34346a" fill-opacity="0.35"/>
<ellipse cx="281.22" cy="542.55" rx="0.85" ry="0.7" fill="#34346a" fill-opacity="0.56"/>
<ellipse cx="278.15" cy="543.51" rx="0.85" ry="0.7" fill="#34346a" fill-opacity="0.52"/>
<ellipse cx="298.74" cy="538.17" rx="0.85" ry="0.7" fill="#34346a" fill-opacity="0.31"/>
<ellipse cx="296.43" cy="539.04" rx="0.85" ry="0.7" fill="#34346a" fill-opacity="0.37"/>
<ellipse cx="300.75" cy="535.99" rx="0.85" ry="0.7" fill="#34346a" fill-opacity="0.63"/>
<ellipse cx="280.19" cy="541.84" rx="0.85" ry="0.7" fill="#34346a" fill-opacity="0.61"/>
<ellipse cx="300.76" cy="536.31" rx="0.85" ry="0.7" fill="#34346a" fill-opacity="0.60"/>
<ellipse cx="298.26" cy="538.88" rx="0.85" ry="0.7" fill="#34346a" fill-opacity="0.39"/>
<ellipse cx="284.96" cy="541.76" rx="0.85" ry="0.7" fill="#34346a" fill-opacity="0.53"/>
<ellipse cx="300.42" cy="536.55" rx="0.85" ry="0.7" fill="#34346a" fill-opacity="0.37"/>
<ellipse cx="286.24" cy="540.08" rx="0.85" ry="0.7" fill="#34346a" fill-opacity="0.30"/>
<ellipse cx="286.43" cy="540.35" rx="0.85" ry="0.7" fill="#34346a" fill-opacity="0.59"/>
<ellipse cx="293.76" cy="537.81" rx="0.85" ry="0.7" fill="#34346a" fill-opacity="0.52"/>
<ellipse cx="295.25" cy="539.09" rx="0.85" ry="0.7" fill="#34346a" fill-opacity="0.75"/>
<ellipse cx="281.89" cy="541.68" rx="0.85" ry="0.7" fill="#34346a" fill-opacity="0.54"/>
<ellipse cx="300.58" cy="538.27" rx="0.85" ry="0.7" fill="#34346a" fill-opacity="0.48"/>
<ellipse cx="298.44" cy="537.63" rx="0.85" ry="0.7" fill="#34346a" fill-opacity="0.31"/>
<ellipse cx="284.82" cy="542.41" rx="0.85" ry="0.7" fill="#34346a" fill-opacity="0.40"/>
<ellipse cx="294.30" cy="540.69" rx="0.85" ry="0.7" fill="#34346a" fill-opacity="0.31"/>
<ellipse cx="296.98" cy="537.06" rx="0.85" ry="0.7" fill="#34346a" fill-opacity="0.60"/>
<ellipse cx="299.31" cy="536.49" rx="0.85" ry="0.7" fill="#34346a" fill-opacity="0.78"/>
<ellipse cx="288.43" cy="541.20" rx="0.85" ry="0.7" fill="#34346a" fill-opacity="0.39"/>
<ellipse cx="288.32" cy="538.94" rx="0.85" ry="0.7" fill="#34346a" fill-opacity="0.29"/>
<ellipse cx="295.88" cy="539.94" rx="0.85" ry="0.7" fill="#34346a" fill-opacity="0.28"/>
<ellipse cx="285.43" cy="542.37" rx="0.85" ry="0.7" fill="#34346a" fill-opacity="0.68"/>
<ellipse cx="300.38" cy="536.40" rx="0.85" ry="0.7" fill="#34346a" fill-opacity="0.48"/>
<ellipse cx="283.29" cy="541.49" rx="0.85" ry="0.7" fill="#34346a" fill-opacity="0.41"/>
<circle cx="290.84" cy="531.74" r="0.55" fill="#666" fill-opacity="0.3"/>
<circle cx="324.75" cy="538.07" r="0.55" fill="#666" fill-opacity="0.3"/>
<circle cx="305.56" cy="530.89" r="0.55" fill="#666" fill-opacity="0.3"/>
<circle cx="317.99" cy="532.33" r="0.55" fill="#666" fill-opacity="0.3"/>
<circle cx="308.49" cy="531.10" r="0.55" fill="#666" fill-opacity="0.3"/>
<circle cx="326.97" cy="535.89" r="0.55" fill="#666" fill-opacity="0.3"/>
<circle cx="304.38" cy="531.78" r="0.55" fill="#666" fill-opacity="0.3"/>
<circle cx="309.05" cy="536.51" r="0.55" fill="#666" fill-opacity="0.3"/>
<circle cx="303.99" cy="531.36" r="0.55" fill="#666" fill-opacity="0.3"/>
<circle cx="307.55" cy="536.02" r="0.55" fill="#666" fill-opacity="0.3"/>
<circle cx="302.09" cy="533.71" r="0.55" fill="#666" fill-opacity="0.3"/>
<circle cx="324.16" cy="534.28" r="0.55" fill="#666" fill-opacity="0.3"/>
<circle cx="319.73" cy="535.01" r="0.55" fill="#666" fill-opacity="0.3"/>
<circle cx="292.14" cy="529.12" r="0.55" fill="#666" fill-opacity="0.3"/>
<line x1="328.24" y1="551.67" x2="334.74" y2="551.67" stroke="#333" stroke-width="1.3"/>
</g>
<rect x="264.00" y="519.90" width="74.70" height="37.60" fill="none" stroke="#3c9dd9" stroke-width="1.8"/>
<clipPath id="cl343519"><rect x="343.2" y="519.9" width="74.0" height="37.60000000000002"/></clipPath>
<g clip-path="url(#cl343519)">
<rect x="343.20" y="519.90" width="74.00" height="37.60" fill="#d6d6d7"/>
<g filter="url(#fblur)">
<path d="M 343.20,559.38 C 358.00,555.62 369.10,543.21 395.00,540.58 L 420.90,543.21 420.90,559.38 Z" fill="#dcdcdc"/>
<path d="M 341.72,533.44 C 361.70,527.42 383.90,525.92 402.40,529.30 C 409.80,531.18 412.02,534.19 408.32,536.44 C 387.60,536.44 372.80,538.70 363.92,544.72 C 358.00,549.98 352.08,555.62 341.72,558.25 Z" fill="#dcd9d5"/>
<path d="M 341.72,538.70 C 350.60,537.20 359.48,540.58 363.18,544.72 C 358.00,549.98 352.08,555.62 341.72,558.25 Z" fill="#c8beb6" fill-opacity="0.6"/>
<path d="M 343.20,557.50 C 352.08,555.62 358.00,550.73 363.92,544.72 C 372.80,538.70 387.60,536.44 408.32,536.44" fill="none" stroke="#80766e" stroke-width="0.7" stroke-opacity="0.6"/>
<path d="M 341.72,533.44 C 361.70,527.42 383.90,525.92 402.40,529.30" fill="none" stroke="#8a8480" stroke-width="0.7" stroke-opacity="0.55"/>
</g>
<ellipse cx="379.00" cy="537.68" rx="0.85" ry="0.7" fill="#34346a" fill-opacity="0.75"/>
<ellipse cx="372.32" cy="538.92" rx="0.85" ry="0.7" fill="#34346a" fill-opacity="0.66"/>
<ellipse cx="366.37" cy="542.08" rx="0.85" ry="0.7" fill="#34346a" fill-opacity="0.58"/>
<ellipse cx="363.52" cy="542.46" rx="0.85" ry="0.7" fill="#34346a" fill-opacity="0.65"/>
<ellipse cx="364.70" cy="540.72" rx="0.85" ry="0.7" fill="#34346a" fill-opacity="0.34"/>
<ellipse cx="363.24" cy="542.43" rx="0.85" ry="0.7" fill="#34346a" fill-opacity="0.72"/>
<ellipse cx="365.16" cy="540.33" rx="0.85" ry="0.7" fill="#34346a" fill-opacity="0.57"/>
<ellipse cx="366.04" cy="539.71" rx="0.85" ry="0.7" fill="#34346a" fill-opacity="0.65"/>
<ellipse cx="364.55" cy="541.31" rx="0.85" ry="0.7" fill="#34346a" fill-opacity="0.58"/>
<ellipse cx="373.50" cy="540.60" rx="0.85" ry="0.7" fill="#34346a" fill-opacity="0.76"/>
<ellipse cx="366.55" cy="542.36" rx="0.85" ry="0.7" fill="#34346a" fill-opacity="0.32"/>
<ellipse cx="369.28" cy="542.02" rx="0.85" ry="0.7" fill="#34346a" fill-opacity="0.32"/>
<ellipse cx="374.39" cy="540.03" rx="0.85" ry="0.7" fill="#34346a" fill-opacity="0.25"/>
<ellipse cx="378.74" cy="539.04" rx="0.85" ry="0.7" fill="#34346a" fill-opacity="0.61"/>
<ellipse cx="370.23" cy="541.00" rx="0.85" ry="0.7" fill="#34346a" fill-opacity="0.44"/>
<ellipse cx="375.25" cy="539.60" rx="0.85" ry="0.7" fill="#34346a" fill-opacity="0.59"/>
<ellipse cx="375.67" cy="538.55" rx="0.85" ry="0.7" fill="#34346a" fill-opacity="0.25"/>
<ellipse cx="376.93" cy="539.74" rx="0.85" ry="0.7" fill="#34346a" fill-opacity="0.27"/>
<ellipse cx="371.55" cy="538.56" rx="0.85" ry="0.7" fill="#34346a" fill-opacity="0.36"/>
<ellipse cx="380.51" cy="536.81" rx="0.85" ry="0.7" fill="#34346a" fill-opacity="0.71"/>
<ellipse cx="373.49" cy="539.77" rx="0.85" ry="0.7" fill="#34346a" fill-opacity="0.38"/>
<ellipse cx="365.68" cy="541.65" rx="0.85" ry="0.7" fill="#34346a" fill-opacity="0.57"/>
<ellipse cx="375.46" cy="538.61" rx="0.85" ry="0.7" fill="#34346a" fill-opacity="0.42"/>
<ellipse cx="375.02" cy="539.19" rx="0.85" ry="0.7" fill="#34346a" fill-opacity="0.67"/>
<ellipse cx="370.34" cy="538.80" rx="0.85" ry="0.7" fill="#34346a" fill-opacity="0.39"/>
<ellipse cx="376.47" cy="536.85" rx="0.85" ry="0.7" fill="#34346a" fill-opacity="0.26"/>
<ellipse cx="375.00" cy="538.57" rx="0.85" ry="0.7" fill="#34346a" fill-opacity="0.49"/>
<ellipse cx="376.50" cy="538.61" rx="0.85" ry="0.7" fill="#34346a" fill-opacity="0.26"/>
<ellipse cx="377.01" cy="538.99" rx="0.85" ry="0.7" fill="#34346a" fill-opacity="0.71"/>
<ellipse cx="373.54" cy="540.65" rx="0.85" ry="0.7" fill="#34346a" fill-opacity="0.59"/>
<ellipse cx="362.93" cy="544.02" rx="0.85" ry="0.7" fill="#34346a" fill-opacity="0.36"/>
<ellipse cx="362.57" cy="540.78" rx="0.85" ry="0.7" fill="#34346a" fill-opacity="0.45"/>
<ellipse cx="362.73" cy="540.34" rx="0.85" ry="0.7" fill="#34346a" fill-opacity="0.49"/>
<ellipse cx="367.76" cy="540.62" rx="0.85" ry="0.7" fill="#34346a" fill-opacity="0.34"/>
<ellipse cx="380.21" cy="538.44" rx="0.85" ry="0.7" fill="#34346a" fill-opacity="0.37"/>
<ellipse cx="369.04" cy="540.18" rx="0.85" ry="0.7" fill="#34346a" fill-opacity="0.26"/>
<ellipse cx="370.72" cy="540.89" rx="0.85" ry="0.7" fill="#34346a" fill-opacity="0.72"/>
<ellipse cx="374.92" cy="540.38" rx="0.85" ry="0.7" fill="#34346a" fill-opacity="0.75"/>
<ellipse cx="376.19" cy="539.12" rx="0.85" ry="0.7" fill="#34346a" fill-opacity="0.61"/>
<ellipse cx="378.50" cy="537.95" rx="0.85" ry="0.7" fill="#34346a" fill-opacity="0.35"/>
<circle cx="378.73" cy="531.16" r="0.55" fill="#666" fill-opacity="0.3"/>
<circle cx="393.15" cy="535.88" r="0.55" fill="#666" fill-opacity="0.3"/>
<circle cx="373.22" cy="532.25" r="0.55" fill="#666" fill-opacity="0.3"/>
<circle cx="399.60" cy="534.16" r="0.55" fill="#666" fill-opacity="0.3"/>
<circle cx="369.25" cy="532.24" r="0.55" fill="#666" fill-opacity="0.3"/>
<circle cx="380.15" cy="530.67" r="0.55" fill="#666" fill-opacity="0.3"/>
<circle cx="377.12" cy="529.51" r="0.55" fill="#666" fill-opacity="0.3"/>
<circle cx="371.46" cy="531.40" r="0.55" fill="#666" fill-opacity="0.3"/>
<circle cx="369.67" cy="528.68" r="0.55" fill="#666" fill-opacity="0.3"/>
<circle cx="387.78" cy="536.42" r="0.55" fill="#666" fill-opacity="0.3"/>
<circle cx="399.34" cy="533.90" r="0.55" fill="#666" fill-opacity="0.3"/>
<circle cx="403.03" cy="532.82" r="0.55" fill="#666" fill-opacity="0.3"/>
<circle cx="371.52" cy="528.89" r="0.55" fill="#666" fill-opacity="0.3"/>
<circle cx="367.78" cy="532.06" r="0.55" fill="#666" fill-opacity="0.3"/>
<line x1="406.84" y1="551.67" x2="413.34" y2="551.67" stroke="#333" stroke-width="1.3"/>
</g>
<rect x="343.20" y="519.90" width="74.00" height="37.60" fill="none" stroke="#eba2c3" stroke-width="1.8"/>
<clipPath id="cl421519"><rect x="421.0" y="519.9" width="75.5" height="37.60000000000002"/></clipPath>
<g clip-path="url(#cl421519)">
<rect x="421.00" y="519.90" width="75.50" height="37.60" fill="#d6d6d7"/>
<g filter="url(#fblur)">
<path d="M 421.00,559.38 C 436.10,555.62 447.43,543.21 473.85,540.58 L 500.27,543.21 500.27,559.38 Z" fill="#dcdcdc"/>
<path d="M 419.49,533.44 C 439.88,527.42 462.52,525.92 481.40,529.30 C 488.95,531.18 491.22,534.19 487.44,536.44 C 466.30,536.44 451.20,538.70 442.14,544.72 C 436.10,549.98 430.06,555.62 419.49,558.25 Z" fill="#dcd9d5"/>
<path d="M 419.49,538.70 C 428.55,537.20 437.61,540.58 441.38,544.72 C 436.10,549.98 430.06,555.62 419.49,558.25 Z" fill="#c8b8ac" fill-opacity="0.6"/>
<path d="M 421.00,557.50 C 430.06,555.62 436.10,550.73 442.14,544.72 C 451.20,538.70 466.30,536.44 487.44,536.44" fill="none" stroke="#80766e" stroke-width="0.7" stroke-opacity="0.6"/>
<path d="M 419.49,533.44 C 439.88,527.42 462.52,525.92 481.40,529.30" fill="none" stroke="#8a8480" stroke-width="0.7" stroke-opacity="0.55"/>
</g>
<ellipse cx="456.97" cy="539.79" rx="0.85" ry="0.7" fill="#34346a" fill-opacity="0.50"/>
<ellipse cx="460.93" cy="538.09" rx="0.85" ry="0.7" fill="#34346a" fill-opacity="0.34"/>
<ellipse cx="449.40" cy="541.47" rx="0.85" ry="0.7" fill="#34346a" fill-opacity="0.38"/>
<ellipse cx="447.27" cy="539.57" rx="0.85" ry="0.7" fill="#34346a" fill-opacity="0.55"/>
<ellipse cx="445.22" cy="541.71" rx="0.85" ry="0.7" fill="#34346a" fill-opacity="0.30"/>
<ellipse cx="456.21" cy="538.28" rx="0.85" ry="0.7" fill="#34346a" fill-opacity="0.72"/>
<ellipse cx="457.08" cy="539.25" rx="0.85" ry="0.7" fill="#34346a" fill-opacity="0.32"/>
<ellipse cx="450.68" cy="540.40" rx="0.85" ry="0.7" fill="#34346a" fill-opacity="0.75"/>
<ellipse cx="453.25" cy="539.39" rx="0.85" ry="0.7" fill="#34346a" fill-opacity="0.51"/>
<ellipse cx="449.12" cy="539.54" rx="0.85" ry="0.7" fill="#34346a" fill-opacity="0.50"/>
<ellipse cx="441.88" cy="541.24" rx="0.85" ry="0.7" fill="#34346a" fill-opacity="0.41"/>
<ellipse cx="441.49" cy="543.47" rx="0.85" ry="0.7" fill="#34346a" fill-opacity="0.41"/>
<ellipse cx="441.70" cy="543.50" rx="0.85" ry="0.7" fill="#34346a" fill-opacity="0.30"/>
<ellipse cx="446.97" cy="541.40" rx="0.85" ry="0.7" fill="#34346a" fill-opacity="0.50"/>
<ellipse cx="442.92" cy="541.40" rx="0.85" ry="0.7" fill="#34346a" fill-opacity="0.63"/>
<ellipse cx="450.97" cy="538.75" rx="0.85" ry="0.7" fill="#34346a" fill-opacity="0.38"/>
<ellipse cx="445.81" cy="542.15" rx="0.85" ry="0.7" fill="#34346a" fill-opacity="0.53"/>
<ellipse cx="447.74" cy="541.94" rx="0.85" ry="0.7" fill="#34346a" fill-opacity="0.56"/>
<ellipse cx="450.46" cy="540.64" rx="0.85" ry="0.7" fill="#34346a" fill-opacity="0.47"/>
<ellipse cx="448.70" cy="540.17" rx="0.85" ry="0.7" fill="#34346a" fill-opacity="0.73"/>
<ellipse cx="446.50" cy="541.31" rx="0.85" ry="0.7" fill="#34346a" fill-opacity="0.57"/>
<ellipse cx="443.72" cy="542.39" rx="0.85" ry="0.7" fill="#34346a" fill-opacity="0.27"/>
<ellipse cx="442.92" cy="543.30" rx="0.85" ry="0.7" fill="#34346a" fill-opacity="0.29"/>
<ellipse cx="442.01" cy="541.33" rx="0.85" ry="0.7" fill="#34346a" fill-opacity="0.61"/>
<ellipse cx="440.55" cy="541.15" rx="0.85" ry="0.7" fill="#34346a" fill-opacity="0.43"/>
<ellipse cx="455.61" cy="540.27" rx="0.85" ry="0.7" fill="#34346a" fill-opacity="0.71"/>
<ellipse cx="454.69" cy="538.34" rx="0.85" ry="0.7" fill="#34346a" fill-opacity="0.51"/>
<ellipse cx="447.40" cy="539.58" rx="0.85" ry="0.7" fill="#34346a" fill-opacity="0.74"/>
<ellipse cx="448.91" cy="542.15" rx="0.85" ry="0.7" fill="#34346a" fill-opacity="0.77"/>
<ellipse cx="449.52" cy="542.23" rx="0.85" ry="0.7" fill="#34346a" fill-opacity="0.32"/>
<ellipse cx="457.32" cy="538.66" rx="0.85" ry="0.7" fill="#34346a" fill-opacity="0.40"/>
<ellipse cx="443.60" cy="543.07" rx="0.85" ry="0.7" fill="#34346a" fill-opacity="0.47"/>
<ellipse cx="445.93" cy="541.00" rx="0.85" ry="0.7" fill="#34346a" fill-opacity="0.59"/>
<ellipse cx="449.69" cy="538.67" rx="0.85" ry="0.7" fill="#34346a" fill-opacity="0.70"/>
<ellipse cx="454.22" cy="539.24" rx="0.85" ry="0.7" fill="#34346a" fill-opacity="0.57"/>
<ellipse cx="452.19" cy="540.94" rx="0.85" ry="0.7" fill="#34346a" fill-opacity="0.42"/>
<ellipse cx="447.80" cy="539.66" rx="0.85" ry="0.7" fill="#34346a" fill-opacity="0.76"/>
<ellipse cx="440.90" cy="541.47" rx="0.85" ry="0.7" fill="#34346a" fill-opacity="0.54"/>
<ellipse cx="440.28" cy="543.89" rx="0.85" ry="0.7" fill="#34346a" fill-opacity="0.68"/>
<ellipse cx="444.78" cy="539.80" rx="0.85" ry="0.7" fill="#34346a" fill-opacity="0.32"/>
<circle cx="451.62" cy="534.96" r="0.55" fill="#666" fill-opacity="0.3"/>
<circle cx="456.60" cy="531.07" r="0.55" fill="#666" fill-opacity="0.3"/>
<circle cx="446.36" cy="529.13" r="0.55" fill="#666" fill-opacity="0.3"/>
<circle cx="484.98" cy="537.12" r="0.55" fill="#666" fill-opacity="0.3"/>
<circle cx="481.87" cy="537.35" r="0.55" fill="#666" fill-opacity="0.3"/>
<circle cx="476.15" cy="533.24" r="0.55" fill="#666" fill-opacity="0.3"/>
<circle cx="450.67" cy="530.56" r="0.55" fill="#666" fill-opacity="0.3"/>
<circle cx="446.37" cy="529.52" r="0.55" fill="#666" fill-opacity="0.3"/>
<circle cx="473.54" cy="534.37" r="0.55" fill="#666" fill-opacity="0.3"/>
<circle cx="444.09" cy="530.05" r="0.55" fill="#666" fill-opacity="0.3"/>
<circle cx="478.93" cy="537.12" r="0.55" fill="#666" fill-opacity="0.3"/>
<circle cx="473.94" cy="535.86" r="0.55" fill="#666" fill-opacity="0.3"/>
<circle cx="481.51" cy="535.64" r="0.55" fill="#666" fill-opacity="0.3"/>
<circle cx="459.57" cy="533.35" r="0.55" fill="#666" fill-opacity="0.3"/>
<line x1="485.93" y1="551.67" x2="492.43" y2="551.67" stroke="#333" stroke-width="1.3"/>
</g>
<rect x="421.00" y="519.90" width="75.50" height="37.60" fill="none" stroke="#9b74a3" stroke-width="1.8"/>
<text x="179.6" y="495.6" font-size="6.8" text-anchor="middle" fill="#3a3a3a" transform="rotate(-90 179.6 495.6)">Wild type</text>
<text x="179.7" y="538.3" font-size="6.8" text-anchor="middle" fill="#3a3a3a" transform="rotate(-90 179.7 538.3)"><tspan font-style="italic">jagn1b</tspan> MO</text>
<text x="222.30" y="567.00" font-size="7.0" text-anchor="middle" font-weight="normal" font-style="normal" fill="#1a1a1a">Control (E3)</text>
<text x="301.30" y="567.00" font-size="7.0" text-anchor="middle" font-weight="normal" font-style="normal" fill="#1a1a1a">DMSO</text>
<text x="380.20" y="567.00" font-size="7.0" text-anchor="middle" font-weight="normal" font-style="normal" fill="#1a1a1a">DTT</text>
<text x="458.70" y="567.00" font-size="7.0" text-anchor="middle" font-weight="normal" font-style="normal" fill="#1a1a1a">Tunicamycin</text>
<rect x="0.5" y="0.5" width="519" height="621" fill="none" stroke="#4a4a4a" stroke-width="1.1"/>
</svg></body></html>
